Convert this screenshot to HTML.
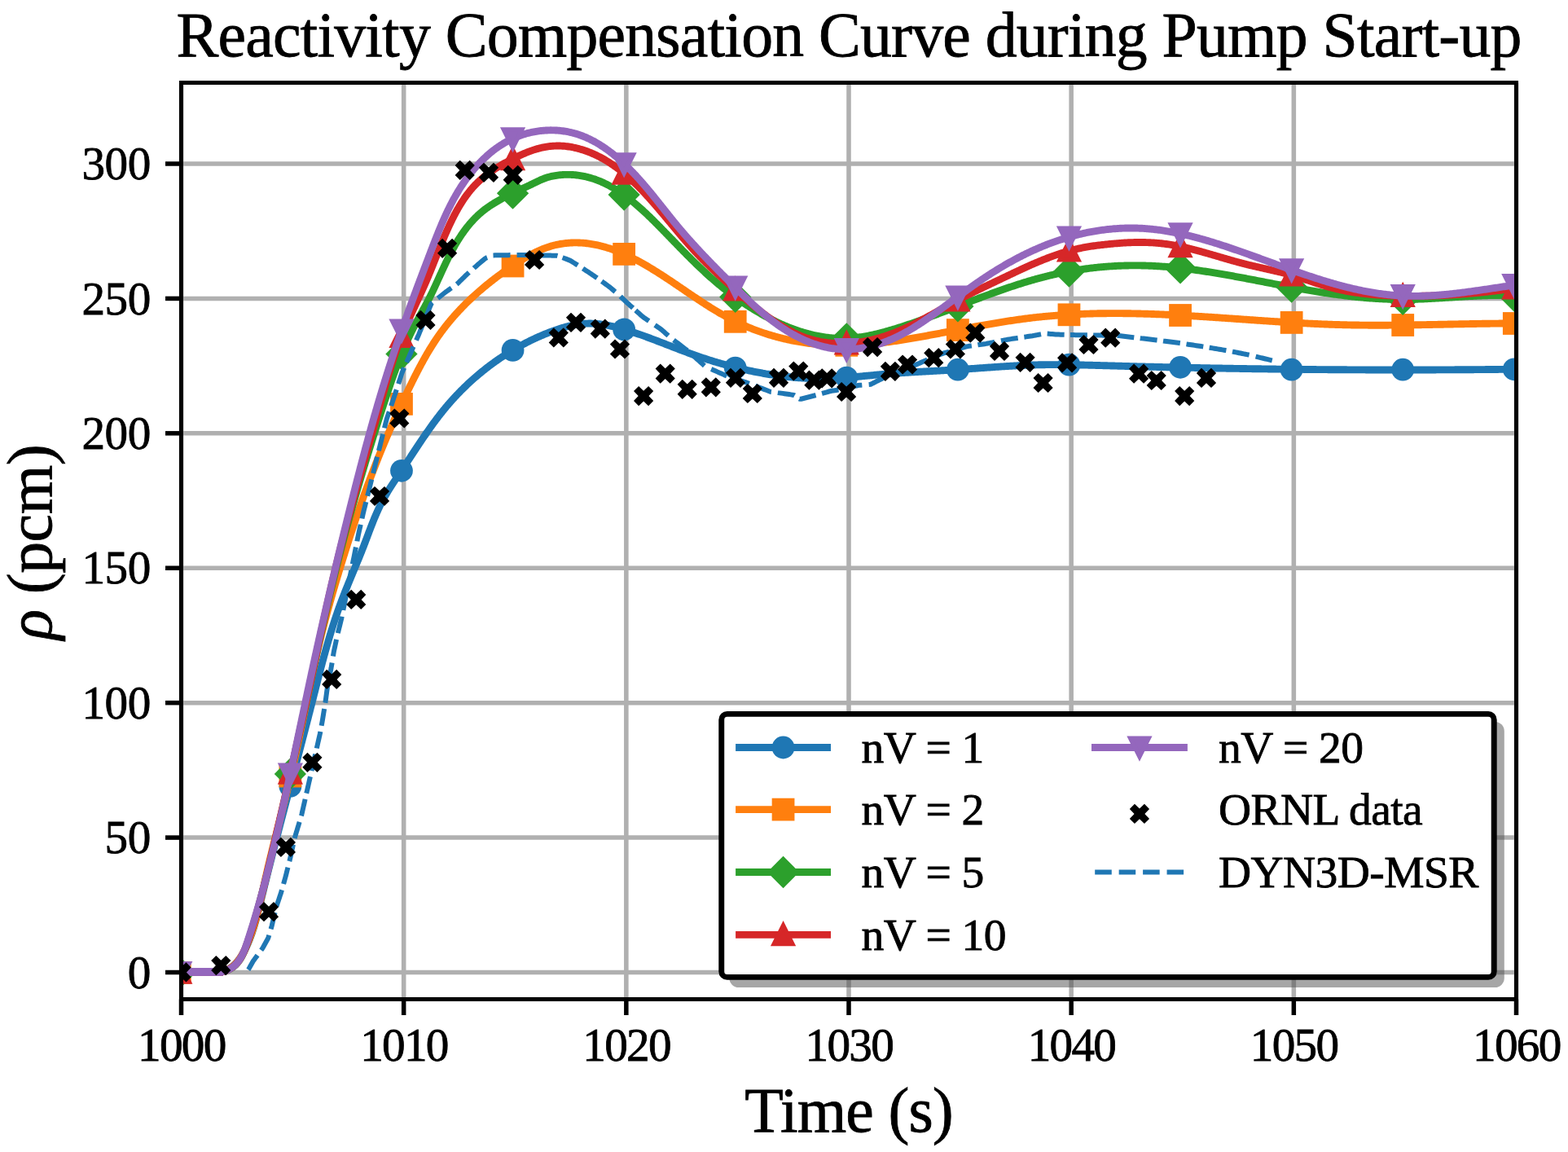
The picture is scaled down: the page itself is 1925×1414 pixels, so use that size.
<!DOCTYPE html>
<html lang="en"><head><meta charset="utf-8"><title>Reactivity Compensation Curve during Pump Start-up</title>
<style>html,body{margin:0;padding:0;background:#fff;}body{width:1925px;height:1414px;overflow:hidden;}svg{display:block;}text{font-family:"Liberation Serif","DejaVu Serif",serif;fill:#000;stroke:#000;stroke-width:0.8px;}</style></head><body>
<svg width="1925" height="1414" viewBox="0 0 1925 1414">
<rect width="1925" height="1414" fill="#fff"/>
<defs><clipPath id="ax"><rect x="222.5" y="101.5" width="1639" height="1125"/></clipPath></defs>
<g stroke="#b0b0b0" stroke-width="5.56" fill="none">
<line x1="222.5" y1="101.5" x2="222.5" y2="1226.5"/>
<line x1="495.67" y1="101.5" x2="495.67" y2="1226.5"/>
<line x1="768.83" y1="101.5" x2="768.83" y2="1226.5"/>
<line x1="1042" y1="101.5" x2="1042" y2="1226.5"/>
<line x1="1315.17" y1="101.5" x2="1315.17" y2="1226.5"/>
<line x1="1588.33" y1="101.5" x2="1588.33" y2="1226.5"/>
<line x1="1861.5" y1="101.5" x2="1861.5" y2="1226.5"/>
<line x1="222.5" y1="1193.5" x2="1861.5" y2="1193.5"/>
<line x1="222.5" y1="1028.08" x2="1861.5" y2="1028.08"/>
<line x1="222.5" y1="862.67" x2="1861.5" y2="862.67"/>
<line x1="222.5" y1="697.25" x2="1861.5" y2="697.25"/>
<line x1="222.5" y1="531.83" x2="1861.5" y2="531.83"/>
<line x1="222.5" y1="366.42" x2="1861.5" y2="366.42"/>
<line x1="222.5" y1="201" x2="1861.5" y2="201"/>
</g>
<g clip-path="url(#ax)">
<path d="M219.8 1193.4 L268.06 1193.4 L268.07 1193.4 L269.72 1193.15 L271.31 1192.83 L272.86 1192.44 L274.36 1192 L275.81 1191.5 L277.22 1190.95 L278.58 1190.35 L279.9 1189.7 L281.17 1189 L282.41 1188.25 L283.6 1187.46 L284.76 1186.63 L285.88 1185.75 L286.96 1184.84 L288.01 1183.89 L289.03 1182.9 L290.01 1181.88 L290.96 1180.82 L291.88 1179.74 L292.78 1178.62 L293.64 1177.48 L294.48 1176.32 L295.3 1175.13 L296.09 1173.92 L296.86 1172.69 L297.61 1171.44 L298.34 1170.18 L299.05 1168.9 L299.74 1167.61 L300.42 1166.3 L301.08 1164.99 L301.73 1163.67 L302.36 1162.35 L302.98 1161.01 L303.59 1159.67 L304.19 1158.32 L304.77 1156.96 L305.34 1155.6 L305.9 1154.23 L306.45 1152.86 L306.99 1151.48 L307.52 1150.09 L308.03 1148.7 L308.54 1147.3 L309.04 1145.89 L309.52 1144.48 L310 1143.07 L310.47 1141.65 L310.93 1140.23 L311.39 1138.8 L311.83 1137.37 L312.27 1135.93 L312.7 1134.49 L313.13 1133.05 L313.54 1131.6 L313.96 1130.15 L314.36 1128.69 L314.76 1127.24 L315.16 1125.78 L315.55 1124.32 L315.94 1122.85 L316.32 1121.39 L316.7 1119.92 L317.07 1118.45 L317.44 1116.98 L317.81 1115.51 L318.18 1114.03 L318.54 1112.56 L318.91 1111.08 L319.27 1109.61 L319.63 1108.13 L319.99 1106.65 L320.34 1105.18 L320.7 1103.7 L321.06 1102.23 L321.42 1100.75 L321.78 1099.28 L322.14 1097.8 L322.5 1096.33 L322.86 1094.86 L323.22 1093.39 L323.58 1091.91 L323.95 1090.44 L324.31 1088.97 L324.67 1087.5 L325.03 1086.03 L325.4 1084.56 L325.76 1083.1 L326.13 1081.63 L326.49 1080.16 L326.86 1078.7 L327.22 1077.23 L327.59 1075.76 L327.95 1074.3 L328.32 1072.83 L328.69 1071.37 L329.05 1069.91 L329.42 1068.44 L329.79 1066.98 L330.16 1065.52 L330.53 1064.06 L330.9 1062.6 L331.27 1061.13 L331.64 1059.67 L332.01 1058.21 L332.38 1056.75 L332.75 1055.3 L333.12 1053.84 L333.49 1052.38 L333.86 1050.92 L334.23 1049.46 L334.61 1048.01 L334.98 1046.55 L335.35 1045.09 L335.72 1043.64 L336.1 1042.18 L336.47 1040.73 L336.84 1039.27 L337.22 1037.82 L337.59 1036.36 L337.97 1034.91 L338.34 1033.46 L338.72 1032 L339.09 1030.55 L339.47 1029.1 L339.84 1027.65 L340.22 1026.19 L340.6 1024.74 L340.97 1023.29 L341.35 1021.84 L341.73 1020.39 L342.1 1018.94 L342.48 1017.49 L342.86 1016.04 L343.24 1014.59 L343.61 1013.14 L343.99 1011.69 L344.37 1010.24 L344.75 1008.79 L345.13 1007.35 L345.51 1005.9 L345.88 1004.45 L346.26 1003 L346.64 1001.56 L347.02 1000.11 L347.4 998.66 L347.78 997.21 L348.16 995.77 L348.54 994.32 L348.92 992.87 L349.3 991.43 L349.68 989.98 L350.06 988.54 L350.44 987.09 L350.82 985.65 L351.2 984.2 L351.58 982.76 L351.96 981.31 L352.34 979.86 L352.72 978.42 L353.1 976.98 L353.48 975.53 L353.86 974.09 L354.24 972.64 L354.62 971.2 L355.01 969.75 L355.39 968.31 L355.77 966.86 L356.15 965.42 L356.53 963.98 L356.91 962.53 L357.29 961.09 L357.67 959.64 L358.05 958.2 L358.43 956.76 L358.82 955.31 L359.2 953.87 L359.58 952.42 L359.96 950.98 L360.34 949.54 L360.72 948.09 L361.1 946.65 L361.48 945.2 L361.86 943.76 L362.24 942.32 L362.62 940.87 L363 939.43 L363.38 937.98 L363.76 936.54 L364.14 935.1 L364.53 933.65 L364.91 932.21 L365.29 930.76 L365.67 929.32 L366.05 927.87 L366.42 926.43 L366.8 924.98 L367.18 923.54 L367.56 922.09 L367.94 920.65 L368.32 919.2 L368.7 917.76 L369.08 916.31 L369.46 914.87 L369.84 913.42 L370.22 911.97 L370.59 910.53 L370.97 909.08 L371.35 907.63 L371.73 906.19 L372.11 904.74 L372.48 903.29 L372.86 901.85 L373.24 900.4 L373.61 898.95 L373.99 897.5 L374.37 896.05 L374.74 894.6 L375.12 893.16 L375.5 891.71 L375.87 890.26 L376.25 888.81 L376.62 887.36 L377 885.91 L377.37 884.46 L377.75 883.01 L378.12 881.56 L378.49 880.11 L378.87 878.65 L379.24 877.2 L379.61 875.75 L379.99 874.3 L380.36 872.85 L380.73 871.39 L381.1 869.94 L381.48 868.49 L381.85 867.03 L382.22 865.58 L382.59 864.12 L382.96 862.67 L383.33 861.21 L383.7 859.76 L384.07 858.3 L384.44 856.84 L384.81 855.39 L385.18 853.93 L385.55 852.47 L385.92 851.02 L386.29 849.56 L386.66 848.1 L387.03 846.64 L387.4 845.18 L387.77 843.73 L388.14 842.27 L388.51 840.81 L388.88 839.35 L389.25 837.89 L389.62 836.44 L390 834.98 L390.37 833.52 L390.74 832.06 L391.12 830.6 L391.5 829.15 L391.87 827.69 L392.25 826.23 L392.63 824.77 L393.01 823.32 L393.39 821.86 L393.77 820.41 L394.15 818.95 L394.54 817.49 L394.92 816.04 L395.31 814.58 L395.7 813.13 L396.09 811.67 L396.48 810.22 L396.87 808.77 L397.26 807.31 L397.66 805.86 L398.05 804.41 L398.45 802.96 L398.85 801.51 L399.25 800.06 L399.66 798.61 L400.06 797.16 L400.47 795.71 L400.88 794.26 L401.29 792.82 L401.7 791.37 L402.12 789.93 L402.54 788.48 L402.96 787.04 L403.38 785.59 L403.81 784.15 L404.23 782.71 L404.66 781.27 L405.09 779.83 L405.53 778.39 L405.96 776.96 L406.4 775.52 L406.85 774.08 L407.29 772.65 L407.74 771.22 L408.19 769.78 L408.64 768.35 L409.1 766.92 L409.56 765.49 L410.02 764.07 L410.49 762.64 L410.95 761.21 L411.43 759.79 L411.9 758.37 L412.38 756.95 L412.86 755.53 L413.34 754.11 L413.83 752.69 L414.32 751.27 L414.82 749.86 L415.32 748.44 L415.82 747.03 L416.33 745.62 L416.84 744.21 L417.35 742.81 L417.87 741.4 L418.39 739.99 L418.91 738.59 L419.44 737.19 L419.97 735.79 L420.51 734.39 L421.04 732.99 L421.59 731.6 L422.13 730.2 L422.68 728.81 L423.22 727.41 L423.78 726.02 L424.33 724.63 L424.89 723.24 L425.44 721.85 L426.01 720.46 L426.57 719.07 L427.13 717.69 L427.7 716.3 L428.26 714.91 L428.83 713.53 L429.4 712.14 L429.97 710.76 L430.54 709.37 L431.11 707.99 L431.69 706.6 L432.26 705.22 L432.83 703.84 L433.41 702.45 L433.98 701.07 L434.56 699.69 L435.13 698.3 L435.7 696.92 L436.28 695.53 L436.85 694.15 L437.42 692.76 L437.99 691.38 L438.57 689.99 L439.14 688.61 L439.7 687.22 L440.27 685.83 L440.84 684.44 L441.4 683.05 L441.96 681.66 L442.52 680.27 L443.08 678.88 L443.64 677.49 L444.19 676.1 L444.75 674.7 L445.29 673.31 L445.84 671.91 L446.39 670.51 L446.93 669.11 L447.47 667.71 L448 666.31 L448.54 664.91 L449.07 663.51 L449.6 662.11 L450.13 660.7 L450.66 659.3 L451.19 657.89 L451.72 656.49 L452.25 655.09 L452.78 653.68 L453.31 652.28 L453.85 650.88 L454.38 649.48 L454.92 648.08 L455.46 646.68 L456 645.29 L456.55 643.89 L457.1 642.5 L457.65 641.11 L458.2 639.72 L458.77 638.33 L459.33 636.94 L459.9 635.56 L460.48 634.18 L461.06 632.81 L461.65 631.43 L462.25 630.06 L462.85 628.7 L463.46 627.33 L464.07 625.97 L464.7 624.62 L465.33 623.27 L465.97 621.92 L466.62 620.58 L467.28 619.24 L467.95 617.9 L468.63 616.58 L469.32 615.25 L470.02 613.93 L470.73 612.62 L471.45 611.31 L472.18 610.01 L472.92 608.71 L473.67 607.41 L474.43 606.12 L475.2 604.84 L475.97 603.56 L476.75 602.28 L477.54 601 L478.34 599.73 L479.14 598.46 L479.95 597.19 L480.76 595.93 L481.57 594.67 L482.39 593.41 L483.22 592.15 L484.05 590.89 L484.88 589.64 L485.71 588.39 L486.55 587.13 L487.38 585.88 L488.22 584.63 L489.06 583.38 L489.9 582.13 L490.74 580.88 L491.58 579.63 L492.42 578.38 L493.25 577.13 L494.09 575.87 L494.92 574.62 L495.75 573.36 L496.58 572.11 L497.41 570.85 L498.24 569.6 L499.07 568.34 L499.89 567.09 L500.72 565.83 L501.55 564.57 L502.37 563.32 L503.19 562.06 L504.02 560.81 L504.84 559.55 L505.67 558.29 L506.49 557.04 L507.32 555.78 L508.14 554.53 L508.96 553.28 L509.79 552.02 L510.62 550.77 L511.44 549.52 L512.27 548.27 L513.1 547.02 L513.93 545.77 L514.76 544.52 L515.59 543.28 L516.43 542.03 L517.26 540.79 L518.1 539.55 L518.94 538.31 L519.78 537.07 L520.62 535.83 L521.47 534.6 L522.31 533.37 L523.16 532.13 L524.01 530.91 L524.87 529.68 L525.73 528.45 L526.59 527.23 L527.45 526.01 L528.31 524.79 L529.18 523.58 L530.06 522.37 L530.93 521.16 L531.81 519.95 L532.69 518.74 L533.58 517.54 L534.47 516.34 L535.36 515.15 L536.26 513.96 L537.16 512.77 L538.07 511.58 L538.98 510.4 L539.89 509.22 L540.81 508.04 L541.74 506.87 L542.67 505.7 L543.6 504.54 L544.54 503.38 L545.49 502.22 L546.44 501.07 L547.39 499.92 L548.35 498.77 L549.32 497.63 L550.29 496.5 L551.27 495.37 L552.25 494.24 L553.24 493.11 L554.23 492 L555.23 490.88 L556.24 489.77 L557.25 488.66 L558.26 487.56 L559.28 486.47 L560.31 485.37 L561.34 484.29 L562.37 483.2 L563.41 482.12 L564.46 481.05 L565.51 479.98 L566.57 478.92 L567.63 477.86 L568.7 476.8 L569.77 475.75 L570.85 474.71 L571.93 473.67 L573.01 472.63 L574.11 471.6 L575.2 470.57 L576.3 469.55 L577.41 468.54 L578.52 467.53 L579.64 466.52 L580.76 465.52 L581.88 464.53 L583.01 463.53 L584.15 462.55 L585.29 461.57 L586.43 460.6 L587.58 459.63 L588.73 458.66 L589.89 457.7 L591.05 456.75 L592.22 455.8 L593.39 454.86 L594.57 453.92 L595.75 452.99 L596.93 452.06 L598.12 451.14 L599.32 450.23 L600.51 449.32 L601.72 448.41 L602.92 447.52 L604.13 446.62 L605.35 445.74 L606.57 444.86 L607.79 443.98 L609.02 443.11 L610.25 442.25 L611.48 441.39 L612.72 440.54 L613.97 439.69 L615.21 438.85 L616.46 438.02 L617.72 437.19 L618.98 436.37 L620.24 435.55 L621.51 434.74 L622.78 433.94 L624.06 433.14 L625.33 432.35 L626.62 431.56 L627.9 430.79 L629.19 430.01 L630.49 429.25 L631.78 428.49 L633.08 427.73 L634.39 426.99 L635.7 426.25 L637.01 425.51 L638.32 424.78 L639.64 424.06 L640.96 423.35 L642.29 422.64 L643.62 421.94 L644.95 421.24 L646.29 420.55 L647.62 419.87 L648.97 419.2 L650.31 418.53 L651.66 417.87 L653.01 417.21 L654.37 416.57 L655.73 415.93 L657.09 415.29 L658.45 414.66 L659.82 414.04 L661.19 413.43 L662.57 412.83 L663.94 412.23 L665.32 411.64 L666.71 411.05 L668.09 410.47 L669.48 409.9 L670.87 409.34 L672.27 408.78 L673.67 408.23 L675.07 407.69 L676.47 407.16 L677.88 406.63 L679.29 406.12 L680.7 405.61 L682.11 405.11 L683.53 404.62 L684.95 404.15 L686.37 403.68 L687.79 403.22 L689.22 402.78 L690.65 402.35 L692.08 401.93 L693.51 401.53 L694.95 401.14 L696.39 400.77 L697.83 400.41 L699.27 400.06 L700.72 399.73 L702.17 399.42 L703.61 399.13 L705.07 398.85 L706.52 398.59 L707.98 398.35 L709.43 398.12 L710.89 397.92 L712.36 397.74 L713.82 397.57 L715.28 397.43 L716.75 397.31 L718.22 397.21 L719.69 397.14 L721.16 397.08 L722.64 397.05 L724.11 397.04 L725.59 397.06 L727.07 397.1 L728.55 397.16 L730.03 397.25 L731.51 397.35 L733 397.48 L734.48 397.62 L735.96 397.79 L737.45 397.97 L738.93 398.17 L740.41 398.39 L741.9 398.62 L743.38 398.87 L744.87 399.14 L746.35 399.42 L747.83 399.72 L749.31 400.03 L750.79 400.35 L752.27 400.69 L753.75 401.04 L755.22 401.4 L756.69 401.77 L758.17 402.15 L759.64 402.54 L761.1 402.94 L762.57 403.34 L764.03 403.76 L765.49 404.18 L766.95 404.61 L768.4 405.04 L769.86 405.48 L771.3 405.93 L772.75 406.38 L774.19 406.84 L775.64 407.3 L777.08 407.76 L778.51 408.24 L779.95 408.71 L781.38 409.2 L782.81 409.68 L784.24 410.17 L785.66 410.67 L787.09 411.16 L788.51 411.67 L789.93 412.17 L791.35 412.68 L792.76 413.19 L794.18 413.71 L795.59 414.23 L797.01 414.75 L798.42 415.27 L799.83 415.8 L801.24 416.33 L802.64 416.86 L804.05 417.39 L805.45 417.93 L806.86 418.46 L808.26 419 L809.66 419.54 L811.07 420.08 L812.47 420.62 L813.87 421.16 L815.27 421.71 L816.67 422.25 L818.06 422.79 L819.46 423.34 L820.86 423.88 L822.26 424.42 L823.66 424.97 L825.06 425.51 L826.45 426.05 L827.85 426.59 L829.25 427.13 L830.65 427.67 L832.05 428.21 L833.44 428.74 L834.84 429.28 L836.24 429.81 L837.64 430.34 L839.04 430.87 L840.45 431.39 L841.85 431.91 L843.25 432.43 L844.66 432.95 L846.06 433.47 L847.47 433.98 L848.87 434.49 L850.28 434.99 L851.69 435.49 L853.1 435.99 L854.51 436.48 L855.93 436.97 L857.34 437.46 L858.75 437.94 L860.17 438.42 L861.59 438.9 L863.01 439.37 L864.42 439.84 L865.85 440.31 L867.27 440.77 L868.69 441.23 L870.11 441.68 L871.54 442.13 L872.97 442.58 L874.39 443.02 L875.82 443.46 L877.25 443.9 L878.68 444.33 L880.11 444.76 L881.55 445.18 L882.98 445.6 L884.42 446.02 L885.86 446.43 L887.29 446.84 L888.73 447.25 L890.17 447.65 L891.61 448.04 L893.06 448.44 L894.5 448.83 L895.95 449.21 L897.39 449.59 L898.84 449.97 L900.29 450.34 L901.74 450.71 L903.19 451.07 L904.64 451.43 L906.1 451.79 L907.55 452.14 L909.01 452.49 L910.47 452.83 L911.93 453.17 L913.39 453.5 L914.85 453.83 L916.31 454.16 L917.77 454.48 L919.24 454.8 L920.7 455.11 L922.17 455.42 L923.64 455.72 L925.11 456.02 L926.58 456.32 L928.06 456.61 L929.53 456.89 L931 457.18 L932.48 457.45 L933.96 457.72 L935.44 457.99 L936.92 458.26 L938.4 458.51 L939.88 458.77 L941.37 459.02 L942.85 459.26 L944.34 459.5 L945.82 459.73 L947.31 459.96 L948.8 460.19 L950.29 460.41 L951.78 460.62 L953.27 460.83 L954.76 461.03 L956.25 461.23 L957.75 461.43 L959.24 461.62 L960.74 461.8 L962.23 461.98 L963.73 462.15 L965.22 462.32 L966.72 462.48 L968.22 462.64 L969.72 462.79 L971.22 462.94 L972.71 463.08 L974.21 463.21 L975.71 463.34 L977.21 463.47 L978.71 463.58 L980.21 463.7 L981.71 463.8 L983.22 463.91 L984.72 464 L986.22 464.09 L987.72 464.18 L989.22 464.25 L990.72 464.33 L992.22 464.39 L993.72 464.45 L995.23 464.51 L996.73 464.55 L998.23 464.6 L999.73 464.63 L1001.23 464.66 L1002.73 464.69 L1004.23 464.7 L1005.73 464.71 L1007.23 464.72 L1008.73 464.72 L1010.23 464.71 L1011.72 464.7 L1013.22 464.67 L1014.72 464.65 L1016.22 464.61 L1017.71 464.57 L1019.21 464.53 L1020.7 464.48 L1022.2 464.42 L1023.69 464.36 L1025.19 464.29 L1026.68 464.22 L1028.17 464.14 L1029.67 464.05 L1031.16 463.97 L1032.65 463.87 L1034.14 463.78 L1035.64 463.68 L1037.13 463.57 L1038.62 463.47 L1040.11 463.36 L1041.6 463.24 L1043.09 463.12 L1044.58 463 L1046.07 462.88 L1047.56 462.76 L1049.05 462.63 L1050.54 462.5 L1052.03 462.37 L1053.52 462.23 L1055.01 462.1 L1056.5 461.96 L1057.99 461.82 L1059.48 461.69 L1060.97 461.55 L1062.46 461.41 L1063.95 461.27 L1065.44 461.13 L1066.93 460.98 L1068.42 460.84 L1069.91 460.7 L1071.4 460.56 L1072.89 460.42 L1074.38 460.28 L1075.87 460.15 L1077.36 460.01 L1078.85 459.88 L1080.34 459.74 L1081.83 459.61 L1083.33 459.48 L1084.82 459.35 L1086.31 459.23 L1087.8 459.11 L1089.3 458.99 L1090.79 458.87 L1092.29 458.75 L1093.78 458.64 L1095.27 458.52 L1096.77 458.41 L1098.26 458.3 L1099.76 458.19 L1101.25 458.09 L1102.75 457.98 L1104.25 457.88 L1105.74 457.78 L1107.24 457.68 L1108.73 457.58 L1110.23 457.48 L1111.73 457.39 L1113.23 457.29 L1114.72 457.2 L1116.22 457.11 L1117.72 457.01 L1119.22 456.92 L1120.71 456.83 L1122.21 456.74 L1123.71 456.66 L1125.21 456.57 L1126.71 456.48 L1128.21 456.4 L1129.71 456.31 L1131.2 456.23 L1132.7 456.14 L1134.2 456.06 L1135.7 455.97 L1137.2 455.89 L1138.7 455.81 L1140.2 455.72 L1141.7 455.64 L1143.2 455.56 L1144.7 455.48 L1146.2 455.39 L1147.7 455.31 L1149.2 455.23 L1150.7 455.14 L1152.2 455.06 L1153.7 454.98 L1155.2 454.89 L1156.7 454.81 L1158.2 454.72 L1159.7 454.64 L1161.2 454.55 L1162.7 454.46 L1164.2 454.38 L1165.7 454.29 L1167.2 454.2 L1168.7 454.11 L1170.2 454.02 L1171.7 453.93 L1173.2 453.83 L1174.69 453.74 L1176.19 453.64 L1177.69 453.55 L1179.19 453.45 L1180.69 453.35 L1182.19 453.25 L1183.69 453.15 L1185.19 453.05 L1186.69 452.95 L1188.19 452.84 L1189.68 452.74 L1191.18 452.64 L1192.68 452.53 L1194.18 452.43 L1195.68 452.32 L1197.18 452.21 L1198.68 452.11 L1200.17 452 L1201.67 451.89 L1203.17 451.79 L1204.67 451.68 L1206.17 451.57 L1207.66 451.47 L1209.16 451.36 L1210.66 451.25 L1212.16 451.15 L1213.66 451.04 L1215.15 450.94 L1216.65 450.83 L1218.15 450.73 L1219.65 450.63 L1221.14 450.52 L1222.64 450.42 L1224.14 450.32 L1225.64 450.22 L1227.14 450.12 L1228.63 450.02 L1230.13 449.92 L1231.63 449.83 L1233.13 449.73 L1234.62 449.64 L1236.12 449.55 L1237.62 449.46 L1239.12 449.37 L1240.61 449.28 L1242.11 449.19 L1243.61 449.11 L1245.11 449.02 L1246.6 448.94 L1248.1 448.86 L1249.6 448.79 L1251.1 448.71 L1252.59 448.64 L1254.09 448.56 L1255.59 448.5 L1257.09 448.43 L1258.59 448.36 L1260.08 448.3 L1261.58 448.24 L1263.08 448.18 L1264.58 448.13 L1266.08 448.08 L1267.57 448.03 L1269.07 447.98 L1270.57 447.94 L1272.07 447.9 L1273.57 447.86 L1275.06 447.82 L1276.56 447.79 L1278.06 447.76 L1279.56 447.73 L1281.06 447.71 L1282.56 447.69 L1284.05 447.67 L1285.55 447.65 L1287.05 447.64 L1288.55 447.63 L1290.05 447.62 L1291.55 447.61 L1293.05 447.6 L1294.55 447.6 L1296.04 447.6 L1297.54 447.6 L1299.04 447.6 L1300.54 447.61 L1302.04 447.62 L1303.54 447.62 L1305.04 447.64 L1306.54 447.65 L1308.04 447.66 L1309.54 447.68 L1311.04 447.7 L1312.53 447.71 L1314.03 447.74 L1315.53 447.76 L1317.03 447.78 L1318.53 447.81 L1320.03 447.83 L1321.53 447.86 L1323.03 447.89 L1324.53 447.92 L1326.03 447.95 L1327.53 447.98 L1329.03 448.01 L1330.53 448.05 L1332.03 448.08 L1333.53 448.12 L1335.03 448.16 L1336.53 448.19 L1338.02 448.23 L1339.52 448.27 L1341.02 448.31 L1342.52 448.35 L1344.02 448.39 L1345.52 448.43 L1347.02 448.47 L1348.52 448.51 L1350.02 448.56 L1351.52 448.6 L1353.02 448.64 L1354.52 448.68 L1356.02 448.73 L1357.52 448.77 L1359.02 448.81 L1360.52 448.85 L1362.02 448.9 L1363.52 448.94 L1365.02 448.98 L1366.52 449.03 L1368.02 449.07 L1369.52 449.11 L1371.02 449.15 L1372.52 449.19 L1374.02 449.23 L1375.52 449.27 L1377.02 449.32 L1378.52 449.36 L1380.02 449.4 L1381.52 449.44 L1383.01 449.48 L1384.51 449.52 L1386.01 449.56 L1387.51 449.6 L1389.01 449.64 L1390.51 449.68 L1392.01 449.72 L1393.51 449.76 L1395.01 449.79 L1396.51 449.83 L1398.01 449.87 L1399.51 449.91 L1401.01 449.95 L1402.51 449.99 L1404.01 450.02 L1405.51 450.06 L1407.01 450.1 L1408.51 450.14 L1410.01 450.17 L1411.51 450.21 L1413.01 450.25 L1414.51 450.28 L1416.01 450.32 L1417.51 450.36 L1419.01 450.39 L1420.51 450.43 L1422.01 450.46 L1423.51 450.5 L1425.01 450.53 L1426.51 450.57 L1428.01 450.6 L1429.51 450.64 L1431 450.67 L1432.5 450.71 L1434 450.74 L1435.5 450.78 L1437 450.81 L1438.5 450.84 L1440 450.88 L1441.5 450.91 L1443 450.94 L1444.5 450.98 L1446 451.01 L1447.5 451.04 L1449 451.08 L1450.5 451.11 L1452 451.14 L1453.5 451.17 L1455 451.2 L1456.5 451.24 L1458 451.27 L1459.5 451.3 L1461 451.33 L1462.5 451.36 L1464 451.39 L1465.5 451.42 L1467 451.45 L1468.5 451.48 L1470 451.51 L1471.5 451.54 L1473 451.57 L1474.5 451.6 L1476 451.63 L1477.5 451.66 L1479 451.69 L1480.5 451.72 L1481.99 451.74 L1483.49 451.77 L1484.99 451.8 L1486.49 451.83 L1487.99 451.86 L1489.49 451.88 L1490.99 451.91 L1492.49 451.94 L1493.99 451.97 L1495.49 451.99 L1496.99 452.02 L1498.49 452.05 L1499.99 452.07 L1501.49 452.1 L1502.99 452.13 L1504.49 452.15 L1505.99 452.18 L1507.49 452.2 L1508.99 452.23 L1510.49 452.25 L1511.99 452.28 L1513.49 452.3 L1514.99 452.33 L1516.49 452.35 L1517.99 452.38 L1519.49 452.4 L1520.99 452.42 L1522.49 452.45 L1523.99 452.47 L1525.49 452.49 L1526.99 452.52 L1528.49 452.54 L1529.99 452.56 L1531.49 452.59 L1532.99 452.61 L1534.49 452.63 L1535.98 452.65 L1537.48 452.68 L1538.98 452.7 L1540.48 452.72 L1541.98 452.74 L1543.48 452.76 L1544.98 452.78 L1546.48 452.8 L1547.98 452.82 L1549.48 452.84 L1550.98 452.86 L1552.48 452.88 L1553.98 452.9 L1555.48 452.92 L1556.98 452.94 L1558.48 452.96 L1559.98 452.98 L1561.48 453 L1562.98 453.02 L1564.48 453.04 L1565.98 453.06 L1567.48 453.08 L1568.98 453.09 L1570.48 453.11 L1571.98 453.13 L1573.48 453.15 L1574.98 453.16 L1576.48 453.18 L1577.98 453.2 L1579.48 453.22 L1580.98 453.23 L1582.48 453.25 L1583.98 453.27 L1585.48 453.28 L1586.98 453.3 L1588.48 453.31 L1589.98 453.33 L1591.48 453.34 L1592.98 453.36 L1594.48 453.38 L1595.98 453.39 L1597.48 453.4 L1598.98 453.42 L1600.47 453.43 L1601.97 453.45 L1603.47 453.46 L1604.97 453.48 L1606.47 453.49 L1607.97 453.5 L1609.47 453.52 L1610.97 453.53 L1612.47 453.54 L1613.97 453.56 L1615.47 453.57 L1616.97 453.58 L1618.47 453.59 L1619.97 453.6 L1621.47 453.62 L1622.97 453.63 L1624.47 453.64 L1625.97 453.65 L1627.47 453.66 L1628.97 453.67 L1630.47 453.68 L1631.97 453.69 L1633.47 453.71 L1634.97 453.72 L1636.47 453.73 L1637.97 453.74 L1639.47 453.75 L1640.97 453.75 L1642.47 453.76 L1643.97 453.77 L1645.47 453.78 L1646.97 453.79 L1648.47 453.8 L1649.97 453.81 L1651.47 453.82 L1652.97 453.82 L1654.47 453.83 L1655.97 453.84 L1657.47 453.85 L1658.97 453.86 L1660.47 453.86 L1661.97 453.87 L1663.47 453.88 L1664.97 453.88 L1666.47 453.89 L1667.97 453.9 L1669.47 453.9 L1670.97 453.91 L1672.47 453.91 L1673.97 453.92 L1675.47 453.92 L1676.97 453.93 L1678.47 453.93 L1679.97 453.94 L1681.47 453.94 L1682.97 453.95 L1684.47 453.95 L1685.97 453.96 L1687.47 453.96 L1688.97 453.96 L1690.47 453.97 L1691.97 453.97 L1693.47 453.98 L1694.97 453.98 L1696.47 453.98 L1697.97 453.98 L1699.47 453.99 L1700.97 453.99 L1702.46 453.99 L1703.96 453.99 L1705.46 453.99 L1706.96 454 L1708.46 454 L1709.96 454 L1711.46 454 L1712.96 454 L1714.46 454 L1715.96 454 L1717.46 454 L1718.96 454 L1720.46 454 L1721.96 454 L1723.46 454 L1724.96 454 L1726.46 454 L1727.96 454 L1729.46 454 L1730.96 454 L1732.46 454 L1733.96 453.99 L1735.46 453.99 L1736.96 453.99 L1738.46 453.99 L1739.96 453.99 L1741.46 453.98 L1742.96 453.98 L1744.46 453.98 L1745.96 453.98 L1747.46 453.97 L1748.96 453.97 L1750.46 453.96 L1751.96 453.96 L1753.46 453.96 L1754.96 453.95 L1756.46 453.95 L1757.96 453.94 L1759.46 453.94 L1760.96 453.93 L1762.46 453.93 L1763.96 453.92 L1765.46 453.92 L1766.96 453.91 L1768.46 453.91 L1769.96 453.9 L1771.46 453.9 L1772.96 453.89 L1774.46 453.88 L1775.96 453.88 L1777.46 453.87 L1778.96 453.86 L1780.46 453.85 L1781.96 453.85 L1783.46 453.84 L1784.96 453.83 L1786.46 453.82 L1787.96 453.82 L1789.46 453.81 L1790.96 453.8 L1792.46 453.79 L1793.96 453.78 L1795.46 453.77 L1796.96 453.76 L1798.46 453.75 L1799.96 453.74 L1801.46 453.73 L1802.96 453.72 L1804.46 453.71 L1805.96 453.7 L1807.46 453.69 L1808.96 453.68 L1810.47 453.67 L1811.97 453.66 L1813.47 453.65 L1814.97 453.64 L1816.47 453.63 L1817.97 453.62 L1819.47 453.6 L1820.97 453.59 L1822.47 453.58 L1823.97 453.57 L1825.47 453.55 L1826.97 453.54 L1828.47 453.53 L1829.97 453.51 L1831.47 453.5 L1832.97 453.49 L1834.47 453.47 L1835.97 453.46 L1837.47 453.45 L1838.97 453.43 L1840.47 453.42 L1841.97 453.4 L1843.47 453.39 L1844.97 453.37 L1846.47 453.36 L1847.97 453.34 L1849.47 453.33 L1850.97 453.31 L1852.47 453.3 L1853.97 453.28 L1855.47 453.26 L1856.97 453.25 L1858.47 453.23 L1859.97 453.21 L1861.47 453.2 L1862.97 453.18 L1864.47 453.16 L1865.97 453.14 L1867.47 453.13 L1868.97 453.11" fill="none" stroke="#1f77b4" stroke-width="8.9" stroke-linejoin="round" stroke-linecap="butt"/>
<line x1="219" y1="1192.9" x2="274" y2="1192.9" stroke="#1f77b4" stroke-width="9.9"/>
<g><circle cx="220.8" cy="1193.8" r="13.89" fill="#1f77b4"/><circle cx="356.38" cy="964.9" r="13.89" fill="#1f77b4"/><circle cx="492.97" cy="577.8" r="13.89" fill="#1f77b4"/><circle cx="629.55" cy="429.9" r="13.89" fill="#1f77b4"/><circle cx="766.13" cy="404.4" r="13.89" fill="#1f77b4"/><circle cx="902.71" cy="451.6" r="13.89" fill="#1f77b4"/><circle cx="1039.3" cy="463.6" r="13.89" fill="#1f77b4"/><circle cx="1175.88" cy="453.7" r="13.89" fill="#1f77b4"/><circle cx="1312.46" cy="447.7" r="13.89" fill="#1f77b4"/><circle cx="1449.05" cy="450.8" r="13.89" fill="#1f77b4"/><circle cx="1585.63" cy="453.7" r="13.89" fill="#1f77b4"/><circle cx="1722.21" cy="453.7" r="13.89" fill="#1f77b4"/><circle cx="1858.8" cy="453.3" r="13.89" fill="#1f77b4"/></g>
<path d="M219.8 1193.4 L268.02 1193.4 L268.03 1193.4 L269.72 1193.2 L271.34 1192.92 L272.92 1192.58 L274.43 1192.17 L275.9 1191.7 L277.32 1191.17 L278.69 1190.59 L280.01 1189.95 L281.29 1189.26 L282.53 1188.51 L283.72 1187.72 L284.87 1186.88 L285.98 1186 L287.05 1185.07 L288.09 1184.11 L289.09 1183.1 L290.06 1182.06 L290.99 1180.99 L291.9 1179.88 L292.77 1178.74 L293.62 1177.58 L294.44 1176.39 L295.24 1175.17 L296.01 1173.93 L296.76 1172.68 L297.49 1171.4 L298.2 1170.11 L298.89 1168.81 L299.57 1167.5 L300.23 1166.17 L300.88 1164.84 L301.52 1163.5 L302.15 1162.16 L302.76 1160.81 L303.36 1159.46 L303.95 1158.1 L304.53 1156.73 L305.1 1155.36 L305.66 1153.98 L306.21 1152.6 L306.74 1151.22 L307.27 1149.83 L307.79 1148.43 L308.3 1147.03 L308.8 1145.63 L309.29 1144.22 L309.77 1142.81 L310.24 1141.39 L310.71 1139.97 L311.16 1138.54 L311.61 1137.12 L312.06 1135.68 L312.49 1134.25 L312.92 1132.81 L313.34 1131.37 L313.75 1129.92 L314.16 1128.47 L314.56 1127.02 L314.96 1125.57 L315.35 1124.11 L315.73 1122.65 L316.11 1121.19 L316.48 1119.73 L316.85 1118.26 L317.22 1116.8 L317.58 1115.33 L317.94 1113.86 L318.29 1112.38 L318.64 1110.91 L318.98 1109.43 L319.33 1107.95 L319.67 1106.48 L320 1105 L320.34 1103.51 L320.67 1102.03 L321 1100.55 L321.33 1099.07 L321.66 1097.59 L321.99 1096.1 L322.31 1094.62 L322.64 1093.13 L322.96 1091.65 L323.29 1090.17 L323.61 1088.68 L323.94 1087.2 L324.26 1085.72 L324.59 1084.24 L324.92 1082.75 L325.24 1081.27 L325.57 1079.79 L325.9 1078.32 L326.24 1076.84 L326.57 1075.36 L326.91 1073.89 L327.24 1072.41 L327.58 1070.94 L327.92 1069.47 L328.26 1068 L328.61 1066.53 L328.95 1065.06 L329.3 1063.59 L329.65 1062.13 L330 1060.66 L330.35 1059.19 L330.7 1057.73 L331.05 1056.27 L331.4 1054.8 L331.76 1053.34 L332.11 1051.88 L332.47 1050.42 L332.83 1048.96 L333.19 1047.5 L333.55 1046.04 L333.91 1044.59 L334.27 1043.13 L334.63 1041.67 L335 1040.22 L335.36 1038.76 L335.72 1037.31 L336.09 1035.86 L336.45 1034.4 L336.82 1032.95 L337.19 1031.5 L337.56 1030.05 L337.92 1028.6 L338.29 1027.14 L338.66 1025.69 L339.03 1024.24 L339.4 1022.8 L339.77 1021.35 L340.14 1019.9 L340.51 1018.45 L340.88 1017 L341.25 1015.55 L341.62 1014.11 L341.99 1012.66 L342.36 1011.21 L342.73 1009.76 L343.1 1008.32 L343.48 1006.87 L343.85 1005.42 L344.22 1003.98 L344.59 1002.53 L344.96 1001.08 L345.33 999.64 L345.7 998.19 L346.06 996.75 L346.43 995.3 L346.8 993.85 L347.17 992.41 L347.54 990.96 L347.9 989.52 L348.27 988.07 L348.64 986.62 L349 985.18 L349.37 983.73 L349.73 982.28 L350.09 980.83 L350.45 979.39 L350.82 977.94 L351.18 976.49 L351.53 975.04 L351.89 973.59 L352.25 972.15 L352.61 970.7 L352.96 969.25 L353.32 967.8 L353.67 966.35 L354.02 964.89 L354.37 963.44 L354.72 961.99 L355.07 960.54 L355.42 959.09 L355.77 957.63 L356.11 956.18 L356.45 954.72 L356.79 953.27 L357.13 951.81 L357.47 950.36 L357.81 948.9 L358.15 947.44 L358.48 945.98 L358.81 944.53 L359.14 943.07 L359.47 941.61 L359.8 940.15 L360.13 938.69 L360.46 937.22 L360.78 935.76 L361.11 934.3 L361.43 932.84 L361.75 931.37 L362.07 929.91 L362.39 928.45 L362.71 926.98 L363.03 925.52 L363.34 924.05 L363.66 922.58 L363.98 921.12 L364.29 919.65 L364.6 918.18 L364.91 916.72 L365.23 915.25 L365.54 913.78 L365.85 912.31 L366.16 910.84 L366.46 909.37 L366.77 907.91 L367.08 906.44 L367.39 904.97 L367.69 903.5 L368 902.03 L368.3 900.55 L368.61 899.08 L368.91 897.61 L369.21 896.14 L369.52 894.67 L369.82 893.2 L370.12 891.73 L370.42 890.25 L370.73 888.78 L371.03 887.31 L371.33 885.84 L371.63 884.37 L371.93 882.89 L372.23 881.42 L372.53 879.95 L372.83 878.47 L373.13 877 L373.43 875.53 L373.73 874.06 L374.03 872.58 L374.34 871.11 L374.64 869.64 L374.94 868.16 L375.24 866.69 L375.54 865.22 L375.84 863.75 L376.14 862.27 L376.44 860.8 L376.74 859.33 L377.05 857.86 L377.35 856.38 L377.65 854.91 L377.96 853.44 L378.26 851.97 L378.56 850.5 L378.87 849.02 L379.17 847.55 L379.48 846.08 L379.79 844.61 L380.09 843.14 L380.4 841.67 L380.71 840.2 L381.02 838.73 L381.33 837.26 L381.64 835.79 L381.95 834.32 L382.26 832.85 L382.57 831.38 L382.89 829.91 L383.2 828.44 L383.52 826.97 L383.83 825.51 L384.15 824.04 L384.47 822.57 L384.79 821.11 L385.11 819.64 L385.43 818.17 L385.75 816.71 L386.08 815.24 L386.4 813.78 L386.73 812.32 L387.05 810.85 L387.38 809.39 L387.71 807.93 L388.04 806.46 L388.38 805 L388.71 803.54 L389.04 802.08 L389.38 800.62 L389.72 799.16 L390.06 797.7 L390.4 796.24 L390.74 794.79 L391.09 793.33 L391.43 791.87 L391.78 790.42 L392.13 788.96 L392.48 787.51 L392.83 786.05 L393.18 784.6 L393.54 783.15 L393.9 781.69 L394.26 780.24 L394.62 778.79 L394.98 777.34 L395.35 775.89 L395.71 774.44 L396.08 772.99 L396.45 771.55 L396.82 770.1 L397.19 768.65 L397.57 767.21 L397.94 765.76 L398.32 764.32 L398.7 762.87 L399.08 761.43 L399.46 759.98 L399.84 758.54 L400.23 757.1 L400.62 755.65 L401 754.21 L401.39 752.77 L401.79 751.33 L402.18 749.89 L402.57 748.45 L402.97 747.01 L403.36 745.57 L403.76 744.13 L404.16 742.69 L404.56 741.25 L404.96 739.82 L405.37 738.38 L405.77 736.94 L406.18 735.51 L406.59 734.07 L406.99 732.63 L407.4 731.2 L407.82 729.76 L408.23 728.33 L408.64 726.89 L409.06 725.45 L409.47 724.02 L409.89 722.59 L410.31 721.15 L410.73 719.72 L411.15 718.28 L411.57 716.85 L411.99 715.42 L412.42 713.98 L412.84 712.55 L413.27 711.12 L413.7 709.68 L414.13 708.25 L414.56 706.82 L414.99 705.38 L415.42 703.95 L415.85 702.52 L416.28 701.09 L416.72 699.65 L417.15 698.22 L417.59 696.79 L418.03 695.36 L418.47 693.92 L418.91 692.49 L419.35 691.06 L419.79 689.63 L420.23 688.19 L420.67 686.76 L421.12 685.33 L421.56 683.9 L422.01 682.47 L422.46 681.04 L422.9 679.6 L423.35 678.17 L423.8 676.74 L424.26 675.31 L424.71 673.88 L425.16 672.45 L425.62 671.02 L426.07 669.59 L426.53 668.16 L426.99 666.73 L427.45 665.3 L427.91 663.87 L428.37 662.44 L428.83 661.01 L429.29 659.58 L429.76 658.15 L430.22 656.73 L430.69 655.3 L431.16 653.87 L431.62 652.44 L432.09 651.02 L432.57 649.59 L433.04 648.16 L433.51 646.74 L433.99 645.31 L434.46 643.89 L434.94 642.46 L435.42 641.04 L435.9 639.61 L436.38 638.19 L436.86 636.77 L437.34 635.34 L437.83 633.92 L438.31 632.5 L438.8 631.08 L439.29 629.65 L439.77 628.23 L440.26 626.81 L440.76 625.39 L441.25 623.97 L441.74 622.56 L442.24 621.14 L442.73 619.72 L443.23 618.3 L443.73 616.88 L444.23 615.47 L444.73 614.05 L445.24 612.64 L445.74 611.22 L446.25 609.81 L446.75 608.39 L447.26 606.98 L447.77 605.57 L448.28 604.16 L448.79 602.75 L449.31 601.34 L449.82 599.93 L450.34 598.52 L450.86 597.11 L451.38 595.7 L451.9 594.29 L452.42 592.88 L452.94 591.48 L453.47 590.07 L453.99 588.67 L454.52 587.26 L455.05 585.86 L455.58 584.46 L456.11 583.06 L456.64 581.66 L457.18 580.26 L457.71 578.86 L458.25 577.46 L458.79 576.06 L459.33 574.66 L459.87 573.27 L460.41 571.87 L460.96 570.47 L461.5 569.08 L462.05 567.69 L462.6 566.3 L463.15 564.9 L463.7 563.51 L464.26 562.12 L464.81 560.73 L465.37 559.35 L465.93 557.96 L466.49 556.57 L467.05 555.19 L467.61 553.8 L468.18 552.42 L468.74 551.04 L469.31 549.65 L469.88 548.27 L470.45 546.89 L471.02 545.51 L471.59 544.14 L472.17 542.76 L472.75 541.38 L473.32 540 L473.9 538.63 L474.49 537.25 L475.07 535.88 L475.65 534.51 L476.24 533.14 L476.83 531.76 L477.42 530.39 L478.01 529.02 L478.6 527.65 L479.2 526.28 L479.8 524.92 L480.39 523.55 L480.99 522.18 L481.59 520.81 L482.2 519.45 L482.8 518.08 L483.41 516.72 L484.02 515.35 L484.63 513.99 L485.24 512.63 L485.85 511.27 L486.47 509.9 L487.08 508.54 L487.7 507.18 L488.32 505.82 L488.94 504.46 L489.57 503.1 L490.19 501.74 L490.82 500.38 L491.45 499.03 L492.08 497.67 L492.71 496.31 L493.34 494.95 L493.98 493.6 L494.62 492.24 L495.26 490.89 L495.9 489.53 L496.54 488.18 L497.18 486.82 L497.83 485.47 L498.48 484.11 L499.13 482.76 L499.78 481.41 L500.43 480.05 L501.09 478.7 L501.75 477.35 L502.41 476 L503.07 474.64 L503.73 473.29 L504.4 471.94 L505.06 470.59 L505.73 469.24 L506.4 467.89 L507.07 466.54 L507.75 465.19 L508.42 463.84 L509.1 462.49 L509.79 461.14 L510.47 459.8 L511.16 458.45 L511.85 457.11 L512.54 455.77 L513.24 454.42 L513.94 453.09 L514.64 451.75 L515.35 450.41 L516.06 449.08 L516.77 447.75 L517.49 446.42 L518.21 445.09 L518.93 443.77 L519.66 442.45 L520.39 441.13 L521.13 439.81 L521.87 438.5 L522.62 437.19 L523.37 435.88 L524.12 434.58 L524.88 433.28 L525.65 431.98 L526.42 430.69 L527.19 429.4 L527.98 428.12 L528.76 426.83 L529.55 425.56 L530.35 424.29 L531.15 423.02 L531.96 421.75 L532.77 420.49 L533.59 419.24 L534.42 417.99 L535.25 416.75 L536.09 415.51 L536.93 414.27 L537.79 413.04 L538.64 411.82 L539.51 410.6 L540.38 409.39 L541.26 408.18 L542.14 406.98 L543.03 405.78 L543.92 404.59 L544.83 403.4 L545.73 402.22 L546.65 401.04 L547.57 399.87 L548.49 398.71 L549.42 397.55 L550.36 396.39 L551.31 395.24 L552.26 394.09 L553.21 392.95 L554.17 391.81 L555.14 390.68 L556.11 389.56 L557.09 388.43 L558.07 387.32 L559.06 386.21 L560.06 385.1 L561.06 384 L562.06 382.9 L563.07 381.81 L564.09 380.72 L565.11 379.64 L566.14 378.56 L567.17 377.49 L568.21 376.42 L569.25 375.35 L570.3 374.3 L571.35 373.24 L572.41 372.19 L573.47 371.15 L574.54 370.11 L575.61 369.07 L576.69 368.04 L577.77 367.01 L578.86 365.99 L579.95 364.97 L581.04 363.96 L582.15 362.95 L583.25 361.95 L584.36 360.95 L585.48 359.95 L586.6 358.96 L587.72 357.98 L588.85 357 L589.98 356.02 L591.12 355.05 L592.26 354.08 L593.4 353.11 L594.55 352.15 L595.71 351.2 L596.87 350.25 L598.03 349.3 L599.19 348.36 L600.36 347.42 L601.54 346.48 L602.72 345.55 L603.9 344.63 L605.08 343.7 L606.27 342.79 L607.47 341.87 L608.66 340.96 L609.86 340.06 L611.07 339.16 L612.28 338.26 L613.49 337.37 L614.7 336.48 L615.92 335.59 L617.14 334.71 L618.37 333.83 L619.6 332.96 L620.83 332.09 L622.07 331.22 L623.31 330.36 L624.55 329.5 L625.79 328.65 L627.04 327.8 L628.29 326.95 L629.55 326.11 L630.8 325.27 L632.06 324.44 L633.33 323.61 L634.6 322.78 L635.87 321.97 L637.14 321.15 L638.42 320.35 L639.7 319.55 L640.98 318.76 L642.27 317.97 L643.57 317.2 L644.86 316.43 L646.17 315.67 L647.47 314.93 L648.78 314.19 L650.1 313.46 L651.42 312.75 L652.74 312.04 L654.07 311.35 L655.4 310.67 L656.74 310 L658.09 309.35 L659.44 308.71 L660.79 308.08 L662.15 307.47 L663.52 306.88 L664.89 306.3 L666.27 305.73 L667.65 305.19 L669.04 304.66 L670.43 304.14 L671.83 303.65 L673.24 303.17 L674.65 302.71 L676.07 302.27 L677.5 301.85 L678.93 301.45 L680.37 301.07 L681.82 300.72 L683.28 300.38 L684.74 300.07 L686.2 299.77 L687.68 299.5 L689.16 299.26 L690.64 299.03 L692.13 298.82 L693.62 298.64 L695.12 298.47 L696.62 298.33 L698.12 298.21 L699.62 298.11 L701.12 298.02 L702.62 297.96 L704.13 297.92 L705.63 297.9 L707.13 297.9 L708.63 297.91 L710.12 297.95 L711.61 298 L713.1 298.08 L714.59 298.17 L716.07 298.28 L717.55 298.4 L719.02 298.55 L720.5 298.71 L721.97 298.89 L723.44 299.09 L724.9 299.3 L726.36 299.53 L727.82 299.78 L729.28 300.04 L730.73 300.32 L732.18 300.62 L733.63 300.93 L735.07 301.25 L736.51 301.59 L737.95 301.95 L739.38 302.32 L740.82 302.7 L742.24 303.1 L743.67 303.51 L745.09 303.94 L746.51 304.38 L747.93 304.83 L749.34 305.3 L750.75 305.77 L752.16 306.26 L753.57 306.77 L754.97 307.28 L756.37 307.81 L757.76 308.35 L759.16 308.9 L760.55 309.46 L761.93 310.03 L763.32 310.61 L764.7 311.2 L766.07 311.81 L767.45 312.42 L768.82 313.04 L770.19 313.68 L771.56 314.32 L772.92 314.97 L774.28 315.63 L775.64 316.3 L776.99 316.97 L778.34 317.66 L779.69 318.35 L781.03 319.05 L782.37 319.76 L783.71 320.48 L785.05 321.2 L786.38 321.93 L787.71 322.67 L789.04 323.41 L790.36 324.16 L791.68 324.91 L793 325.67 L794.31 326.44 L795.62 327.21 L796.93 327.99 L798.24 328.77 L799.54 329.55 L800.84 330.34 L802.14 331.14 L803.43 331.93 L804.72 332.74 L806.01 333.54 L807.29 334.35 L808.57 335.16 L809.85 335.97 L811.13 336.79 L812.4 337.61 L813.67 338.43 L814.94 339.26 L816.2 340.08 L817.47 340.91 L818.73 341.74 L819.99 342.58 L821.24 343.41 L822.5 344.25 L823.75 345.08 L825 345.92 L826.25 346.76 L827.5 347.6 L828.75 348.44 L829.99 349.28 L831.24 350.13 L832.48 350.97 L833.72 351.81 L834.96 352.66 L836.2 353.5 L837.44 354.34 L838.68 355.19 L839.92 356.03 L841.16 356.87 L842.39 357.72 L843.63 358.56 L844.87 359.4 L846.11 360.24 L847.34 361.08 L848.58 361.91 L849.82 362.75 L851.06 363.58 L852.29 364.41 L853.53 365.25 L854.77 366.07 L856.01 366.9 L857.25 367.72 L858.5 368.55 L859.74 369.37 L860.98 370.18 L862.23 371 L863.47 371.81 L864.72 372.62 L865.97 373.42 L867.22 374.22 L868.48 375.02 L869.73 375.82 L870.99 376.61 L872.25 377.4 L873.51 378.18 L874.77 378.96 L876.04 379.73 L877.3 380.5 L878.57 381.27 L879.85 382.03 L881.12 382.79 L882.4 383.54 L883.68 384.29 L884.97 385.03 L886.25 385.77 L887.54 386.5 L888.84 387.22 L890.13 387.94 L891.44 388.66 L892.74 389.36 L894.05 390.07 L895.36 390.76 L896.67 391.45 L897.99 392.13 L899.32 392.81 L900.64 393.48 L901.98 394.14 L903.31 394.8 L904.65 395.44 L906 396.09 L907.35 396.72 L908.7 397.35 L910.06 397.97 L911.42 398.58 L912.79 399.18 L914.16 399.78 L915.53 400.37 L916.91 400.96 L918.29 401.53 L919.67 402.1 L921.06 402.66 L922.46 403.22 L923.85 403.77 L925.25 404.31 L926.65 404.84 L928.06 405.37 L929.47 405.89 L930.88 406.4 L932.3 406.9 L933.72 407.4 L935.14 407.89 L936.56 408.37 L937.99 408.85 L939.42 409.32 L940.86 409.78 L942.29 410.23 L943.73 410.68 L945.17 411.12 L946.62 411.55 L948.06 411.97 L949.51 412.39 L950.96 412.8 L952.42 413.2 L953.87 413.6 L955.33 413.98 L956.79 414.37 L958.26 414.74 L959.72 415.1 L961.19 415.46 L962.65 415.81 L964.12 416.16 L965.6 416.49 L967.07 416.82 L968.55 417.14 L970.02 417.46 L971.5 417.77 L972.98 418.06 L974.46 418.36 L975.94 418.64 L977.43 418.92 L978.91 419.19 L980.4 419.45 L981.89 419.71 L983.38 419.95 L984.87 420.19 L986.36 420.42 L987.85 420.65 L989.34 420.87 L990.83 421.08 L992.32 421.28 L993.82 421.48 L995.31 421.66 L996.81 421.84 L998.3 422.02 L999.8 422.18 L1001.29 422.34 L1002.79 422.49 L1004.29 422.63 L1005.78 422.77 L1007.28 422.89 L1008.78 423.01 L1010.27 423.13 L1011.77 423.23 L1013.27 423.33 L1014.76 423.42 L1016.26 423.5 L1017.75 423.58 L1019.25 423.64 L1020.74 423.7 L1022.24 423.76 L1023.73 423.8 L1025.23 423.84 L1026.72 423.87 L1028.21 423.9 L1029.71 423.91 L1031.2 423.93 L1032.69 423.93 L1034.19 423.93 L1035.68 423.92 L1037.17 423.9 L1038.66 423.88 L1040.15 423.85 L1041.64 423.82 L1043.13 423.78 L1044.62 423.73 L1046.11 423.68 L1047.6 423.62 L1049.09 423.56 L1050.58 423.49 L1052.07 423.41 L1053.56 423.33 L1055.05 423.25 L1056.54 423.15 L1058.03 423.06 L1059.52 422.95 L1061 422.85 L1062.49 422.73 L1063.98 422.62 L1065.47 422.49 L1066.95 422.37 L1068.44 422.23 L1069.93 422.1 L1071.41 421.95 L1072.9 421.81 L1074.39 421.66 L1075.87 421.5 L1077.36 421.34 L1078.84 421.18 L1080.33 421.01 L1081.81 420.84 L1083.3 420.66 L1084.78 420.48 L1086.27 420.3 L1087.75 420.11 L1089.23 419.92 L1090.72 419.72 L1092.2 419.52 L1093.68 419.32 L1095.17 419.11 L1096.65 418.9 L1098.13 418.69 L1099.62 418.48 L1101.1 418.26 L1102.58 418.04 L1104.06 417.81 L1105.55 417.59 L1107.03 417.36 L1108.51 417.12 L1109.99 416.89 L1111.47 416.65 L1112.95 416.41 L1114.43 416.17 L1115.91 415.92 L1117.4 415.67 L1118.88 415.43 L1120.36 415.17 L1121.84 414.92 L1123.32 414.67 L1124.8 414.41 L1126.28 414.15 L1127.76 413.89 L1129.24 413.63 L1130.72 413.36 L1132.2 413.1 L1133.67 412.83 L1135.15 412.56 L1136.63 412.29 L1138.11 412.02 L1139.59 411.75 L1141.07 411.48 L1142.55 411.21 L1144.03 410.93 L1145.5 410.66 L1146.98 410.39 L1148.46 410.11 L1149.94 409.83 L1151.42 409.56 L1152.89 409.28 L1154.37 409 L1155.85 408.72 L1157.33 408.44 L1158.8 408.17 L1160.28 407.89 L1161.76 407.61 L1163.24 407.33 L1164.71 407.05 L1166.19 406.77 L1167.67 406.49 L1169.15 406.21 L1170.62 405.93 L1172.1 405.65 L1173.58 405.37 L1175.05 405.1 L1176.53 404.82 L1178.01 404.54 L1179.49 404.26 L1180.96 403.98 L1182.44 403.71 L1183.92 403.43 L1185.39 403.16 L1186.87 402.88 L1188.35 402.61 L1189.83 402.33 L1191.3 402.06 L1192.78 401.79 L1194.26 401.51 L1195.74 401.24 L1197.21 400.97 L1198.69 400.7 L1200.17 400.44 L1201.65 400.17 L1203.12 399.9 L1204.6 399.64 L1206.08 399.37 L1207.56 399.11 L1209.04 398.85 L1210.52 398.59 L1211.99 398.33 L1213.47 398.07 L1214.95 397.82 L1216.43 397.56 L1217.91 397.31 L1219.39 397.06 L1220.87 396.81 L1222.35 396.56 L1223.83 396.32 L1225.31 396.07 L1226.79 395.83 L1228.27 395.59 L1229.75 395.35 L1231.23 395.11 L1232.71 394.88 L1234.19 394.64 L1235.67 394.41 L1237.15 394.18 L1238.64 393.96 L1240.12 393.73 L1241.6 393.51 L1243.08 393.29 L1244.56 393.07 L1246.05 392.86 L1247.53 392.64 L1249.01 392.43 L1250.5 392.22 L1251.98 392.02 L1253.47 391.82 L1254.95 391.62 L1256.44 391.42 L1257.92 391.22 L1259.41 391.03 L1260.89 390.84 L1262.38 390.66 L1263.86 390.47 L1265.35 390.29 L1266.84 390.11 L1268.32 389.94 L1269.81 389.77 L1271.3 389.6 L1272.79 389.44 L1274.28 389.27 L1275.77 389.11 L1277.25 388.96 L1278.74 388.81 L1280.23 388.66 L1281.72 388.51 L1283.21 388.37 L1284.71 388.23 L1286.2 388.09 L1287.69 387.96 L1289.18 387.82 L1290.67 387.7 L1292.16 387.57 L1293.66 387.45 L1295.15 387.33 L1296.64 387.21 L1298.14 387.1 L1299.63 386.99 L1301.12 386.88 L1302.62 386.77 L1304.11 386.67 L1305.61 386.57 L1307.1 386.47 L1308.59 386.38 L1310.09 386.29 L1311.59 386.2 L1313.08 386.11 L1314.58 386.03 L1316.07 385.95 L1317.57 385.87 L1319.07 385.79 L1320.56 385.72 L1322.06 385.65 L1323.56 385.58 L1325.05 385.52 L1326.55 385.45 L1328.05 385.39 L1329.55 385.33 L1331.04 385.28 L1332.54 385.23 L1334.04 385.17 L1335.54 385.13 L1337.04 385.08 L1338.53 385.04 L1340.03 385 L1341.53 384.96 L1343.03 384.92 L1344.53 384.89 L1346.03 384.85 L1347.53 384.82 L1349.03 384.8 L1350.53 384.77 L1352.03 384.75 L1353.53 384.73 L1355.03 384.71 L1356.53 384.69 L1358.03 384.68 L1359.52 384.66 L1361.02 384.65 L1362.52 384.64 L1364.02 384.64 L1365.53 384.63 L1367.03 384.63 L1368.53 384.63 L1370.03 384.63 L1371.53 384.64 L1373.03 384.64 L1374.53 384.65 L1376.03 384.66 L1377.53 384.67 L1379.03 384.68 L1380.53 384.7 L1382.03 384.72 L1383.53 384.73 L1385.03 384.76 L1386.53 384.78 L1388.03 384.8 L1389.53 384.83 L1391.03 384.85 L1392.53 384.88 L1394.03 384.91 L1395.53 384.95 L1397.03 384.98 L1398.53 385.02 L1400.03 385.05 L1401.53 385.09 L1403.03 385.13 L1404.53 385.18 L1406.03 385.22 L1407.53 385.26 L1409.03 385.31 L1410.53 385.36 L1412.03 385.41 L1413.53 385.46 L1415.02 385.51 L1416.52 385.57 L1418.02 385.62 L1419.52 385.68 L1421.02 385.73 L1422.52 385.79 L1424.02 385.85 L1425.52 385.92 L1427.02 385.98 L1428.51 386.04 L1430.01 386.11 L1431.51 386.18 L1433.01 386.24 L1434.51 386.31 L1436.01 386.38 L1437.5 386.45 L1439 386.53 L1440.5 386.6 L1442 386.67 L1443.5 386.75 L1444.99 386.83 L1446.49 386.9 L1447.99 386.98 L1449.49 387.06 L1450.99 387.14 L1452.48 387.22 L1453.98 387.31 L1455.48 387.39 L1456.98 387.47 L1458.47 387.56 L1459.97 387.65 L1461.47 387.73 L1462.97 387.82 L1464.46 387.91 L1465.96 388 L1467.46 388.09 L1468.95 388.18 L1470.45 388.27 L1471.95 388.36 L1473.45 388.45 L1474.94 388.55 L1476.44 388.64 L1477.94 388.74 L1479.43 388.83 L1480.93 388.93 L1482.43 389.02 L1483.92 389.12 L1485.42 389.22 L1486.92 389.31 L1488.41 389.41 L1489.91 389.51 L1491.41 389.61 L1492.9 389.71 L1494.4 389.81 L1495.9 389.91 L1497.39 390.01 L1498.89 390.11 L1500.39 390.21 L1501.88 390.32 L1503.38 390.42 L1504.88 390.52 L1506.37 390.62 L1507.87 390.73 L1509.37 390.83 L1510.86 390.93 L1512.36 391.04 L1513.85 391.14 L1515.35 391.24 L1516.85 391.35 L1518.34 391.45 L1519.84 391.55 L1521.34 391.66 L1522.83 391.76 L1524.33 391.87 L1525.83 391.97 L1527.32 392.07 L1528.82 392.18 L1530.31 392.28 L1531.81 392.39 L1533.31 392.49 L1534.8 392.59 L1536.3 392.7 L1537.8 392.8 L1539.29 392.9 L1540.79 393.01 L1542.29 393.11 L1543.78 393.21 L1545.28 393.32 L1546.77 393.42 L1548.27 393.52 L1549.77 393.62 L1551.26 393.72 L1552.76 393.82 L1554.26 393.92 L1555.75 394.02 L1557.25 394.12 L1558.75 394.22 L1560.24 394.32 L1561.74 394.42 L1563.24 394.52 L1564.73 394.62 L1566.23 394.71 L1567.73 394.81 L1569.22 394.91 L1570.72 395 L1572.22 395.1 L1573.71 395.19 L1575.21 395.28 L1576.71 395.38 L1578.2 395.47 L1579.7 395.56 L1581.2 395.65 L1582.69 395.74 L1584.19 395.83 L1585.69 395.92 L1587.18 396.01 L1588.68 396.09 L1590.18 396.18 L1591.67 396.26 L1593.17 396.35 L1594.67 396.43 L1596.17 396.51 L1597.66 396.6 L1599.16 396.68 L1600.66 396.76 L1602.16 396.84 L1603.65 396.91 L1605.15 396.99 L1606.65 397.07 L1608.15 397.14 L1609.64 397.22 L1611.14 397.29 L1612.64 397.36 L1614.14 397.43 L1615.63 397.5 L1617.13 397.57 L1618.63 397.63 L1620.13 397.7 L1621.63 397.76 L1623.12 397.83 L1624.62 397.89 L1626.12 397.95 L1627.62 398.01 L1629.12 398.07 L1630.62 398.12 L1632.11 398.18 L1633.61 398.23 L1635.11 398.29 L1636.61 398.34 L1638.11 398.39 L1639.61 398.44 L1641.11 398.48 L1642.61 398.53 L1644.1 398.57 L1645.6 398.61 L1647.1 398.66 L1648.6 398.69 L1650.1 398.73 L1651.6 398.77 L1653.1 398.8 L1654.6 398.84 L1656.1 398.87 L1657.6 398.9 L1659.1 398.93 L1660.6 398.95 L1662.1 398.98 L1663.6 399 L1665.1 399.03 L1666.6 399.05 L1668.1 399.07 L1669.6 399.08 L1671.1 399.1 L1672.6 399.12 L1674.1 399.13 L1675.6 399.15 L1677.1 399.16 L1678.6 399.17 L1680.1 399.18 L1681.6 399.19 L1683.1 399.19 L1684.6 399.2 L1686.1 399.2 L1687.61 399.21 L1689.11 399.21 L1690.61 399.21 L1692.11 399.21 L1693.61 399.21 L1695.11 399.21 L1696.61 399.21 L1698.11 399.2 L1699.61 399.2 L1701.11 399.19 L1702.61 399.18 L1704.12 399.18 L1705.62 399.17 L1707.12 399.16 L1708.62 399.15 L1710.12 399.14 L1711.62 399.13 L1713.12 399.11 L1714.62 399.1 L1716.13 399.09 L1717.63 399.07 L1719.13 399.05 L1720.63 399.04 L1722.13 399.02 L1723.63 399 L1725.13 398.98 L1726.64 398.96 L1728.14 398.94 L1729.64 398.92 L1731.14 398.9 L1732.64 398.88 L1734.14 398.86 L1735.64 398.84 L1737.15 398.81 L1738.65 398.79 L1740.15 398.77 L1741.65 398.74 L1743.15 398.72 L1744.65 398.69 L1746.15 398.66 L1747.65 398.64 L1749.16 398.61 L1750.66 398.59 L1752.16 398.56 L1753.66 398.53 L1755.16 398.5 L1756.66 398.47 L1758.16 398.45 L1759.66 398.42 L1761.17 398.39 L1762.67 398.36 L1764.17 398.33 L1765.67 398.3 L1767.17 398.27 L1768.67 398.24 L1770.17 398.21 L1771.67 398.18 L1773.17 398.15 L1774.68 398.12 L1776.18 398.09 L1777.68 398.06 L1779.18 398.03 L1780.68 398.01 L1782.18 397.98 L1783.68 397.95 L1785.18 397.92 L1786.68 397.89 L1788.18 397.86 L1789.68 397.83 L1791.18 397.8 L1792.68 397.77 L1794.18 397.74 L1795.68 397.72 L1797.18 397.69 L1798.68 397.66 L1800.18 397.63 L1801.68 397.61 L1803.18 397.58 L1804.68 397.55 L1806.18 397.53 L1807.68 397.5 L1809.18 397.48 L1810.68 397.45 L1812.18 397.43 L1813.68 397.4 L1815.18 397.38 L1816.68 397.36 L1818.18 397.33 L1819.68 397.31 L1821.18 397.29 L1822.68 397.27 L1824.17 397.25 L1825.67 397.23 L1827.17 397.21 L1828.67 397.19 L1830.17 397.17 L1831.67 397.16 L1833.17 397.14 L1834.66 397.13 L1836.16 397.11 L1837.66 397.1 L1839.16 397.08 L1840.66 397.07 L1842.15 397.06 L1843.65 397.05 L1845.15 397.04 L1846.65 397.03 L1848.15 397.02 L1849.64 397.02 L1851.14 397.01 L1852.64 397 L1854.13 397 L1855.63 397 L1857.13 396.99 L1858.62 396.99 L1860.12 396.99 L1861.62 396.99 L1863.11 397 L1864.61 397 L1866.11 397 L1867.6 397.01 L1869.1 397.02" fill="none" stroke="#ff7f0e" stroke-width="8.9" stroke-linejoin="round" stroke-linecap="butt"/>
<line x1="219" y1="1192.9" x2="274" y2="1192.9" stroke="#ff7f0e" stroke-width="9.9"/>
<g><rect x="206.91" y="1179.91" width="27.78" height="27.78" fill="#ff7f0e"/><rect x="342.49" y="938.71" width="27.78" height="27.78" fill="#ff7f0e"/><rect x="479.08" y="482.01" width="27.78" height="27.78" fill="#ff7f0e"/><rect x="615.66" y="312.61" width="27.78" height="27.78" fill="#ff7f0e"/><rect x="752.24" y="298.01" width="27.78" height="27.78" fill="#ff7f0e"/><rect x="888.82" y="380.91" width="27.78" height="27.78" fill="#ff7f0e"/><rect x="1025.41" y="409.91" width="27.78" height="27.78" fill="#ff7f0e"/><rect x="1161.99" y="391.21" width="27.78" height="27.78" fill="#ff7f0e"/><rect x="1298.57" y="372.41" width="27.78" height="27.78" fill="#ff7f0e"/><rect x="1435.16" y="373.11" width="27.78" height="27.78" fill="#ff7f0e"/><rect x="1571.74" y="382.01" width="27.78" height="27.78" fill="#ff7f0e"/><rect x="1708.32" y="385.11" width="27.78" height="27.78" fill="#ff7f0e"/><rect x="1844.91" y="383.11" width="27.78" height="27.78" fill="#ff7f0e"/></g>
<path d="M219.8 1193.4 L268.01 1193.4 L268.01 1193.4 L269.8 1193.24 L271.52 1193 L273.18 1192.7 L274.78 1192.34 L276.33 1191.92 L277.81 1191.44 L279.24 1190.9 L280.61 1190.3 L281.93 1189.65 L283.2 1188.95 L284.42 1188.2 L285.59 1187.39 L286.71 1186.54 L287.79 1185.65 L288.83 1184.71 L289.83 1183.73 L290.78 1182.71 L291.7 1181.65 L292.58 1180.56 L293.42 1179.43 L294.24 1178.26 L295.02 1177.07 L295.76 1175.84 L296.49 1174.59 L297.18 1173.32 L297.85 1172.02 L298.49 1170.69 L299.11 1169.35 L299.72 1167.99 L300.3 1166.61 L300.86 1165.21 L301.41 1163.8 L301.95 1162.39 L302.47 1160.96 L302.98 1159.52 L303.48 1158.08 L303.98 1156.63 L304.47 1155.18 L304.95 1153.72 L305.43 1152.27 L305.91 1150.82 L306.38 1149.37 L306.85 1147.92 L307.32 1146.47 L307.78 1145.02 L308.24 1143.57 L308.7 1142.12 L309.16 1140.67 L309.61 1139.22 L310.06 1137.77 L310.5 1136.32 L310.94 1134.87 L311.38 1133.42 L311.82 1131.97 L312.25 1130.52 L312.69 1129.07 L313.11 1127.62 L313.54 1126.17 L313.96 1124.72 L314.38 1123.28 L314.8 1121.83 L315.22 1120.38 L315.63 1118.93 L316.04 1117.48 L316.45 1116.03 L316.86 1114.58 L317.26 1113.13 L317.66 1111.69 L318.06 1110.24 L318.46 1108.79 L318.86 1107.34 L319.25 1105.89 L319.64 1104.44 L320.03 1102.99 L320.42 1101.55 L320.81 1100.1 L321.19 1098.65 L321.57 1097.2 L321.95 1095.75 L322.33 1094.3 L322.71 1092.85 L323.09 1091.4 L323.46 1089.96 L323.83 1088.51 L324.21 1087.06 L324.58 1085.61 L324.94 1084.16 L325.31 1082.71 L325.68 1081.26 L326.04 1079.81 L326.41 1078.36 L326.77 1076.91 L327.13 1075.46 L327.49 1074.01 L327.85 1072.56 L328.21 1071.11 L328.57 1069.66 L328.93 1068.21 L329.28 1066.75 L329.64 1065.3 L329.99 1063.85 L330.35 1062.4 L330.7 1060.95 L331.05 1059.5 L331.41 1058.04 L331.76 1056.59 L332.11 1055.14 L332.46 1053.69 L332.81 1052.23 L333.16 1050.78 L333.51 1049.32 L333.86 1047.87 L334.21 1046.42 L334.56 1044.96 L334.91 1043.51 L335.26 1042.05 L335.61 1040.6 L335.95 1039.14 L336.3 1037.69 L336.65 1036.23 L336.99 1034.78 L337.34 1033.32 L337.68 1031.86 L338.03 1030.41 L338.37 1028.95 L338.72 1027.49 L339.06 1026.04 L339.4 1024.58 L339.75 1023.12 L340.09 1021.66 L340.43 1020.21 L340.77 1018.75 L341.11 1017.29 L341.46 1015.83 L341.8 1014.37 L342.14 1012.91 L342.48 1011.46 L342.82 1010 L343.16 1008.54 L343.49 1007.08 L343.83 1005.62 L344.17 1004.16 L344.51 1002.7 L344.85 1001.24 L345.18 999.78 L345.52 998.32 L345.86 996.86 L346.19 995.4 L346.53 993.94 L346.87 992.48 L347.2 991.02 L347.54 989.55 L347.87 988.09 L348.2 986.63 L348.54 985.17 L348.87 983.71 L349.21 982.25 L349.54 980.78 L349.87 979.32 L350.2 977.86 L350.54 976.4 L350.87 974.94 L351.2 973.47 L351.53 972.01 L351.86 970.55 L352.19 969.08 L352.52 967.62 L352.86 966.16 L353.19 964.7 L353.51 963.23 L353.84 961.77 L354.17 960.3 L354.5 958.84 L354.83 957.38 L355.16 955.91 L355.49 954.45 L355.82 952.99 L356.14 951.52 L356.47 950.06 L356.8 948.59 L357.12 947.13 L357.45 945.66 L357.78 944.2 L358.1 942.74 L358.43 941.27 L358.76 939.81 L359.08 938.34 L359.41 936.88 L359.73 935.41 L360.06 933.95 L360.38 932.48 L360.71 931.02 L361.03 929.55 L361.35 928.09 L361.68 926.62 L362 925.15 L362.32 923.69 L362.65 922.22 L362.97 920.76 L363.29 919.29 L363.62 917.83 L363.94 916.36 L364.26 914.9 L364.58 913.43 L364.9 911.96 L365.23 910.5 L365.55 909.03 L365.87 907.57 L366.19 906.1 L366.51 904.63 L366.83 903.17 L367.15 901.7 L367.47 900.24 L367.79 898.77 L368.11 897.3 L368.43 895.84 L368.75 894.37 L369.07 892.91 L369.39 891.44 L369.71 889.97 L370.03 888.51 L370.35 887.04 L370.67 885.58 L370.99 884.11 L371.31 882.64 L371.62 881.18 L371.94 879.71 L372.26 878.25 L372.58 876.78 L372.9 875.31 L373.21 873.85 L373.53 872.38 L373.85 870.92 L374.17 869.45 L374.48 867.98 L374.8 866.52 L375.12 865.05 L375.44 863.59 L375.75 862.12 L376.07 860.65 L376.39 859.19 L376.7 857.72 L377.02 856.26 L377.34 854.79 L377.65 853.33 L377.97 851.86 L378.29 850.4 L378.6 848.93 L378.92 847.46 L379.24 846 L379.55 844.53 L379.87 843.07 L380.18 841.6 L380.5 840.14 L380.82 838.67 L381.13 837.21 L381.45 835.74 L381.77 834.28 L382.08 832.81 L382.4 831.35 L382.72 829.88 L383.03 828.42 L383.35 826.95 L383.67 825.49 L383.98 824.02 L384.3 822.56 L384.62 821.1 L384.94 819.63 L385.25 818.17 L385.57 816.7 L385.89 815.24 L386.21 813.77 L386.53 812.31 L386.85 810.85 L387.16 809.38 L387.48 807.92 L387.8 806.46 L388.12 804.99 L388.44 803.53 L388.76 802.06 L389.08 800.6 L389.4 799.14 L389.72 797.67 L390.04 796.21 L390.36 794.75 L390.68 793.29 L391.01 791.82 L391.33 790.36 L391.65 788.9 L391.97 787.43 L392.29 785.97 L392.62 784.51 L392.94 783.05 L393.26 781.58 L393.59 780.12 L393.91 778.66 L394.24 777.2 L394.56 775.74 L394.89 774.28 L395.22 772.81 L395.54 771.35 L395.87 769.89 L396.2 768.43 L396.52 766.97 L396.85 765.51 L397.18 764.05 L397.51 762.58 L397.84 761.12 L398.17 759.66 L398.5 758.2 L398.83 756.74 L399.16 755.28 L399.49 753.82 L399.83 752.36 L400.16 750.9 L400.49 749.44 L400.83 747.98 L401.16 746.52 L401.5 745.06 L401.83 743.6 L402.17 742.14 L402.5 740.69 L402.84 739.23 L403.18 737.77 L403.52 736.31 L403.86 734.85 L404.2 733.39 L404.54 731.93 L404.88 730.48 L405.22 729.02 L405.56 727.56 L405.91 726.1 L406.25 724.64 L406.59 723.19 L406.94 721.73 L407.28 720.27 L407.63 718.81 L407.98 717.36 L408.33 715.9 L408.67 714.44 L409.02 712.99 L409.37 711.53 L409.72 710.08 L410.08 708.62 L410.43 707.16 L410.78 705.71 L411.13 704.25 L411.49 702.8 L411.84 701.34 L412.2 699.89 L412.56 698.43 L412.92 696.98 L413.27 695.52 L413.63 694.07 L413.99 692.61 L414.36 691.16 L414.72 689.71 L415.08 688.25 L415.44 686.8 L415.81 685.35 L416.17 683.89 L416.54 682.44 L416.91 680.99 L417.28 679.53 L417.65 678.08 L418.02 676.63 L418.39 675.18 L418.76 673.72 L419.13 672.27 L419.51 670.82 L419.88 669.37 L420.26 667.92 L420.63 666.47 L421.01 665.02 L421.39 663.57 L421.77 662.12 L422.15 660.67 L422.53 659.22 L422.92 657.77 L423.3 656.32 L423.68 654.87 L424.07 653.42 L424.46 651.97 L424.84 650.52 L425.23 649.07 L425.62 647.62 L426.01 646.17 L426.4 644.72 L426.79 643.28 L427.19 641.83 L427.58 640.38 L427.98 638.93 L428.37 637.49 L428.77 636.04 L429.16 634.59 L429.56 633.15 L429.96 631.7 L430.36 630.25 L430.76 628.81 L431.16 627.36 L431.57 625.92 L431.97 624.47 L432.37 623.03 L432.78 621.58 L433.19 620.14 L433.59 618.69 L434 617.25 L434.41 615.8 L434.82 614.36 L435.23 612.91 L435.64 611.47 L436.05 610.03 L436.46 608.58 L436.88 607.14 L437.29 605.7 L437.71 604.26 L438.12 602.81 L438.54 601.37 L438.96 599.93 L439.37 598.49 L439.79 597.05 L440.21 595.61 L440.63 594.16 L441.05 592.72 L441.48 591.28 L441.9 589.84 L442.32 588.4 L442.75 586.96 L443.17 585.52 L443.6 584.08 L444.02 582.64 L444.45 581.2 L444.88 579.77 L445.31 578.33 L445.74 576.89 L446.17 575.45 L446.6 574.01 L447.03 572.57 L447.46 571.14 L447.89 569.7 L448.33 568.26 L448.76 566.83 L449.2 565.39 L449.63 563.95 L450.07 562.52 L450.51 561.08 L450.94 559.64 L451.38 558.21 L451.82 556.77 L452.26 555.34 L452.7 553.9 L453.14 552.47 L453.58 551.03 L454.03 549.6 L454.47 548.17 L454.91 546.73 L455.36 545.3 L455.8 543.87 L456.25 542.43 L456.69 541 L457.14 539.57 L457.59 538.14 L458.03 536.7 L458.48 535.27 L458.93 533.84 L459.38 532.41 L459.83 530.98 L460.28 529.55 L460.73 528.12 L461.19 526.69 L461.64 525.26 L462.09 523.83 L462.55 522.4 L463 520.97 L463.45 519.54 L463.91 518.11 L464.37 516.68 L464.82 515.25 L465.28 513.82 L465.74 512.39 L466.19 510.97 L466.65 509.54 L467.11 508.11 L467.57 506.69 L468.03 505.26 L468.49 503.83 L468.95 502.41 L469.41 500.98 L469.88 499.55 L470.34 498.13 L470.8 496.7 L471.27 495.28 L471.73 493.85 L472.2 492.43 L472.66 491.01 L473.13 489.58 L473.6 488.16 L474.07 486.74 L474.54 485.31 L475.01 483.89 L475.48 482.47 L475.96 481.05 L476.43 479.63 L476.91 478.21 L477.39 476.8 L477.87 475.38 L478.35 473.96 L478.84 472.54 L479.32 471.13 L479.81 469.71 L480.3 468.3 L480.79 466.89 L481.29 465.48 L481.79 464.06 L482.29 462.65 L482.79 461.25 L483.29 459.84 L483.8 458.43 L484.31 457.02 L484.82 455.62 L485.34 454.22 L485.86 452.81 L486.38 451.41 L486.9 450.01 L487.43 448.61 L487.96 447.21 L488.5 445.82 L489.03 444.42 L489.57 443.03 L490.12 441.64 L490.67 440.25 L491.22 438.86 L491.77 437.47 L492.33 436.08 L492.9 434.7 L493.46 433.31 L494.03 431.93 L494.61 430.55 L495.19 429.17 L495.77 427.79 L496.36 426.42 L496.95 425.04 L497.55 423.67 L498.15 422.3 L498.76 420.93 L499.37 419.57 L499.99 418.2 L500.61 416.84 L501.23 415.48 L501.86 414.12 L502.5 412.76 L503.14 411.41 L503.79 410.05 L504.44 408.7 L505.1 407.35 L505.76 406.01 L506.43 404.66 L507.1 403.32 L507.78 401.98 L508.47 400.64 L509.16 399.3 L509.86 397.97 L510.56 396.64 L511.26 395.31 L511.97 393.98 L512.69 392.65 L513.41 391.33 L514.13 390 L514.85 388.68 L515.57 387.35 L516.3 386.03 L517.02 384.71 L517.75 383.39 L518.47 382.06 L519.2 380.74 L519.92 379.42 L520.64 378.09 L521.36 376.77 L522.08 375.44 L522.79 374.12 L523.5 372.79 L524.21 371.46 L524.91 370.13 L525.6 368.8 L526.29 367.46 L526.98 366.13 L527.65 364.79 L528.32 363.45 L528.99 362.1 L529.65 360.76 L530.31 359.41 L530.95 358.06 L531.6 356.71 L532.24 355.36 L532.88 354.01 L533.51 352.65 L534.14 351.3 L534.77 349.94 L535.4 348.58 L536.02 347.22 L536.64 345.86 L537.26 344.51 L537.88 343.15 L538.5 341.78 L539.12 340.42 L539.74 339.06 L540.36 337.7 L540.98 336.34 L541.6 334.98 L542.22 333.62 L542.84 332.26 L543.46 330.9 L544.09 329.55 L544.72 328.19 L545.35 326.83 L545.99 325.48 L546.63 324.12 L547.27 322.77 L547.92 321.42 L548.57 320.07 L549.23 318.72 L549.89 317.37 L550.56 316.03 L551.23 314.69 L551.91 313.34 L552.6 312.01 L553.3 310.67 L554 309.34 L554.71 308.01 L555.42 306.68 L556.15 305.35 L556.88 304.03 L557.62 302.71 L558.37 301.4 L559.13 300.09 L559.89 298.79 L560.67 297.49 L561.45 296.2 L562.25 294.91 L563.05 293.63 L563.86 292.35 L564.68 291.09 L565.51 289.83 L566.35 288.57 L567.2 287.33 L568.06 286.09 L568.93 284.86 L569.81 283.64 L570.7 282.43 L571.6 281.23 L572.51 280.04 L573.44 278.85 L574.37 277.68 L575.31 276.52 L576.27 275.37 L577.24 274.23 L578.22 273.11 L579.21 271.99 L580.21 270.89 L581.22 269.8 L582.25 268.72 L583.29 267.65 L584.34 266.6 L585.4 265.57 L586.48 264.54 L587.57 263.53 L588.67 262.54 L589.78 261.56 L590.91 260.6 L592.05 259.65 L593.21 258.72 L594.37 257.8 L595.55 256.9 L596.74 256.01 L597.94 255.13 L599.15 254.27 L600.38 253.42 L601.61 252.59 L602.85 251.76 L604.1 250.95 L605.37 250.15 L606.63 249.36 L607.91 248.58 L609.2 247.81 L610.49 247.05 L611.79 246.3 L613.1 245.56 L614.41 244.82 L615.73 244.1 L617.06 243.38 L618.39 242.68 L619.72 241.97 L621.06 241.28 L622.41 240.59 L623.75 239.91 L625.1 239.24 L626.46 238.57 L627.81 237.9 L629.17 237.24 L630.53 236.59 L631.9 235.93 L633.26 235.29 L634.62 234.64 L635.99 234 L637.35 233.36 L638.72 232.72 L640.08 232.09 L641.44 231.45 L642.8 230.82 L644.16 230.18 L645.52 229.55 L646.87 228.92 L648.22 228.29 L649.57 227.65 L650.91 227.02 L652.25 226.38 L653.59 225.74 L654.92 225.1 L656.24 224.45 L657.56 223.81 L658.88 223.16 L660.2 222.53 L661.53 221.9 L662.86 221.28 L664.2 220.68 L665.56 220.1 L666.93 219.54 L668.31 219 L669.72 218.5 L671.15 218.02 L672.6 217.58 L674.06 217.17 L675.55 216.78 L677.05 216.43 L678.56 216.1 L680.09 215.81 L681.63 215.54 L683.17 215.3 L684.73 215.09 L686.29 214.9 L687.85 214.74 L689.42 214.61 L690.99 214.51 L692.56 214.43 L694.12 214.37 L695.69 214.34 L697.24 214.34 L698.8 214.36 L700.34 214.4 L701.88 214.47 L703.4 214.56 L704.92 214.67 L706.43 214.8 L707.93 214.96 L709.43 215.14 L710.92 215.34 L712.39 215.56 L713.87 215.81 L715.33 216.08 L716.78 216.36 L718.23 216.67 L719.67 217 L721.11 217.34 L722.53 217.71 L723.95 218.1 L725.36 218.5 L726.77 218.93 L728.16 219.37 L729.55 219.83 L730.93 220.31 L732.31 220.81 L733.68 221.33 L735.04 221.86 L736.4 222.41 L737.75 222.97 L739.09 223.56 L740.42 224.16 L741.75 224.77 L743.08 225.4 L744.39 226.05 L745.7 226.71 L747.01 227.39 L748.31 228.08 L749.6 228.79 L750.88 229.51 L752.16 230.24 L753.44 230.99 L754.71 231.75 L755.97 232.52 L757.23 233.31 L758.48 234.11 L759.73 234.92 L760.97 235.74 L762.2 236.58 L763.43 237.43 L764.66 238.28 L765.88 239.15 L767.09 240.03 L768.3 240.92 L769.5 241.82 L770.7 242.73 L771.9 243.65 L773.09 244.58 L774.28 245.52 L775.46 246.46 L776.63 247.42 L777.8 248.38 L778.97 249.35 L780.13 250.33 L781.29 251.32 L782.45 252.31 L783.6 253.32 L784.74 254.32 L785.89 255.34 L787.03 256.36 L788.16 257.38 L789.29 258.41 L790.42 259.45 L791.54 260.49 L792.66 261.54 L793.78 262.59 L794.89 263.65 L796 264.7 L797.1 265.77 L798.21 266.83 L799.31 267.9 L800.4 268.98 L801.5 270.05 L802.59 271.13 L803.67 272.21 L804.76 273.29 L805.84 274.37 L806.92 275.46 L808 276.54 L809.07 277.63 L810.14 278.72 L811.21 279.81 L812.28 280.89 L813.34 281.98 L814.4 283.07 L815.46 284.15 L816.52 285.24 L817.58 286.32 L818.63 287.4 L819.68 288.49 L820.73 289.57 L821.78 290.65 L822.83 291.73 L823.88 292.81 L824.92 293.89 L825.96 294.96 L827.01 296.04 L828.05 297.12 L829.09 298.19 L830.13 299.26 L831.17 300.33 L832.21 301.4 L833.25 302.47 L834.29 303.54 L835.33 304.6 L836.37 305.66 L837.41 306.73 L838.45 307.79 L839.49 308.85 L840.53 309.9 L841.57 310.96 L842.61 312.01 L843.66 313.06 L844.7 314.11 L845.75 315.16 L846.79 316.2 L847.84 317.25 L848.89 318.29 L849.94 319.32 L850.99 320.36 L852.04 321.4 L853.09 322.43 L854.15 323.46 L855.21 324.48 L856.27 325.51 L857.33 326.53 L858.4 327.55 L859.46 328.57 L860.53 329.58 L861.61 330.59 L862.68 331.6 L863.76 332.6 L864.84 333.61 L865.92 334.61 L867.01 335.6 L868.1 336.6 L869.19 337.59 L870.29 338.58 L871.39 339.56 L872.5 340.54 L873.6 341.52 L874.72 342.49 L875.83 343.47 L876.95 344.43 L878.08 345.4 L879.2 346.36 L880.34 347.32 L881.48 348.27 L882.62 349.22 L883.76 350.17 L884.92 351.11 L886.07 352.05 L887.23 352.98 L888.4 353.91 L889.57 354.84 L890.74 355.76 L891.92 356.68 L893.1 357.6 L894.29 358.51 L895.48 359.42 L896.67 360.32 L897.88 361.22 L899.08 362.12 L900.29 363.01 L901.5 363.89 L902.72 364.77 L903.94 365.65 L905.17 366.52 L906.4 367.39 L907.63 368.26 L908.87 369.12 L910.11 369.97 L911.36 370.82 L912.61 371.67 L913.86 372.51 L915.12 373.35 L916.39 374.18 L917.65 375 L918.93 375.83 L920.2 376.64 L921.48 377.46 L922.76 378.26 L924.05 379.07 L925.34 379.86 L926.64 380.65 L927.94 381.44 L929.24 382.22 L930.55 382.99 L931.86 383.76 L933.17 384.52 L934.49 385.28 L935.81 386.03 L937.14 386.77 L938.46 387.51 L939.8 388.24 L941.13 388.97 L942.47 389.68 L943.81 390.39 L945.16 391.09 L946.51 391.79 L947.86 392.48 L949.22 393.16 L950.58 393.83 L951.94 394.49 L953.3 395.15 L954.67 395.8 L956.04 396.44 L957.42 397.07 L958.8 397.7 L960.18 398.31 L961.56 398.92 L962.94 399.51 L964.33 400.1 L965.73 400.68 L967.12 401.25 L968.52 401.82 L969.92 402.37 L971.32 402.91 L972.73 403.44 L974.13 403.96 L975.54 404.48 L976.96 404.98 L978.37 405.47 L979.79 405.95 L981.21 406.43 L982.63 406.89 L984.06 407.34 L985.48 407.78 L986.91 408.2 L988.35 408.62 L989.78 409.03 L991.22 409.42 L992.65 409.81 L994.09 410.18 L995.54 410.54 L996.98 410.89 L998.43 411.22 L999.87 411.55 L1001.32 411.86 L1002.77 412.16 L1004.23 412.45 L1005.68 412.72 L1007.14 412.98 L1008.6 413.23 L1010.06 413.47 L1011.52 413.69 L1012.98 413.9 L1014.45 414.1 L1015.91 414.28 L1017.38 414.45 L1018.85 414.61 L1020.32 414.75 L1021.79 414.87 L1023.27 414.99 L1024.74 415.09 L1026.22 415.17 L1027.69 415.24 L1029.17 415.3 L1030.65 415.34 L1032.13 415.37 L1033.61 415.38 L1035.09 415.37 L1036.58 415.36 L1038.06 415.32 L1039.55 415.27 L1041.03 415.21 L1042.52 415.12 L1044.01 415.03 L1045.49 414.92 L1046.98 414.79 L1048.47 414.66 L1049.96 414.5 L1051.45 414.34 L1052.94 414.16 L1054.43 413.97 L1055.92 413.76 L1057.41 413.54 L1058.9 413.32 L1060.38 413.07 L1061.87 412.82 L1063.36 412.56 L1064.85 412.29 L1066.34 412 L1067.82 411.71 L1069.31 411.4 L1070.79 411.09 L1072.28 410.76 L1073.76 410.43 L1075.24 410.09 L1076.72 409.74 L1078.2 409.38 L1079.68 409.01 L1081.15 408.64 L1082.63 408.25 L1084.1 407.86 L1085.57 407.47 L1087.04 407.07 L1088.51 406.66 L1089.97 406.24 L1091.44 405.82 L1092.9 405.4 L1094.36 404.97 L1095.81 404.53 L1097.27 404.09 L1098.72 403.65 L1100.17 403.2 L1101.62 402.75 L1103.06 402.29 L1104.5 401.84 L1105.94 401.38 L1107.38 400.91 L1108.81 400.45 L1110.24 399.98 L1111.66 399.51 L1113.09 399.04 L1114.51 398.56 L1115.93 398.08 L1117.35 397.6 L1118.76 397.12 L1120.18 396.64 L1121.59 396.15 L1123 395.66 L1124.41 395.17 L1125.82 394.67 L1127.22 394.18 L1128.62 393.68 L1130.03 393.18 L1131.43 392.68 L1132.83 392.18 L1134.23 391.67 L1135.63 391.17 L1137.02 390.66 L1138.42 390.15 L1139.82 389.64 L1141.21 389.12 L1142.61 388.61 L1144 388.09 L1145.4 387.57 L1146.79 387.05 L1148.19 386.53 L1149.58 386.01 L1150.98 385.49 L1152.37 384.96 L1153.76 384.43 L1155.16 383.91 L1156.55 383.38 L1157.95 382.85 L1159.34 382.32 L1160.74 381.79 L1162.13 381.26 L1163.53 380.72 L1164.92 380.19 L1166.32 379.66 L1167.71 379.12 L1169.11 378.59 L1170.5 378.05 L1171.9 377.51 L1173.3 376.98 L1174.69 376.44 L1176.09 375.9 L1177.49 375.37 L1178.88 374.83 L1180.28 374.29 L1181.68 373.76 L1183.08 373.22 L1184.47 372.68 L1185.87 372.15 L1187.27 371.61 L1188.67 371.08 L1190.07 370.54 L1191.47 370.01 L1192.87 369.47 L1194.27 368.94 L1195.67 368.41 L1197.07 367.88 L1198.47 367.35 L1199.88 366.81 L1201.28 366.29 L1202.68 365.76 L1204.09 365.23 L1205.49 364.7 L1206.9 364.18 L1208.3 363.66 L1209.71 363.13 L1211.12 362.61 L1212.52 362.09 L1213.93 361.58 L1215.34 361.06 L1216.75 360.54 L1218.16 360.03 L1219.57 359.52 L1220.98 359.01 L1222.39 358.5 L1223.8 358 L1225.22 357.49 L1226.63 356.99 L1228.04 356.49 L1229.46 356 L1230.88 355.5 L1232.29 355.01 L1233.71 354.52 L1235.13 354.03 L1236.55 353.54 L1237.97 353.06 L1239.39 352.58 L1240.81 352.1 L1242.23 351.63 L1243.66 351.16 L1245.08 350.69 L1246.51 350.22 L1247.93 349.76 L1249.36 349.3 L1250.79 348.84 L1252.22 348.39 L1253.65 347.94 L1255.08 347.49 L1256.51 347.05 L1257.95 346.61 L1259.38 346.17 L1260.82 345.74 L1262.25 345.31 L1263.69 344.88 L1265.13 344.46 L1266.57 344.04 L1268.01 343.63 L1269.45 343.22 L1270.9 342.81 L1272.34 342.41 L1273.79 342.01 L1275.23 341.62 L1276.68 341.23 L1278.13 340.84 L1279.58 340.46 L1281.03 340.08 L1282.48 339.71 L1283.94 339.34 L1285.39 338.98 L1286.85 338.62 L1288.31 338.27 L1289.77 337.92 L1291.23 337.58 L1292.69 337.24 L1294.16 336.9 L1295.62 336.57 L1297.09 336.25 L1298.55 335.93 L1300.02 335.62 L1301.49 335.31 L1302.97 335 L1304.44 334.7 L1305.91 334.41 L1307.39 334.12 L1308.86 333.84 L1310.34 333.56 L1311.82 333.28 L1313.3 333.01 L1314.78 332.75 L1316.26 332.49 L1317.74 332.24 L1319.22 331.99 L1320.71 331.74 L1322.19 331.5 L1323.68 331.27 L1325.16 331.04 L1326.65 330.81 L1328.14 330.59 L1329.63 330.38 L1331.12 330.17 L1332.61 329.97 L1334.1 329.77 L1335.59 329.57 L1337.08 329.38 L1338.58 329.2 L1340.07 329.02 L1341.57 328.84 L1343.06 328.67 L1344.56 328.51 L1346.05 328.35 L1347.55 328.19 L1349.05 328.04 L1350.54 327.9 L1352.04 327.76 L1353.54 327.62 L1355.04 327.49 L1356.54 327.37 L1358.04 327.25 L1359.54 327.13 L1361.04 327.02 L1362.54 326.92 L1364.04 326.82 L1365.54 326.72 L1367.04 326.63 L1368.54 326.55 L1370.04 326.47 L1371.54 326.39 L1373.04 326.32 L1374.54 326.26 L1376.05 326.2 L1377.55 326.14 L1379.05 326.09 L1380.55 326.04 L1382.05 326 L1383.55 325.97 L1385.05 325.94 L1386.56 325.91 L1388.06 325.89 L1389.56 325.88 L1391.06 325.87 L1392.56 325.86 L1394.06 325.86 L1395.56 325.86 L1397.06 325.87 L1398.56 325.89 L1400.05 325.91 L1401.55 325.93 L1403.05 325.96 L1404.55 325.99 L1406.05 326.03 L1407.54 326.08 L1409.04 326.13 L1410.53 326.18 L1412.03 326.24 L1413.52 326.3 L1415.02 326.37 L1416.51 326.44 L1418.01 326.52 L1419.5 326.6 L1420.99 326.69 L1422.49 326.78 L1423.98 326.87 L1425.47 326.97 L1426.96 327.08 L1428.45 327.19 L1429.94 327.3 L1431.43 327.41 L1432.92 327.54 L1434.41 327.66 L1435.9 327.79 L1437.39 327.92 L1438.88 328.06 L1440.37 328.2 L1441.85 328.34 L1443.34 328.49 L1444.83 328.64 L1446.32 328.8 L1447.8 328.95 L1449.29 329.12 L1450.77 329.28 L1452.26 329.45 L1453.75 329.62 L1455.23 329.8 L1456.72 329.98 L1458.2 330.16 L1459.68 330.35 L1461.17 330.53 L1462.65 330.73 L1464.13 330.92 L1465.62 331.12 L1467.1 331.32 L1468.58 331.52 L1470.07 331.73 L1471.55 331.94 L1473.03 332.15 L1474.51 332.36 L1475.99 332.58 L1477.47 332.8 L1478.95 333.02 L1480.43 333.25 L1481.92 333.48 L1483.4 333.71 L1484.88 333.94 L1486.36 334.17 L1487.84 334.41 L1489.31 334.65 L1490.79 334.89 L1492.27 335.13 L1493.75 335.38 L1495.23 335.62 L1496.71 335.87 L1498.19 336.12 L1499.67 336.37 L1501.14 336.63 L1502.62 336.88 L1504.1 337.14 L1505.58 337.4 L1507.06 337.66 L1508.53 337.93 L1510.01 338.19 L1511.49 338.45 L1512.96 338.72 L1514.44 338.99 L1515.92 339.26 L1517.4 339.53 L1518.87 339.8 L1520.35 340.07 L1521.83 340.35 L1523.3 340.62 L1524.78 340.9 L1526.25 341.18 L1527.73 341.45 L1529.21 341.73 L1530.68 342.01 L1532.16 342.29 L1533.63 342.57 L1535.11 342.85 L1536.59 343.14 L1538.06 343.42 L1539.54 343.7 L1541.01 343.99 L1542.49 344.27 L1543.97 344.55 L1545.44 344.84 L1546.92 345.12 L1548.39 345.41 L1549.87 345.69 L1551.34 345.98 L1552.82 346.26 L1554.3 346.55 L1555.77 346.83 L1557.25 347.12 L1558.72 347.4 L1560.2 347.69 L1561.67 347.97 L1563.15 348.26 L1564.63 348.54 L1566.1 348.82 L1567.58 349.11 L1569.05 349.39 L1570.53 349.67 L1572.01 349.95 L1573.48 350.23 L1574.96 350.51 L1576.44 350.79 L1577.91 351.07 L1579.39 351.35 L1580.87 351.62 L1582.34 351.9 L1583.82 352.17 L1585.3 352.44 L1586.77 352.72 L1588.25 352.99 L1589.73 353.26 L1591.21 353.52 L1592.68 353.79 L1594.16 354.06 L1595.64 354.32 L1597.12 354.59 L1598.6 354.85 L1600.08 355.11 L1601.55 355.37 L1603.03 355.62 L1604.51 355.88 L1605.99 356.13 L1607.47 356.38 L1608.95 356.63 L1610.43 356.88 L1611.91 357.13 L1613.39 357.37 L1614.87 357.62 L1616.35 357.86 L1617.83 358.1 L1619.31 358.33 L1620.79 358.57 L1622.27 358.8 L1623.75 359.03 L1625.23 359.26 L1626.71 359.49 L1628.2 359.71 L1629.68 359.93 L1631.16 360.15 L1632.64 360.37 L1634.12 360.59 L1635.61 360.8 L1637.09 361.01 L1638.57 361.22 L1640.06 361.42 L1641.54 361.62 L1643.02 361.82 L1644.51 362.02 L1645.99 362.21 L1647.48 362.4 L1648.96 362.59 L1650.45 362.78 L1651.93 362.96 L1653.42 363.14 L1654.9 363.32 L1656.39 363.49 L1657.88 363.66 L1659.36 363.83 L1660.85 363.99 L1662.34 364.16 L1663.82 364.31 L1665.31 364.47 L1666.8 364.62 L1668.29 364.77 L1669.78 364.91 L1671.27 365.06 L1672.76 365.19 L1674.24 365.33 L1675.73 365.46 L1677.22 365.59 L1678.71 365.71 L1680.21 365.83 L1681.7 365.95 L1683.19 366.06 L1684.68 366.17 L1686.17 366.27 L1687.66 366.37 L1689.16 366.47 L1690.65 366.57 L1692.14 366.65 L1693.64 366.74 L1695.13 366.82 L1696.62 366.9 L1698.12 366.97 L1699.61 367.04 L1701.11 367.11 L1702.6 367.17 L1704.1 367.22 L1705.6 367.27 L1707.09 367.32 L1708.59 367.36 L1710.09 367.4 L1711.59 367.44 L1713.08 367.47 L1714.58 367.49 L1716.08 367.51 L1717.58 367.53 L1719.08 367.54 L1720.58 367.54 L1722.08 367.55 L1723.58 367.54 L1725.08 367.53 L1726.59 367.52 L1728.09 367.5 L1729.59 367.48 L1731.09 367.46 L1732.6 367.43 L1734.1 367.39 L1735.6 367.36 L1737.11 367.31 L1738.61 367.27 L1740.11 367.22 L1741.62 367.17 L1743.12 367.11 L1744.63 367.06 L1746.13 366.99 L1747.64 366.93 L1749.15 366.86 L1750.65 366.79 L1752.16 366.72 L1753.66 366.65 L1755.17 366.57 L1756.68 366.49 L1758.18 366.41 L1759.69 366.33 L1761.19 366.25 L1762.7 366.16 L1764.21 366.07 L1765.71 365.98 L1767.22 365.89 L1768.73 365.8 L1770.23 365.71 L1771.74 365.62 L1773.25 365.52 L1774.75 365.43 L1776.26 365.33 L1777.76 365.24 L1779.27 365.14 L1780.78 365.04 L1782.28 364.95 L1783.79 364.85 L1785.29 364.76 L1786.8 364.66 L1788.3 364.57 L1789.81 364.47 L1791.31 364.38 L1792.82 364.28 L1794.32 364.19 L1795.82 364.1 L1797.33 364.01 L1798.83 363.92 L1800.33 363.84 L1801.84 363.75 L1803.34 363.67 L1804.84 363.58 L1806.34 363.5 L1807.84 363.43 L1809.34 363.35 L1810.84 363.28 L1812.34 363.21 L1813.84 363.14 L1815.34 363.07 L1816.84 363.01 L1818.34 362.95 L1819.84 362.89 L1821.34 362.84 L1822.83 362.79 L1824.33 362.74 L1825.82 362.69 L1827.32 362.65 L1828.81 362.62 L1830.31 362.58 L1831.8 362.56 L1833.29 362.53 L1834.79 362.51 L1836.28 362.5 L1837.77 362.48 L1839.26 362.48 L1840.75 362.48 L1842.24 362.48 L1843.72 362.49 L1845.21 362.5 L1846.7 362.52 L1848.18 362.54 L1849.67 362.57 L1851.15 362.61 L1852.64 362.65 L1854.12 362.69 L1855.6 362.74 L1857.08 362.8 L1858.56 362.87 L1860.04 362.94 L1861.52 363.02 L1863 363.1 L1864.48 363.19 L1865.95 363.29 L1867.43 363.39 L1868.9 363.5" fill="none" stroke="#2ca02c" stroke-width="8.9" stroke-linejoin="round" stroke-linecap="butt"/>
<line x1="219" y1="1192.9" x2="274" y2="1192.9" stroke="#2ca02c" stroke-width="9.9"/>
<g><polygon points="220.8,1174.16 240.44,1193.8 220.8,1213.44 201.16,1193.8" fill="#2ca02c"/><polygon points="356.38,930.26 376.03,949.9 356.38,969.54 336.74,949.9" fill="#2ca02c"/><polygon points="492.97,414.86 512.61,434.5 492.97,454.14 473.32,434.5" fill="#2ca02c"/><polygon points="629.55,217.56 649.19,237.2 629.55,256.84 609.91,237.2" fill="#2ca02c"/><polygon points="766.13,219.46 785.78,239.1 766.13,258.74 746.49,239.1" fill="#2ca02c"/><polygon points="902.71,344.76 922.36,364.4 902.71,384.04 883.07,364.4" fill="#2ca02c"/><polygon points="1039.3,396.16 1058.94,415.8 1039.3,435.44 1019.65,415.8" fill="#2ca02c"/><polygon points="1175.88,356.26 1195.52,375.9 1175.88,395.54 1156.24,375.9" fill="#2ca02c"/><polygon points="1312.46,313.56 1332.11,333.2 1312.46,352.84 1292.82,333.2" fill="#2ca02c"/><polygon points="1449.05,309.26 1468.69,328.9 1449.05,348.54 1429.4,328.9" fill="#2ca02c"/><polygon points="1585.63,332.56 1605.27,352.2 1585.63,371.84 1565.99,352.2" fill="#2ca02c"/><polygon points="1722.21,347.76 1741.86,367.4 1722.21,387.04 1702.57,367.4" fill="#2ca02c"/><polygon points="1858.8,343.36 1878.44,363 1858.8,382.64 1839.15,363" fill="#2ca02c"/></g>
<path d="M219.8 1193.4 L268 1193.4 L268.01 1193.4 L269.77 1193.21 L271.46 1192.95 L273.1 1192.63 L274.68 1192.25 L276.2 1191.81 L277.67 1191.31 L279.08 1190.75 L280.45 1190.14 L281.76 1189.48 L283.02 1188.77 L284.23 1188.01 L285.4 1187.2 L286.52 1186.35 L287.6 1185.45 L288.63 1184.51 L289.63 1183.53 L290.59 1182.51 L291.51 1181.46 L292.39 1180.37 L293.24 1179.24 L294.06 1178.08 L294.85 1176.9 L295.61 1175.68 L296.34 1174.44 L297.04 1173.17 L297.72 1171.88 L298.38 1170.57 L299.01 1169.24 L299.62 1167.89 L300.22 1166.52 L300.79 1165.13 L301.35 1163.74 L301.9 1162.33 L302.44 1160.91 L302.96 1159.49 L303.47 1158.06 L303.98 1156.62 L304.48 1155.18 L304.97 1153.74 L305.46 1152.3 L305.95 1150.85 L306.43 1149.41 L306.91 1147.97 L307.38 1146.52 L307.85 1145.08 L308.31 1143.64 L308.78 1142.19 L309.24 1140.75 L309.69 1139.3 L310.14 1137.86 L310.59 1136.41 L311.04 1134.97 L311.48 1133.52 L311.92 1132.07 L312.35 1130.63 L312.78 1129.18 L313.21 1127.73 L313.64 1126.29 L314.06 1124.84 L314.48 1123.39 L314.89 1121.94 L315.31 1120.49 L315.72 1119.04 L316.13 1117.59 L316.53 1116.14 L316.94 1114.69 L317.34 1113.24 L317.73 1111.79 L318.13 1110.34 L318.52 1108.89 L318.91 1107.44 L319.3 1105.99 L319.69 1104.54 L320.07 1103.09 L320.46 1101.64 L320.84 1100.18 L321.21 1098.73 L321.59 1097.28 L321.97 1095.83 L322.34 1094.37 L322.71 1092.92 L323.08 1091.47 L323.45 1090.01 L323.81 1088.56 L324.18 1087.11 L324.54 1085.65 L324.9 1084.2 L325.26 1082.74 L325.62 1081.29 L325.98 1079.84 L326.34 1078.38 L326.69 1076.93 L327.05 1075.47 L327.4 1074.02 L327.76 1072.56 L328.11 1071.1 L328.46 1069.65 L328.81 1068.19 L329.16 1066.74 L329.51 1065.28 L329.86 1063.83 L330.21 1062.37 L330.55 1060.91 L330.9 1059.46 L331.25 1058 L331.6 1056.54 L331.94 1055.09 L332.29 1053.63 L332.63 1052.17 L332.98 1050.72 L333.33 1049.26 L333.67 1047.8 L334.02 1046.35 L334.36 1044.89 L334.71 1043.43 L335.05 1041.97 L335.4 1040.52 L335.74 1039.06 L336.08 1037.6 L336.43 1036.14 L336.77 1034.69 L337.11 1033.23 L337.46 1031.77 L337.8 1030.31 L338.14 1028.85 L338.49 1027.39 L338.83 1025.94 L339.17 1024.48 L339.51 1023.02 L339.85 1021.56 L340.19 1020.1 L340.54 1018.64 L340.88 1017.18 L341.22 1015.73 L341.56 1014.27 L341.9 1012.81 L342.24 1011.35 L342.58 1009.89 L342.92 1008.43 L343.26 1006.97 L343.6 1005.51 L343.93 1004.05 L344.27 1002.59 L344.61 1001.13 L344.95 999.67 L345.29 998.21 L345.63 996.75 L345.96 995.29 L346.3 993.83 L346.64 992.37 L346.97 990.91 L347.31 989.45 L347.65 987.99 L347.98 986.53 L348.32 985.07 L348.65 983.61 L348.99 982.15 L349.32 980.69 L349.66 979.23 L349.99 977.77 L350.33 976.31 L350.66 974.84 L351 973.38 L351.33 971.92 L351.66 970.46 L352 969 L352.33 967.54 L352.66 966.08 L353 964.61 L353.33 963.15 L353.66 961.69 L353.99 960.23 L354.32 958.77 L354.66 957.31 L354.99 955.84 L355.32 954.38 L355.65 952.92 L355.98 951.46 L356.31 950 L356.64 948.53 L356.97 947.07 L357.3 945.61 L357.63 944.15 L357.96 942.68 L358.29 941.22 L358.62 939.76 L358.94 938.3 L359.27 936.83 L359.6 935.37 L359.93 933.91 L360.25 932.44 L360.58 930.98 L360.91 929.52 L361.24 928.05 L361.56 926.59 L361.89 925.13 L362.21 923.66 L362.54 922.2 L362.86 920.74 L363.19 919.27 L363.52 917.81 L363.84 916.35 L364.16 914.88 L364.49 913.42 L364.81 911.95 L365.14 910.49 L365.46 909.03 L365.78 907.56 L366.11 906.1 L366.43 904.63 L366.75 903.17 L367.07 901.71 L367.4 900.24 L367.72 898.78 L368.04 897.31 L368.36 895.85 L368.68 894.38 L369 892.92 L369.32 891.45 L369.64 889.99 L369.96 888.53 L370.28 887.06 L370.6 885.6 L370.92 884.13 L371.24 882.67 L371.56 881.2 L371.88 879.74 L372.2 878.27 L372.52 876.8 L372.83 875.34 L373.15 873.87 L373.47 872.41 L373.78 870.94 L374.1 869.48 L374.42 868.01 L374.73 866.55 L375.05 865.08 L375.37 863.62 L375.68 862.15 L376 860.68 L376.31 859.22 L376.63 857.75 L376.94 856.29 L377.26 854.82 L377.57 853.35 L377.88 851.89 L378.2 850.42 L378.51 848.96 L378.83 847.49 L379.14 846.02 L379.45 844.56 L379.76 843.09 L380.08 841.63 L380.39 840.16 L380.7 838.69 L381.02 837.23 L381.33 835.76 L381.64 834.29 L381.95 832.83 L382.27 831.36 L382.58 829.9 L382.89 828.43 L383.2 826.96 L383.51 825.5 L383.83 824.03 L384.14 822.56 L384.45 821.1 L384.76 819.63 L385.08 818.17 L385.39 816.7 L385.7 815.23 L386.01 813.77 L386.33 812.3 L386.64 810.84 L386.95 809.37 L387.26 807.9 L387.58 806.44 L387.89 804.97 L388.2 803.51 L388.52 802.04 L388.83 800.57 L389.14 799.11 L389.46 797.64 L389.77 796.18 L390.09 794.71 L390.4 793.25 L390.72 791.78 L391.03 790.31 L391.35 788.85 L391.66 787.38 L391.98 785.92 L392.29 784.45 L392.61 782.99 L392.93 781.52 L393.24 780.06 L393.56 778.59 L393.88 777.13 L394.19 775.66 L394.51 774.2 L394.83 772.73 L395.15 771.27 L395.47 769.81 L395.79 768.34 L396.11 766.88 L396.43 765.41 L396.75 763.95 L397.07 762.49 L397.39 761.02 L397.71 759.56 L398.04 758.09 L398.36 756.63 L398.68 755.17 L399.01 753.7 L399.33 752.24 L399.66 750.78 L399.98 749.31 L400.31 747.85 L400.63 746.39 L400.96 744.93 L401.29 743.46 L401.62 742 L401.94 740.54 L402.27 739.08 L402.6 737.62 L402.93 736.15 L403.26 734.69 L403.6 733.23 L403.93 731.77 L404.26 730.31 L404.6 728.85 L404.93 727.39 L405.26 725.93 L405.6 724.47 L405.94 723.01 L406.27 721.55 L406.61 720.09 L406.95 718.63 L407.29 717.17 L407.63 715.71 L407.97 714.25 L408.31 712.79 L408.65 711.33 L408.99 709.87 L409.34 708.41 L409.68 706.95 L410.03 705.5 L410.37 704.04 L410.72 702.58 L411.07 701.12 L411.42 699.67 L411.77 698.21 L412.12 696.75 L412.47 695.29 L412.82 693.84 L413.17 692.38 L413.53 690.93 L413.88 689.47 L414.24 688.01 L414.59 686.56 L414.95 685.1 L415.31 683.65 L415.67 682.19 L416.03 680.74 L416.39 679.28 L416.75 677.83 L417.12 676.38 L417.48 674.92 L417.85 673.47 L418.21 672.02 L418.58 670.56 L418.95 669.11 L419.32 667.66 L419.69 666.21 L420.06 664.75 L420.43 663.3 L420.81 661.85 L421.18 660.4 L421.56 658.95 L421.93 657.5 L422.31 656.05 L422.69 654.6 L423.07 653.15 L423.45 651.7 L423.83 650.25 L424.21 648.8 L424.6 647.35 L424.98 645.9 L425.36 644.45 L425.75 643 L426.14 641.55 L426.52 640.1 L426.91 638.66 L427.3 637.21 L427.69 635.76 L428.08 634.31 L428.47 632.86 L428.86 631.42 L429.26 629.97 L429.65 628.52 L430.04 627.08 L430.44 625.63 L430.83 624.18 L431.23 622.74 L431.62 621.29 L432.02 619.84 L432.42 618.4 L432.82 616.95 L433.22 615.51 L433.61 614.06 L434.01 612.61 L434.41 611.17 L434.82 609.72 L435.22 608.28 L435.62 606.83 L436.02 605.39 L436.42 603.94 L436.83 602.5 L437.23 601.05 L437.64 599.61 L438.04 598.17 L438.44 596.72 L438.85 595.28 L439.26 593.83 L439.66 592.39 L440.07 590.94 L440.47 589.5 L440.88 588.06 L441.29 586.61 L441.7 585.17 L442.1 583.72 L442.51 582.28 L442.92 580.84 L443.33 579.39 L443.74 577.95 L444.15 576.51 L444.56 575.06 L444.97 573.62 L445.38 572.18 L445.79 570.73 L446.2 569.29 L446.61 567.84 L447.02 566.4 L447.43 564.96 L447.84 563.51 L448.25 562.07 L448.66 560.63 L449.07 559.18 L449.48 557.74 L449.89 556.3 L450.3 554.85 L450.71 553.41 L451.12 551.97 L451.53 550.52 L451.94 549.08 L452.35 547.64 L452.76 546.19 L453.17 544.75 L453.58 543.31 L453.99 541.86 L454.4 540.42 L454.81 538.98 L455.22 537.53 L455.63 536.09 L456.04 534.64 L456.45 533.2 L456.86 531.76 L457.27 530.31 L457.68 528.87 L458.08 527.42 L458.49 525.98 L458.9 524.53 L459.31 523.09 L459.71 521.65 L460.12 520.2 L460.53 518.76 L460.93 517.31 L461.34 515.87 L461.74 514.42 L462.15 512.98 L462.55 511.53 L462.96 510.09 L463.36 508.64 L463.77 507.2 L464.17 505.75 L464.57 504.3 L464.97 502.86 L465.37 501.41 L465.77 499.97 L466.18 498.52 L466.57 497.07 L466.97 495.63 L467.37 494.18 L467.77 492.73 L468.17 491.29 L468.57 489.84 L468.97 488.39 L469.37 486.95 L469.77 485.5 L470.17 484.05 L470.57 482.61 L470.97 481.16 L471.38 479.72 L471.78 478.27 L472.19 476.83 L472.59 475.39 L473 473.94 L473.41 472.5 L473.82 471.06 L474.23 469.61 L474.64 468.17 L475.05 466.73 L475.47 465.29 L475.89 463.85 L476.31 462.41 L476.73 460.97 L477.15 459.54 L477.58 458.1 L478.01 456.66 L478.44 455.23 L478.87 453.8 L479.31 452.36 L479.75 450.93 L480.19 449.5 L480.63 448.07 L481.08 446.64 L481.53 445.21 L481.99 443.79 L482.44 442.36 L482.91 440.94 L483.37 439.51 L483.84 438.09 L484.31 436.67 L484.79 435.25 L485.27 433.83 L485.75 432.42 L486.24 431 L486.73 429.59 L487.23 428.18 L487.73 426.77 L488.24 425.36 L488.75 423.95 L489.26 422.55 L489.78 421.14 L490.31 419.74 L490.84 418.34 L491.37 416.94 L491.91 415.54 L492.46 414.15 L493.01 412.76 L493.57 411.36 L494.13 409.98 L494.7 408.59 L495.27 407.2 L495.85 405.82 L496.43 404.43 L497.02 403.05 L497.61 401.67 L498.2 400.3 L498.8 398.92 L499.4 397.54 L500 396.17 L500.61 394.8 L501.22 393.42 L501.84 392.05 L502.45 390.68 L503.07 389.32 L503.7 387.95 L504.32 386.58 L504.94 385.21 L505.57 383.85 L506.2 382.48 L506.83 381.12 L507.46 379.75 L508.09 378.39 L508.72 377.03 L509.36 375.67 L509.99 374.3 L510.62 372.94 L511.25 371.58 L511.89 370.22 L512.52 368.86 L513.15 367.49 L513.78 366.13 L514.41 364.77 L515.04 363.41 L515.67 362.04 L516.29 360.68 L516.92 359.32 L517.54 357.95 L518.16 356.59 L518.78 355.23 L519.39 353.86 L520 352.5 L520.61 351.13 L521.22 349.76 L521.82 348.39 L522.42 347.02 L523.01 345.65 L523.6 344.28 L524.19 342.91 L524.77 341.54 L525.35 340.16 L525.93 338.79 L526.5 337.41 L527.07 336.03 L527.64 334.66 L528.2 333.28 L528.76 331.9 L529.32 330.52 L529.88 329.14 L530.44 327.75 L530.99 326.37 L531.54 324.99 L532.1 323.61 L532.65 322.22 L533.2 320.84 L533.75 319.45 L534.3 318.07 L534.85 316.68 L535.4 315.29 L535.95 313.91 L536.5 312.52 L537.05 311.13 L537.6 309.75 L538.15 308.36 L538.71 306.97 L539.26 305.58 L539.82 304.2 L540.38 302.81 L540.94 301.42 L541.51 300.03 L542.08 298.65 L542.65 297.26 L543.22 295.87 L543.8 294.48 L544.38 293.1 L544.96 291.71 L545.55 290.32 L546.15 288.94 L546.74 287.55 L547.34 286.17 L547.95 284.78 L548.56 283.4 L549.18 282.01 L549.8 280.63 L550.43 279.25 L551.06 277.87 L551.7 276.49 L552.35 275.11 L553 273.73 L553.66 272.36 L554.32 270.99 L554.99 269.62 L555.67 268.25 L556.36 266.89 L557.05 265.53 L557.76 264.18 L558.46 262.83 L559.18 261.49 L559.91 260.15 L560.64 258.82 L561.38 257.49 L562.13 256.17 L562.89 254.85 L563.66 253.55 L564.44 252.25 L565.23 250.95 L566.02 249.67 L566.83 248.39 L567.64 247.12 L568.47 245.86 L569.31 244.61 L570.15 243.37 L571.01 242.14 L571.88 240.91 L572.76 239.7 L573.65 238.5 L574.55 237.31 L575.46 236.13 L576.39 234.97 L577.32 233.81 L578.27 232.67 L579.23 231.54 L580.2 230.42 L581.19 229.31 L582.19 228.22 L583.2 227.15 L584.22 226.08 L585.26 225.04 L586.31 224 L587.38 222.98 L588.45 221.98 L589.54 220.99 L590.64 220.01 L591.76 219.05 L592.88 218.1 L594.02 217.16 L595.17 216.24 L596.33 215.32 L597.5 214.42 L598.68 213.54 L599.87 212.66 L601.07 211.8 L602.28 210.94 L603.5 210.1 L604.72 209.27 L605.96 208.45 L607.21 207.63 L608.46 206.83 L609.72 206.04 L610.99 205.26 L612.26 204.48 L613.54 203.72 L614.83 202.96 L616.13 202.21 L617.43 201.47 L618.73 200.73 L620.05 200.01 L621.36 199.29 L622.69 198.57 L624.01 197.87 L625.34 197.17 L626.68 196.47 L628.02 195.78 L629.36 195.1 L630.7 194.42 L632.05 193.75 L633.4 193.09 L634.76 192.43 L636.12 191.78 L637.48 191.13 L638.85 190.5 L640.22 189.88 L641.59 189.27 L642.97 188.67 L644.35 188.08 L645.73 187.5 L647.12 186.94 L648.51 186.39 L649.91 185.86 L651.31 185.34 L652.72 184.84 L654.13 184.36 L655.54 183.89 L656.96 183.45 L658.39 183.02 L659.81 182.61 L661.25 182.22 L662.68 181.85 L664.12 181.5 L665.57 181.18 L667.02 180.87 L668.47 180.59 L669.92 180.33 L671.38 180.09 L672.84 179.87 L674.31 179.68 L675.78 179.51 L677.25 179.36 L678.72 179.24 L680.2 179.15 L681.67 179.08 L683.15 179.03 L684.64 179.01 L686.12 179.02 L687.61 179.05 L689.09 179.11 L690.58 179.19 L692.07 179.3 L693.56 179.43 L695.05 179.59 L696.53 179.77 L698.02 179.97 L699.51 180.2 L700.99 180.44 L702.47 180.71 L703.95 181 L705.43 181.32 L706.9 181.65 L708.37 182 L709.84 182.38 L711.3 182.77 L712.76 183.18 L714.21 183.61 L715.66 184.06 L717.1 184.53 L718.54 185.02 L719.97 185.52 L721.39 186.04 L722.81 186.58 L724.21 187.14 L725.62 187.71 L727.01 188.29 L728.39 188.89 L729.77 189.51 L731.14 190.14 L732.5 190.79 L733.85 191.45 L735.19 192.12 L736.52 192.81 L737.84 193.51 L739.16 194.22 L740.47 194.95 L741.76 195.69 L743.06 196.44 L744.34 197.21 L745.61 197.98 L746.88 198.77 L748.14 199.58 L749.39 200.39 L750.63 201.21 L751.87 202.05 L753.1 202.9 L754.32 203.76 L755.53 204.62 L756.74 205.5 L757.94 206.39 L759.13 207.29 L760.32 208.2 L761.5 209.12 L762.67 210.05 L763.84 210.99 L765 211.93 L766.15 212.89 L767.3 213.85 L768.44 214.82 L769.58 215.8 L770.7 216.79 L771.83 217.79 L772.94 218.79 L774.06 219.8 L775.16 220.82 L776.26 221.84 L777.36 222.87 L778.45 223.91 L779.53 224.96 L780.61 226.01 L781.69 227.06 L782.76 228.12 L783.82 229.19 L784.88 230.26 L785.94 231.34 L786.99 232.42 L788.03 233.51 L789.08 234.6 L790.11 235.69 L791.15 236.79 L792.18 237.9 L793.2 239 L794.23 240.11 L795.24 241.23 L796.26 242.34 L797.27 243.46 L798.28 244.59 L799.28 245.71 L800.28 246.84 L801.28 247.97 L802.27 249.1 L803.27 250.24 L804.26 251.38 L805.24 252.52 L806.23 253.66 L807.21 254.8 L808.19 255.95 L809.17 257.09 L810.15 258.24 L811.12 259.39 L812.09 260.54 L813.06 261.7 L814.03 262.85 L815 264 L815.97 265.16 L816.93 266.31 L817.9 267.47 L818.86 268.63 L819.83 269.78 L820.79 270.94 L821.75 272.1 L822.71 273.25 L823.67 274.41 L824.63 275.57 L825.6 276.72 L826.56 277.88 L827.52 279.03 L828.48 280.18 L829.44 281.34 L830.4 282.49 L831.37 283.64 L832.33 284.79 L833.3 285.93 L834.26 287.08 L835.23 288.22 L836.2 289.37 L837.17 290.51 L838.14 291.65 L839.11 292.78 L840.08 293.92 L841.06 295.05 L842.04 296.18 L843.02 297.3 L844 298.42 L844.99 299.55 L845.97 300.66 L846.96 301.78 L847.96 302.89 L848.95 304 L849.95 305.1 L850.95 306.2 L851.95 307.3 L852.96 308.39 L853.97 309.48 L854.99 310.56 L856.01 311.64 L857.03 312.72 L858.05 313.79 L859.08 314.86 L860.11 315.93 L861.15 316.99 L862.18 318.05 L863.22 319.1 L864.27 320.15 L865.32 321.2 L866.37 322.25 L867.42 323.29 L868.48 324.33 L869.54 325.37 L870.6 326.41 L871.66 327.44 L872.73 328.47 L873.8 329.5 L874.88 330.52 L875.96 331.55 L877.04 332.57 L878.12 333.59 L879.2 334.61 L880.29 335.63 L881.38 336.64 L882.47 337.66 L883.57 338.67 L884.67 339.68 L885.77 340.69 L886.87 341.7 L887.98 342.71 L889.09 343.72 L890.2 344.73 L891.31 345.73 L892.43 346.74 L893.54 347.74 L894.66 348.75 L895.78 349.76 L896.91 350.76 L898.04 351.77 L899.16 352.77 L900.29 353.78 L901.43 354.79 L902.56 355.79 L903.7 356.8 L904.84 357.81 L905.98 358.82 L907.12 359.83 L908.26 360.83 L909.41 361.84 L910.56 362.85 L911.71 363.85 L912.87 364.86 L914.02 365.86 L915.18 366.86 L916.34 367.86 L917.51 368.86 L918.67 369.85 L919.84 370.84 L921.01 371.83 L922.19 372.82 L923.36 373.8 L924.54 374.78 L925.73 375.75 L926.91 376.72 L928.1 377.69 L929.29 378.65 L930.49 379.61 L931.68 380.56 L932.88 381.51 L934.09 382.45 L935.3 383.39 L936.51 384.32 L937.72 385.25 L938.94 386.17 L940.16 387.08 L941.38 387.98 L942.61 388.88 L943.84 389.77 L945.07 390.66 L946.31 391.53 L947.55 392.4 L948.8 393.26 L950.04 394.11 L951.3 394.95 L952.55 395.79 L953.81 396.61 L955.08 397.43 L956.35 398.23 L957.62 399.03 L958.89 399.82 L960.17 400.59 L961.46 401.36 L962.75 402.11 L964.04 402.86 L965.34 403.59 L966.64 404.31 L967.94 405.02 L969.25 405.72 L970.57 406.41 L971.89 407.08 L973.21 407.74 L974.54 408.39 L975.87 409.03 L977.21 409.65 L978.55 410.26 L979.9 410.85 L981.25 411.44 L982.61 412 L983.97 412.56 L985.33 413.09 L986.71 413.62 L988.08 414.13 L989.46 414.62 L990.85 415.1 L992.24 415.56 L993.64 416.01 L995.04 416.44 L996.45 416.85 L997.86 417.25 L999.28 417.63 L1000.7 417.99 L1002.13 418.34 L1003.57 418.66 L1005.01 418.97 L1006.45 419.27 L1007.91 419.54 L1009.36 419.8 L1010.82 420.04 L1012.29 420.26 L1013.76 420.47 L1015.23 420.66 L1016.71 420.83 L1018.19 420.99 L1019.68 421.13 L1021.16 421.25 L1022.66 421.35 L1024.15 421.45 L1025.65 421.52 L1027.15 421.58 L1028.65 421.62 L1030.16 421.65 L1031.66 421.66 L1033.17 421.66 L1034.68 421.64 L1036.19 421.6 L1037.7 421.56 L1039.22 421.49 L1040.73 421.41 L1042.25 421.32 L1043.76 421.22 L1045.28 421.09 L1046.79 420.96 L1048.31 420.81 L1049.82 420.65 L1051.33 420.47 L1052.85 420.28 L1054.36 420.07 L1055.87 419.86 L1057.38 419.63 L1058.89 419.38 L1060.39 419.13 L1061.9 418.86 L1063.4 418.57 L1064.9 418.28 L1066.39 417.97 L1067.89 417.65 L1069.38 417.32 L1070.86 416.98 L1072.35 416.62 L1073.83 416.26 L1075.3 415.88 L1076.78 415.49 L1078.24 415.09 L1079.71 414.67 L1081.17 414.25 L1082.62 413.81 L1084.07 413.37 L1085.51 412.91 L1086.95 412.45 L1088.38 411.97 L1089.81 411.48 L1091.23 410.98 L1092.65 410.48 L1094.06 409.96 L1095.47 409.44 L1096.88 408.9 L1098.27 408.36 L1099.67 407.8 L1101.06 407.24 L1102.45 406.68 L1103.83 406.1 L1105.21 405.51 L1106.58 404.92 L1107.95 404.32 L1109.32 403.71 L1110.68 403.1 L1112.04 402.48 L1113.4 401.85 L1114.76 401.22 L1116.11 400.58 L1117.45 399.93 L1118.8 399.28 L1120.14 398.62 L1121.48 397.96 L1122.82 397.29 L1124.15 396.62 L1125.48 395.94 L1126.81 395.26 L1128.14 394.57 L1129.47 393.88 L1130.79 393.19 L1132.11 392.49 L1133.43 391.79 L1134.75 391.08 L1136.07 390.37 L1137.38 389.66 L1138.69 388.95 L1140.01 388.23 L1141.32 387.52 L1142.63 386.8 L1143.94 386.07 L1145.25 385.35 L1146.56 384.62 L1147.86 383.9 L1149.17 383.17 L1150.48 382.44 L1151.78 381.71 L1153.09 380.98 L1154.4 380.25 L1155.7 379.52 L1157.01 378.79 L1158.32 378.07 L1159.62 377.34 L1160.93 376.61 L1162.24 375.88 L1163.55 375.16 L1164.85 374.43 L1166.17 373.71 L1167.48 372.99 L1168.79 372.27 L1170.1 371.56 L1171.42 370.84 L1172.73 370.13 L1174.05 369.43 L1175.37 368.72 L1176.69 368.02 L1178.01 367.32 L1179.34 366.63 L1180.66 365.94 L1181.99 365.25 L1183.32 364.56 L1184.65 363.88 L1185.98 363.2 L1187.32 362.52 L1188.65 361.84 L1189.99 361.17 L1191.32 360.5 L1192.66 359.83 L1194 359.17 L1195.34 358.5 L1196.69 357.84 L1198.03 357.18 L1199.38 356.52 L1200.72 355.86 L1202.07 355.21 L1203.42 354.55 L1204.77 353.9 L1206.12 353.25 L1207.47 352.6 L1208.82 351.95 L1210.17 351.3 L1211.52 350.65 L1212.88 350 L1214.23 349.36 L1215.59 348.71 L1216.94 348.07 L1218.3 347.42 L1219.65 346.77 L1221.01 346.13 L1222.37 345.48 L1223.73 344.84 L1225.09 344.19 L1226.45 343.55 L1227.8 342.9 L1229.16 342.25 L1230.52 341.6 L1231.88 340.96 L1233.24 340.31 L1234.6 339.66 L1235.96 339.01 L1237.33 338.36 L1238.69 337.71 L1240.05 337.06 L1241.41 336.42 L1242.77 335.77 L1244.14 335.12 L1245.5 334.48 L1246.87 333.83 L1248.23 333.19 L1249.6 332.55 L1250.96 331.91 L1252.33 331.28 L1253.7 330.64 L1255.07 330.01 L1256.44 329.38 L1257.81 328.75 L1259.18 328.13 L1260.55 327.5 L1261.93 326.89 L1263.3 326.27 L1264.68 325.66 L1266.05 325.05 L1267.43 324.45 L1268.81 323.85 L1270.19 323.25 L1271.57 322.66 L1272.95 322.07 L1274.34 321.49 L1275.72 320.91 L1277.11 320.34 L1278.5 319.77 L1279.89 319.2 L1281.28 318.65 L1282.67 318.09 L1284.06 317.55 L1285.46 317.01 L1286.86 316.48 L1288.25 315.95 L1289.66 315.43 L1291.06 314.91 L1292.46 314.4 L1293.87 313.9 L1295.27 313.41 L1296.68 312.92 L1298.09 312.44 L1299.51 311.97 L1300.92 311.51 L1302.34 311.05 L1303.76 310.6 L1305.18 310.16 L1306.6 309.73 L1308.03 309.3 L1309.46 308.88 L1310.88 308.48 L1312.32 308.08 L1313.75 307.68 L1315.19 307.3 L1316.63 306.93 L1318.07 306.56 L1319.51 306.2 L1320.96 305.85 L1322.41 305.52 L1323.86 305.19 L1325.31 304.87 L1326.77 304.56 L1328.23 304.26 L1329.69 303.97 L1331.15 303.68 L1332.62 303.41 L1334.09 303.15 L1335.56 302.9 L1337.03 302.66 L1338.51 302.43 L1339.99 302.2 L1341.47 301.98 L1342.96 301.77 L1344.44 301.57 L1345.93 301.37 L1347.42 301.18 L1348.91 301 L1350.41 300.81 L1351.9 300.64 L1353.4 300.47 L1354.9 300.3 L1356.39 300.13 L1357.89 299.97 L1359.4 299.81 L1360.9 299.65 L1362.4 299.5 L1363.9 299.36 L1365.41 299.21 L1366.91 299.08 L1368.42 298.94 L1369.93 298.81 L1371.43 298.69 L1372.94 298.57 L1374.45 298.45 L1375.96 298.35 L1377.47 298.24 L1378.98 298.15 L1380.48 298.05 L1381.99 297.97 L1383.5 297.89 L1385.01 297.82 L1386.52 297.75 L1388.03 297.69 L1389.54 297.64 L1391.05 297.59 L1392.56 297.55 L1394.07 297.52 L1395.58 297.49 L1397.08 297.48 L1398.59 297.47 L1400.1 297.46 L1401.6 297.47 L1403.11 297.48 L1404.61 297.51 L1406.12 297.54 L1407.62 297.58 L1409.12 297.63 L1410.62 297.69 L1412.12 297.75 L1413.62 297.83 L1415.12 297.91 L1416.62 298.01 L1418.11 298.12 L1419.6 298.23 L1421.1 298.36 L1422.59 298.49 L1424.08 298.64 L1425.56 298.79 L1427.05 298.96 L1428.53 299.14 L1430.02 299.32 L1431.5 299.52 L1432.98 299.73 L1434.45 299.95 L1435.93 300.17 L1437.41 300.41 L1438.88 300.66 L1440.35 300.91 L1441.82 301.17 L1443.29 301.44 L1444.76 301.72 L1446.23 302.01 L1447.69 302.3 L1449.16 302.6 L1450.62 302.91 L1452.08 303.23 L1453.54 303.55 L1455 303.88 L1456.46 304.21 L1457.92 304.55 L1459.37 304.9 L1460.83 305.26 L1462.29 305.61 L1463.74 305.98 L1465.19 306.35 L1466.64 306.72 L1468.09 307.1 L1469.55 307.48 L1470.99 307.87 L1472.44 308.26 L1473.89 308.65 L1475.34 309.05 L1476.79 309.45 L1478.23 309.85 L1479.68 310.26 L1481.12 310.67 L1482.57 311.08 L1484.01 311.49 L1485.46 311.91 L1486.9 312.33 L1488.34 312.74 L1489.78 313.16 L1491.23 313.59 L1492.67 314.01 L1494.11 314.43 L1495.55 314.85 L1496.99 315.27 L1498.43 315.7 L1499.87 316.12 L1501.32 316.54 L1502.76 316.96 L1504.2 317.38 L1505.64 317.8 L1507.08 318.22 L1508.53 318.63 L1509.97 319.05 L1511.41 319.46 L1512.86 319.87 L1514.3 320.28 L1515.75 320.68 L1517.19 321.08 L1518.64 321.48 L1520.09 321.88 L1521.54 322.27 L1522.99 322.65 L1524.44 323.04 L1525.89 323.42 L1527.34 323.79 L1528.79 324.16 L1530.25 324.52 L1531.7 324.88 L1533.16 325.24 L1534.62 325.59 L1536.08 325.93 L1537.54 326.28 L1539 326.62 L1540.46 326.95 L1541.92 327.29 L1543.38 327.62 L1544.85 327.95 L1546.31 328.28 L1547.77 328.61 L1549.24 328.93 L1550.7 329.26 L1552.17 329.58 L1553.63 329.91 L1555.1 330.23 L1556.56 330.56 L1558.02 330.89 L1559.49 331.22 L1560.95 331.55 L1562.41 331.88 L1563.87 332.22 L1565.33 332.56 L1566.79 332.9 L1568.25 333.24 L1569.71 333.59 L1571.17 333.94 L1572.63 334.3 L1574.08 334.66 L1575.53 335.03 L1576.99 335.4 L1578.44 335.78 L1579.89 336.16 L1581.34 336.55 L1582.78 336.95 L1584.23 337.36 L1585.67 337.77 L1587.11 338.19 L1588.55 338.62 L1589.99 339.05 L1591.42 339.49 L1592.86 339.94 L1594.29 340.39 L1595.73 340.84 L1597.16 341.3 L1598.59 341.77 L1600.02 342.23 L1601.45 342.7 L1602.87 343.18 L1604.3 343.65 L1605.73 344.12 L1607.16 344.6 L1608.58 345.07 L1610.01 345.55 L1611.44 346.02 L1612.86 346.49 L1614.29 346.96 L1615.72 347.43 L1617.15 347.9 L1618.58 348.36 L1620.01 348.81 L1621.44 349.27 L1622.87 349.71 L1624.31 350.15 L1625.74 350.59 L1627.18 351.02 L1628.62 351.44 L1630.06 351.85 L1631.5 352.26 L1632.94 352.66 L1634.38 353.05 L1635.83 353.42 L1637.28 353.79 L1638.73 354.16 L1640.18 354.51 L1641.64 354.85 L1643.1 355.19 L1644.55 355.51 L1646.01 355.83 L1647.48 356.14 L1648.94 356.44 L1650.4 356.73 L1651.87 357.02 L1653.34 357.3 L1654.81 357.56 L1656.28 357.83 L1657.75 358.08 L1659.23 358.33 L1660.7 358.57 L1662.18 358.8 L1663.66 359.02 L1665.14 359.24 L1666.62 359.45 L1668.1 359.65 L1669.58 359.85 L1671.07 360.04 L1672.55 360.23 L1674.04 360.4 L1675.52 360.57 L1677.01 360.74 L1678.5 360.9 L1679.99 361.05 L1681.48 361.2 L1682.97 361.34 L1684.47 361.47 L1685.96 361.6 L1687.45 361.73 L1688.95 361.85 L1690.44 361.96 L1691.94 362.07 L1693.44 362.17 L1694.93 362.27 L1696.43 362.36 L1697.93 362.45 L1699.43 362.53 L1700.93 362.61 L1702.43 362.69 L1703.93 362.76 L1705.43 362.82 L1706.93 362.89 L1708.43 362.94 L1709.93 363 L1711.43 363.05 L1712.93 363.09 L1714.43 363.14 L1715.93 363.18 L1717.44 363.21 L1718.94 363.24 L1720.44 363.27 L1721.94 363.3 L1723.44 363.32 L1724.94 363.34 L1726.44 363.36 L1727.94 363.37 L1729.44 363.38 L1730.95 363.39 L1732.45 363.4 L1733.95 363.4 L1735.45 363.4 L1736.95 363.39 L1738.45 363.39 L1739.95 363.38 L1741.45 363.37 L1742.94 363.35 L1744.44 363.33 L1745.94 363.31 L1747.44 363.29 L1748.94 363.26 L1750.44 363.23 L1751.94 363.2 L1753.44 363.16 L1754.93 363.12 L1756.43 363.08 L1757.93 363.04 L1759.43 362.99 L1760.93 362.94 L1762.42 362.89 L1763.92 362.84 L1765.42 362.78 L1766.92 362.72 L1768.41 362.65 L1769.91 362.59 L1771.41 362.52 L1772.9 362.45 L1774.4 362.37 L1775.89 362.29 L1777.39 362.21 L1778.89 362.13 L1780.38 362.05 L1781.88 361.96 L1783.37 361.87 L1784.87 361.77 L1786.36 361.68 L1787.86 361.58 L1789.35 361.48 L1790.85 361.37 L1792.34 361.27 L1793.83 361.16 L1795.33 361.04 L1796.82 360.93 L1798.31 360.81 L1799.81 360.69 L1801.3 360.57 L1802.79 360.44 L1804.29 360.32 L1805.78 360.19 L1807.27 360.05 L1808.76 359.92 L1810.25 359.78 L1811.75 359.64 L1813.24 359.5 L1814.73 359.35 L1816.22 359.2 L1817.71 359.05 L1819.2 358.9 L1820.69 358.74 L1822.18 358.58 L1823.67 358.42 L1825.16 358.26 L1826.65 358.09 L1828.14 357.92 L1829.63 357.75 L1831.12 357.58 L1832.61 357.4 L1834.1 357.23 L1835.58 357.05 L1837.07 356.86 L1838.56 356.68 L1840.05 356.49 L1841.54 356.3 L1843.02 356.11 L1844.51 355.91 L1846 355.71 L1847.48 355.51 L1848.97 355.31 L1850.46 355.11 L1851.94 354.9 L1853.43 354.69 L1854.91 354.48 L1856.4 354.27 L1857.88 354.05 L1859.37 353.83 L1860.85 353.61 L1862.34 353.39 L1863.82 353.16 L1865.3 352.93 L1866.79 352.7 L1868.27 352.47 L1869.75 352.24" fill="none" stroke="#d62728" stroke-width="8.9" stroke-linejoin="round" stroke-linecap="butt"/>
<line x1="219" y1="1192.9" x2="274" y2="1192.9" stroke="#d62728" stroke-width="9.9"/>
<g><polygon points="220.8,1182.69 209.69,1204.91 231.91,1204.91" fill="#d62728" stroke="#d62728" stroke-width="5.56" stroke-linejoin="miter"/><polygon points="356.38,937.79 345.27,960.01 367.49,960.01" fill="#d62728" stroke="#d62728" stroke-width="5.56" stroke-linejoin="miter"/><polygon points="492.97,401.89 481.86,424.11 504.08,424.11" fill="#d62728" stroke="#d62728" stroke-width="5.56" stroke-linejoin="miter"/><polygon points="629.55,184.29 618.44,206.51 640.66,206.51" fill="#d62728" stroke="#d62728" stroke-width="5.56" stroke-linejoin="miter"/><polygon points="766.13,201.69 755.02,223.91 777.24,223.91" fill="#d62728" stroke="#d62728" stroke-width="5.56" stroke-linejoin="miter"/><polygon points="902.71,344.59 891.6,366.81 913.82,366.81" fill="#d62728" stroke="#d62728" stroke-width="5.56" stroke-linejoin="miter"/><polygon points="1039.3,410.59 1028.19,432.81 1050.41,432.81" fill="#d62728" stroke="#d62728" stroke-width="5.56" stroke-linejoin="miter"/><polygon points="1175.88,357.39 1164.77,379.61 1186.99,379.61" fill="#d62728" stroke="#d62728" stroke-width="5.56" stroke-linejoin="miter"/><polygon points="1312.46,296.39 1301.35,318.61 1323.57,318.61" fill="#d62728" stroke="#d62728" stroke-width="5.56" stroke-linejoin="miter"/><polygon points="1449.05,291.29 1437.94,313.51 1460.16,313.51" fill="#d62728" stroke="#d62728" stroke-width="5.56" stroke-linejoin="miter"/><polygon points="1585.63,326.59 1574.52,348.81 1596.74,348.81" fill="#d62728" stroke="#d62728" stroke-width="5.56" stroke-linejoin="miter"/><polygon points="1722.21,351.99 1711.1,374.21 1733.32,374.21" fill="#d62728" stroke="#d62728" stroke-width="5.56" stroke-linejoin="miter"/><polygon points="1858.8,342.59 1847.69,364.81 1869.91,364.81" fill="#d62728" stroke="#d62728" stroke-width="5.56" stroke-linejoin="miter"/></g>
<path d="M219.8 1193.4 L267.99 1193.4 L267.99 1193.4 L269.79 1193.2 L271.53 1192.94 L273.2 1192.6 L274.8 1192.21 L276.35 1191.76 L277.83 1191.26 L279.26 1190.69 L280.63 1190.08 L281.95 1189.41 L283.21 1188.69 L284.42 1187.93 L285.58 1187.11 L286.7 1186.26 L287.76 1185.35 L288.79 1184.41 L289.77 1183.43 L290.71 1182.4 L291.61 1181.34 L292.47 1180.25 L293.3 1179.12 L294.09 1177.96 L294.85 1176.78 L295.58 1175.56 L296.28 1174.31 L296.96 1173.05 L297.61 1171.75 L298.23 1170.44 L298.83 1169.11 L299.41 1167.76 L299.98 1166.39 L300.52 1165 L301.06 1163.61 L301.57 1162.2 L302.08 1160.79 L302.57 1159.36 L303.06 1157.93 L303.54 1156.49 L304.02 1155.06 L304.49 1153.62 L304.96 1152.17 L305.43 1150.73 L305.89 1149.29 L306.36 1147.85 L306.82 1146.41 L307.28 1144.97 L307.74 1143.53 L308.19 1142.09 L308.64 1140.64 L309.09 1139.2 L309.54 1137.76 L309.99 1136.32 L310.44 1134.87 L310.88 1133.43 L311.32 1131.99 L311.76 1130.54 L312.19 1129.1 L312.63 1127.65 L313.06 1126.21 L313.49 1124.76 L313.92 1123.32 L314.35 1121.87 L314.78 1120.43 L315.2 1118.98 L315.62 1117.54 L316.04 1116.09 L316.46 1114.64 L316.88 1113.2 L317.29 1111.75 L317.71 1110.3 L318.12 1108.86 L318.53 1107.41 L318.94 1105.96 L319.34 1104.51 L319.75 1103.06 L320.15 1101.61 L320.55 1100.17 L320.95 1098.72 L321.35 1097.27 L321.75 1095.82 L322.14 1094.37 L322.54 1092.92 L322.93 1091.47 L323.32 1090.02 L323.71 1088.57 L324.1 1087.12 L324.48 1085.67 L324.87 1084.22 L325.25 1082.76 L325.64 1081.31 L326.02 1079.86 L326.4 1078.41 L326.77 1076.96 L327.15 1075.5 L327.53 1074.05 L327.9 1072.6 L328.28 1071.15 L328.65 1069.69 L329.02 1068.24 L329.39 1066.78 L329.76 1065.33 L330.12 1063.88 L330.49 1062.42 L330.85 1060.97 L331.22 1059.51 L331.58 1058.06 L331.94 1056.6 L332.3 1055.15 L332.66 1053.69 L333.02 1052.24 L333.38 1050.78 L333.74 1049.33 L334.09 1047.87 L334.45 1046.41 L334.8 1044.96 L335.15 1043.5 L335.5 1042.04 L335.85 1040.59 L336.2 1039.13 L336.55 1037.67 L336.9 1036.21 L337.25 1034.75 L337.6 1033.3 L337.94 1031.84 L338.29 1030.38 L338.63 1028.92 L338.98 1027.46 L339.32 1026 L339.66 1024.54 L340 1023.08 L340.34 1021.63 L340.68 1020.17 L341.02 1018.71 L341.36 1017.25 L341.7 1015.79 L342.04 1014.32 L342.37 1012.86 L342.71 1011.4 L343.04 1009.94 L343.38 1008.48 L343.71 1007.02 L344.05 1005.56 L344.38 1004.1 L344.71 1002.64 L345.04 1001.17 L345.37 999.71 L345.7 998.25 L346.03 996.79 L346.36 995.33 L346.69 993.86 L347.02 992.4 L347.35 990.94 L347.67 989.48 L348 988.01 L348.32 986.55 L348.65 985.09 L348.97 983.62 L349.3 982.16 L349.62 980.7 L349.95 979.23 L350.27 977.77 L350.59 976.31 L350.91 974.84 L351.23 973.38 L351.56 971.91 L351.88 970.45 L352.2 968.98 L352.52 967.52 L352.84 966.06 L353.15 964.59 L353.47 963.13 L353.79 961.66 L354.11 960.2 L354.43 958.73 L354.74 957.27 L355.06 955.8 L355.38 954.34 L355.69 952.87 L356.01 951.4 L356.32 949.94 L356.64 948.47 L356.95 947.01 L357.27 945.54 L357.58 944.08 L357.89 942.61 L358.21 941.14 L358.52 939.68 L358.83 938.21 L359.15 936.75 L359.46 935.28 L359.77 933.81 L360.08 932.35 L360.39 930.88 L360.7 929.41 L361.02 927.95 L361.33 926.48 L361.64 925.01 L361.95 923.55 L362.26 922.08 L362.57 920.61 L362.88 919.15 L363.19 917.68 L363.5 916.21 L363.81 914.75 L364.12 913.28 L364.43 911.81 L364.74 910.35 L365.05 908.88 L365.36 907.41 L365.66 905.95 L365.97 904.48 L366.28 903.01 L366.59 901.54 L366.9 900.08 L367.21 898.61 L367.52 897.14 L367.83 895.68 L368.13 894.21 L368.44 892.74 L368.75 891.27 L369.06 889.81 L369.37 888.34 L369.68 886.87 L369.99 885.41 L370.29 883.94 L370.6 882.47 L370.91 881 L371.22 879.54 L371.53 878.07 L371.84 876.6 L372.15 875.14 L372.46 873.67 L372.77 872.2 L373.07 870.74 L373.38 869.27 L373.69 867.8 L374 866.33 L374.31 864.87 L374.62 863.4 L374.93 861.93 L375.24 860.47 L375.55 859 L375.86 857.53 L376.17 856.07 L376.49 854.6 L376.8 853.14 L377.11 851.67 L377.42 850.2 L377.73 848.74 L378.04 847.27 L378.35 845.8 L378.67 844.34 L378.98 842.87 L379.29 841.41 L379.61 839.94 L379.92 838.47 L380.23 837.01 L380.55 835.54 L380.86 834.08 L381.18 832.61 L381.49 831.14 L381.81 829.68 L382.12 828.21 L382.44 826.75 L382.75 825.28 L383.07 823.82 L383.39 822.35 L383.71 820.89 L384.02 819.42 L384.34 817.96 L384.66 816.49 L384.98 815.03 L385.3 813.56 L385.62 812.1 L385.94 810.64 L386.26 809.17 L386.58 807.71 L386.9 806.24 L387.22 804.78 L387.54 803.32 L387.86 801.85 L388.18 800.39 L388.51 798.92 L388.83 797.46 L389.15 796 L389.48 794.53 L389.8 793.07 L390.12 791.61 L390.45 790.14 L390.77 788.68 L391.1 787.22 L391.43 785.75 L391.75 784.29 L392.08 782.83 L392.4 781.37 L392.73 779.9 L393.06 778.44 L393.39 776.98 L393.71 775.51 L394.04 774.05 L394.37 772.59 L394.7 771.13 L395.03 769.67 L395.36 768.2 L395.69 766.74 L396.02 765.28 L396.35 763.82 L396.68 762.36 L397.01 760.89 L397.34 759.43 L397.68 757.97 L398.01 756.51 L398.34 755.05 L398.68 753.59 L399.01 752.13 L399.34 750.67 L399.68 749.2 L400.01 747.74 L400.35 746.28 L400.68 744.82 L401.02 743.36 L401.35 741.9 L401.69 740.44 L402.03 738.98 L402.36 737.52 L402.7 736.06 L403.04 734.6 L403.38 733.14 L403.71 731.68 L404.05 730.22 L404.39 728.76 L404.73 727.3 L405.07 725.84 L405.41 724.38 L405.75 722.92 L406.09 721.46 L406.43 720 L406.77 718.54 L407.12 717.08 L407.46 715.62 L407.8 714.16 L408.14 712.7 L408.49 711.24 L408.83 709.79 L409.17 708.33 L409.52 706.87 L409.86 705.41 L410.21 703.95 L410.55 702.49 L410.9 701.03 L411.25 699.58 L411.59 698.12 L411.94 696.66 L412.29 695.2 L412.63 693.74 L412.98 692.28 L413.33 690.83 L413.68 689.37 L414.03 687.91 L414.37 686.45 L414.72 684.99 L415.07 683.54 L415.42 682.08 L415.77 680.62 L416.12 679.16 L416.48 677.71 L416.83 676.25 L417.18 674.79 L417.53 673.34 L417.88 671.88 L418.24 670.42 L418.59 668.97 L418.94 667.51 L419.3 666.05 L419.65 664.59 L420.01 663.14 L420.36 661.68 L420.72 660.23 L421.07 658.77 L421.43 657.31 L421.78 655.86 L422.14 654.4 L422.5 652.94 L422.85 651.49 L423.21 650.03 L423.57 648.58 L423.93 647.12 L424.29 645.66 L424.65 644.21 L425.01 642.75 L425.37 641.3 L425.73 639.84 L426.09 638.39 L426.45 636.93 L426.81 635.48 L427.17 634.02 L427.53 632.57 L427.89 631.11 L428.26 629.66 L428.62 628.2 L428.98 626.75 L429.35 625.29 L429.71 623.84 L430.07 622.38 L430.44 620.93 L430.8 619.47 L431.17 618.02 L431.53 616.56 L431.9 615.11 L432.27 613.66 L432.63 612.2 L433 610.75 L433.37 609.29 L433.74 607.84 L434.1 606.39 L434.47 604.93 L434.84 603.48 L435.21 602.03 L435.58 600.57 L435.95 599.12 L436.32 597.67 L436.69 596.21 L437.06 594.76 L437.43 593.31 L437.81 591.85 L438.18 590.4 L438.55 588.95 L438.93 587.5 L439.3 586.04 L439.68 584.59 L440.05 583.14 L440.43 581.69 L440.8 580.24 L441.18 578.78 L441.56 577.33 L441.94 575.88 L442.31 574.43 L442.69 572.98 L443.07 571.53 L443.45 570.08 L443.83 568.63 L444.22 567.18 L444.6 565.73 L444.98 564.27 L445.36 562.82 L445.75 561.38 L446.13 559.93 L446.52 558.48 L446.9 557.03 L447.29 555.58 L447.68 554.13 L448.07 552.68 L448.45 551.23 L448.84 549.78 L449.23 548.34 L449.62 546.89 L450.02 545.44 L450.41 543.99 L450.8 542.55 L451.19 541.1 L451.59 539.65 L451.98 538.21 L452.38 536.76 L452.78 535.31 L453.17 533.87 L453.57 532.42 L453.97 530.98 L454.37 529.53 L454.77 528.09 L455.17 526.64 L455.58 525.2 L455.98 523.75 L456.39 522.31 L456.79 520.87 L457.2 519.42 L457.6 517.98 L458.01 516.54 L458.42 515.09 L458.83 513.65 L459.24 512.21 L459.65 510.77 L460.06 509.33 L460.48 507.89 L460.89 506.45 L461.31 505.01 L461.72 503.57 L462.14 502.13 L462.56 500.69 L462.98 499.25 L463.4 497.81 L463.82 496.37 L464.24 494.93 L464.66 493.49 L465.09 492.06 L465.51 490.62 L465.94 489.18 L466.37 487.75 L466.8 486.31 L467.23 484.87 L467.66 483.44 L468.09 482 L468.52 480.57 L468.96 479.13 L469.39 477.7 L469.83 476.27 L470.26 474.83 L470.7 473.4 L471.14 471.97 L471.58 470.53 L472.03 469.1 L472.47 467.67 L472.91 466.24 L473.36 464.81 L473.81 463.38 L474.25 461.95 L474.7 460.52 L475.15 459.09 L475.61 457.66 L476.06 456.23 L476.51 454.8 L476.97 453.38 L477.42 451.95 L477.88 450.52 L478.34 449.1 L478.8 447.67 L479.26 446.25 L479.73 444.82 L480.19 443.4 L480.66 441.97 L481.13 440.55 L481.59 439.12 L482.06 437.7 L482.53 436.28 L483.01 434.86 L483.48 433.44 L483.96 432.01 L484.43 430.59 L484.91 429.17 L485.39 427.75 L485.87 426.33 L486.35 424.91 L486.83 423.5 L487.31 422.08 L487.8 420.66 L488.28 419.24 L488.77 417.83 L489.26 416.41 L489.74 414.99 L490.23 413.58 L490.73 412.16 L491.22 410.74 L491.71 409.33 L492.2 407.91 L492.7 406.5 L493.19 405.09 L493.69 403.67 L494.19 402.26 L494.69 400.85 L495.19 399.43 L495.69 398.02 L496.19 396.61 L496.69 395.2 L497.2 393.79 L497.7 392.38 L498.21 390.97 L498.71 389.56 L499.22 388.15 L499.73 386.74 L500.24 385.33 L500.74 383.92 L501.25 382.51 L501.77 381.1 L502.28 379.69 L502.79 378.28 L503.3 376.88 L503.82 375.47 L504.33 374.06 L504.85 372.65 L505.36 371.25 L505.88 369.84 L506.4 368.44 L506.91 367.03 L507.43 365.62 L507.95 364.22 L508.47 362.81 L508.99 361.41 L509.51 360 L510.04 358.6 L510.56 357.2 L511.08 355.79 L511.6 354.39 L512.13 352.99 L512.65 351.58 L513.18 350.18 L513.7 348.78 L514.23 347.37 L514.76 345.97 L515.28 344.57 L515.81 343.17 L516.34 341.77 L516.87 340.37 L517.39 338.96 L517.92 337.56 L518.45 336.16 L518.98 334.76 L519.51 333.36 L520.04 331.96 L520.57 330.56 L521.1 329.16 L521.64 327.76 L522.17 326.36 L522.7 324.96 L523.23 323.56 L523.76 322.16 L524.3 320.76 L524.83 319.36 L525.36 317.97 L525.9 316.57 L526.43 315.17 L526.96 313.77 L527.5 312.37 L528.03 310.97 L528.56 309.58 L529.1 308.18 L529.63 306.78 L530.17 305.38 L530.7 303.99 L531.24 302.59 L531.78 301.19 L532.32 299.8 L532.86 298.4 L533.4 297.01 L533.94 295.62 L534.48 294.22 L535.03 292.83 L535.58 291.44 L536.13 290.05 L536.68 288.66 L537.23 287.28 L537.79 285.89 L538.35 284.5 L538.92 283.12 L539.48 281.74 L540.05 280.36 L540.63 278.98 L541.2 277.6 L541.78 276.23 L542.37 274.85 L542.95 273.48 L543.55 272.11 L544.14 270.74 L544.75 269.38 L545.35 268.01 L545.96 266.65 L546.58 265.29 L547.2 263.94 L547.82 262.58 L548.45 261.23 L549.09 259.88 L549.73 258.54 L550.38 257.19 L551.04 255.85 L551.7 254.51 L552.36 253.18 L553.04 251.85 L553.72 250.52 L554.4 249.19 L555.1 247.87 L555.8 246.55 L556.51 245.23 L557.22 243.92 L557.95 242.61 L558.68 241.31 L559.42 240.01 L560.16 238.71 L560.92 237.41 L561.68 236.12 L562.45 234.84 L563.23 233.55 L564.02 232.27 L564.82 231 L565.63 229.73 L566.44 228.46 L567.27 227.2 L568.11 225.95 L568.95 224.69 L569.81 223.44 L570.67 222.2 L571.55 220.96 L572.43 219.73 L573.32 218.5 L574.23 217.28 L575.14 216.07 L576.07 214.86 L577 213.65 L577.94 212.46 L578.89 211.27 L579.86 210.09 L580.83 208.91 L581.81 207.75 L582.8 206.59 L583.8 205.44 L584.81 204.3 L585.83 203.17 L586.86 202.05 L587.89 200.93 L588.94 199.83 L590 198.73 L591.06 197.65 L592.14 196.58 L593.22 195.52 L594.32 194.46 L595.42 193.42 L596.53 192.39 L597.65 191.38 L598.78 190.37 L599.92 189.38 L601.07 188.4 L602.23 187.43 L603.4 186.47 L604.57 185.53 L605.76 184.6 L606.95 183.69 L608.15 182.79 L609.36 181.9 L610.59 181.03 L611.81 180.17 L613.05 179.33 L614.3 178.5 L615.56 177.69 L616.82 176.89 L618.09 176.11 L619.38 175.35 L620.67 174.6 L621.97 173.87 L623.27 173.16 L624.59 172.46 L625.92 171.78 L627.25 171.12 L628.59 170.48 L629.94 169.85 L631.3 169.25 L632.67 168.66 L634.04 168.09 L635.43 167.54 L636.82 167.01 L638.21 166.49 L639.62 166 L641.03 165.52 L642.45 165.06 L643.87 164.63 L645.3 164.21 L646.73 163.81 L648.17 163.42 L649.61 163.06 L651.06 162.72 L652.52 162.39 L653.97 162.09 L655.43 161.8 L656.9 161.53 L658.37 161.29 L659.84 161.06 L661.31 160.85 L662.79 160.66 L664.27 160.49 L665.75 160.34 L667.23 160.2 L668.71 160.09 L670.19 160 L671.68 159.93 L673.17 159.87 L674.65 159.84 L676.14 159.82 L677.62 159.83 L679.11 159.85 L680.59 159.9 L682.08 159.96 L683.56 160.05 L685.04 160.15 L686.52 160.28 L688 160.42 L689.47 160.59 L690.94 160.77 L692.41 160.98 L693.88 161.2 L695.34 161.45 L696.8 161.71 L698.25 162 L699.7 162.3 L701.15 162.63 L702.59 162.98 L704.02 163.34 L705.45 163.73 L706.88 164.14 L708.3 164.57 L709.71 165.02 L711.11 165.49 L712.51 165.98 L713.91 166.49 L715.3 167.02 L716.68 167.56 L718.05 168.13 L719.42 168.71 L720.78 169.32 L722.14 169.94 L723.49 170.57 L724.83 171.23 L726.17 171.9 L727.5 172.59 L728.82 173.29 L730.14 174.01 L731.45 174.75 L732.75 175.5 L734.05 176.26 L735.34 177.04 L736.62 177.83 L737.9 178.64 L739.17 179.46 L740.43 180.29 L741.69 181.14 L742.93 182 L744.18 182.87 L745.41 183.75 L746.64 184.64 L747.86 185.55 L749.08 186.46 L750.29 187.39 L751.49 188.32 L752.68 189.27 L753.87 190.22 L755.05 191.19 L756.22 192.16 L757.39 193.14 L758.55 194.13 L759.7 195.13 L760.85 196.13 L761.98 197.14 L763.11 198.16 L764.24 199.18 L765.35 200.22 L766.46 201.25 L767.56 202.29 L768.66 203.34 L769.74 204.39 L770.82 205.45 L771.9 206.51 L772.97 207.58 L774.03 208.65 L775.08 209.73 L776.13 210.81 L777.17 211.9 L778.21 212.99 L779.24 214.09 L780.27 215.18 L781.29 216.29 L782.3 217.39 L783.31 218.5 L784.32 219.62 L785.32 220.74 L786.31 221.86 L787.31 222.98 L788.29 224.11 L789.28 225.24 L790.26 226.37 L791.23 227.51 L792.2 228.65 L793.17 229.79 L794.14 230.94 L795.1 232.08 L796.06 233.23 L797.01 234.38 L797.97 235.54 L798.92 236.69 L799.87 237.85 L800.81 239.01 L801.75 240.17 L802.7 241.33 L803.64 242.49 L804.57 243.66 L805.51 244.82 L806.45 245.99 L807.38 247.16 L808.31 248.33 L809.24 249.5 L810.17 250.67 L811.1 251.84 L812.03 253.01 L812.96 254.18 L813.89 255.35 L814.82 256.52 L815.75 257.69 L816.68 258.86 L817.61 260.03 L818.54 261.2 L819.47 262.37 L820.4 263.54 L821.34 264.7 L822.27 265.87 L823.2 267.04 L824.14 268.2 L825.08 269.36 L826.02 270.53 L826.96 271.69 L827.9 272.84 L828.85 274 L829.8 275.16 L830.75 276.31 L831.7 277.46 L832.66 278.61 L833.62 279.76 L834.58 280.9 L835.55 282.04 L836.52 283.18 L837.49 284.32 L838.46 285.45 L839.44 286.59 L840.42 287.72 L841.4 288.85 L842.38 289.97 L843.37 291.1 L844.36 292.22 L845.35 293.34 L846.34 294.46 L847.34 295.58 L848.34 296.69 L849.34 297.81 L850.35 298.92 L851.35 300.03 L852.36 301.13 L853.37 302.24 L854.38 303.34 L855.4 304.45 L856.42 305.55 L857.43 306.64 L858.45 307.74 L859.48 308.84 L860.5 309.93 L861.53 311.02 L862.56 312.11 L863.59 313.2 L864.62 314.29 L865.65 315.38 L866.69 316.46 L867.72 317.55 L868.76 318.63 L869.8 319.71 L870.84 320.79 L871.88 321.87 L872.93 322.94 L873.97 324.02 L875.02 325.09 L876.07 326.17 L877.12 327.24 L878.17 328.31 L879.22 329.38 L880.27 330.45 L881.32 331.52 L882.38 332.58 L883.43 333.65 L884.49 334.71 L885.55 335.78 L886.6 336.84 L887.66 337.9 L888.72 338.96 L889.78 340.02 L890.84 341.08 L891.91 342.14 L892.97 343.2 L894.03 344.26 L895.09 345.31 L896.16 346.37 L897.22 347.43 L898.29 348.48 L899.35 349.53 L900.42 350.59 L901.48 351.64 L902.55 352.69 L903.61 353.75 L904.68 354.8 L905.75 355.85 L906.81 356.9 L907.88 357.95 L908.95 358.99 L910.02 360.04 L911.09 361.08 L912.16 362.13 L913.24 363.17 L914.31 364.21 L915.39 365.24 L916.47 366.28 L917.55 367.31 L918.63 368.34 L919.72 369.37 L920.81 370.39 L921.9 371.41 L922.99 372.43 L924.09 373.44 L925.18 374.45 L926.29 375.46 L927.39 376.47 L928.5 377.46 L929.61 378.46 L930.73 379.45 L931.85 380.44 L932.97 381.42 L934.1 382.4 L935.23 383.37 L936.37 384.34 L937.51 385.3 L938.65 386.26 L939.8 387.21 L940.96 388.16 L942.12 389.1 L943.28 390.03 L944.45 390.96 L945.63 391.88 L946.81 392.8 L948 393.71 L949.19 394.61 L950.39 395.5 L951.6 396.39 L952.81 397.27 L954.03 398.15 L955.25 399.02 L956.48 399.88 L957.72 400.73 L958.97 401.57 L960.22 402.41 L961.48 403.23 L962.74 404.05 L964.02 404.86 L965.3 405.67 L966.59 406.46 L967.89 407.24 L969.19 408.02 L970.5 408.78 L971.82 409.54 L973.14 410.28 L974.47 411.01 L975.81 411.74 L977.15 412.45 L978.5 413.15 L979.85 413.83 L981.21 414.51 L982.58 415.17 L983.95 415.83 L985.33 416.47 L986.71 417.09 L988.1 417.7 L989.49 418.3 L990.89 418.89 L992.29 419.46 L993.7 420.02 L995.12 420.56 L996.53 421.09 L997.95 421.6 L999.38 422.1 L1000.81 422.58 L1002.24 423.04 L1003.68 423.49 L1005.12 423.92 L1006.57 424.34 L1008.02 424.74 L1009.47 425.12 L1010.93 425.49 L1012.39 425.83 L1013.85 426.16 L1015.31 426.47 L1016.78 426.77 L1018.25 427.04 L1019.73 427.29 L1021.2 427.53 L1022.68 427.74 L1024.16 427.94 L1025.64 428.11 L1027.13 428.27 L1028.61 428.4 L1030.1 428.52 L1031.59 428.62 L1033.08 428.69 L1034.57 428.75 L1036.07 428.79 L1037.56 428.81 L1039.05 428.81 L1040.54 428.79 L1042.04 428.76 L1043.53 428.7 L1045.02 428.63 L1046.52 428.54 L1048.01 428.43 L1049.5 428.31 L1050.99 428.16 L1052.48 428 L1053.96 427.82 L1055.45 427.63 L1056.93 427.42 L1058.41 427.19 L1059.89 426.95 L1061.37 426.69 L1062.84 426.41 L1064.31 426.12 L1065.78 425.81 L1067.25 425.48 L1068.71 425.14 L1070.17 424.79 L1071.62 424.42 L1073.07 424.04 L1074.52 423.64 L1075.96 423.22 L1077.39 422.79 L1078.83 422.35 L1080.25 421.89 L1081.68 421.42 L1083.09 420.94 L1084.5 420.44 L1085.91 419.93 L1087.31 419.4 L1088.7 418.87 L1090.09 418.31 L1091.48 417.75 L1092.86 417.18 L1094.23 416.59 L1095.6 415.99 L1096.96 415.38 L1098.32 414.76 L1099.68 414.12 L1101.03 413.48 L1102.37 412.83 L1103.71 412.16 L1105.05 411.49 L1106.38 410.8 L1107.71 410.11 L1109.03 409.41 L1110.35 408.69 L1111.66 407.97 L1112.97 407.24 L1114.28 406.5 L1115.58 405.76 L1116.88 405 L1118.18 404.24 L1119.47 403.47 L1120.75 402.69 L1122.04 401.91 L1123.32 401.12 L1124.6 400.32 L1125.87 399.52 L1127.14 398.71 L1128.41 397.9 L1129.67 397.08 L1130.94 396.25 L1132.2 395.42 L1133.45 394.59 L1134.71 393.75 L1135.96 392.9 L1137.21 392.05 L1138.45 391.2 L1139.69 390.35 L1140.94 389.49 L1142.17 388.63 L1143.41 387.76 L1144.65 386.89 L1145.88 386.02 L1147.11 385.15 L1148.34 384.28 L1149.56 383.4 L1150.79 382.53 L1152.01 381.65 L1153.24 380.77 L1154.46 379.88 L1155.68 379 L1156.89 378.12 L1158.11 377.23 L1159.33 376.34 L1160.54 375.46 L1161.76 374.57 L1162.97 373.68 L1164.18 372.79 L1165.39 371.9 L1166.61 371.01 L1167.82 370.12 L1169.03 369.23 L1170.24 368.34 L1171.45 367.45 L1172.66 366.56 L1173.87 365.67 L1175.08 364.78 L1176.29 363.9 L1177.5 363.01 L1178.71 362.12 L1179.92 361.24 L1181.13 360.35 L1182.34 359.47 L1183.55 358.58 L1184.77 357.7 L1185.98 356.82 L1187.2 355.94 L1188.41 355.07 L1189.63 354.19 L1190.85 353.32 L1192.07 352.45 L1193.29 351.58 L1194.51 350.71 L1195.74 349.85 L1196.96 348.99 L1198.19 348.13 L1199.42 347.27 L1200.65 346.42 L1201.88 345.57 L1203.12 344.72 L1204.36 343.87 L1205.6 343.03 L1206.84 342.19 L1208.08 341.36 L1209.33 340.53 L1210.58 339.7 L1211.83 338.87 L1213.09 338.05 L1214.34 337.24 L1215.6 336.42 L1216.86 335.61 L1218.13 334.81 L1219.4 334.01 L1220.66 333.21 L1221.94 332.42 L1223.21 331.63 L1224.49 330.84 L1225.77 330.06 L1227.05 329.28 L1228.33 328.51 L1229.62 327.74 L1230.91 326.98 L1232.2 326.22 L1233.5 325.46 L1234.8 324.71 L1236.1 323.97 L1237.4 323.22 L1238.7 322.49 L1240.01 321.76 L1241.32 321.03 L1242.63 320.3 L1243.95 319.59 L1245.26 318.87 L1246.58 318.16 L1247.91 317.46 L1249.23 316.76 L1250.56 316.07 L1251.89 315.38 L1253.22 314.7 L1254.55 314.02 L1255.89 313.35 L1257.23 312.68 L1258.57 312.02 L1259.92 311.36 L1261.27 310.71 L1262.62 310.06 L1263.97 309.42 L1265.32 308.79 L1266.68 308.16 L1268.04 307.54 L1269.4 306.92 L1270.77 306.31 L1272.13 305.7 L1273.5 305.1 L1274.88 304.5 L1276.25 303.92 L1277.63 303.33 L1279.01 302.76 L1280.39 302.19 L1281.77 301.62 L1283.16 301.06 L1284.55 300.51 L1285.94 299.97 L1287.34 299.43 L1288.73 298.89 L1290.13 298.37 L1291.54 297.85 L1292.94 297.33 L1294.35 296.83 L1295.76 296.32 L1297.17 295.83 L1298.58 295.34 L1300 294.86 L1301.42 294.39 L1302.84 293.92 L1304.26 293.46 L1305.69 293.01 L1307.12 292.56 L1308.55 292.12 L1309.99 291.69 L1311.42 291.27 L1312.86 290.85 L1314.3 290.44 L1315.75 290.03 L1317.19 289.64 L1318.64 289.25 L1320.09 288.87 L1321.55 288.49 L1323 288.13 L1324.46 287.77 L1325.92 287.42 L1327.39 287.07 L1328.85 286.74 L1330.32 286.41 L1331.79 286.09 L1333.27 285.77 L1334.74 285.47 L1336.22 285.17 L1337.7 284.88 L1339.19 284.6 L1340.67 284.33 L1342.16 284.06 L1343.65 283.81 L1345.14 283.56 L1346.63 283.32 L1348.12 283.08 L1349.62 282.86 L1351.11 282.64 L1352.61 282.43 L1354.11 282.23 L1355.61 282.04 L1357.11 281.86 L1358.62 281.68 L1360.12 281.51 L1361.62 281.36 L1363.13 281.21 L1364.63 281.06 L1366.14 280.93 L1367.64 280.8 L1369.15 280.69 L1370.66 280.58 L1372.16 280.48 L1373.67 280.39 L1375.17 280.31 L1376.68 280.23 L1378.19 280.17 L1379.69 280.11 L1381.2 280.06 L1382.7 280.02 L1384.2 279.99 L1385.7 279.97 L1387.21 279.96 L1388.71 279.96 L1390.21 279.96 L1391.7 279.98 L1393.2 280 L1394.7 280.03 L1396.19 280.07 L1397.68 280.12 L1399.17 280.18 L1400.66 280.25 L1402.15 280.32 L1403.64 280.41 L1405.12 280.5 L1406.6 280.6 L1408.09 280.71 L1409.57 280.83 L1411.04 280.96 L1412.52 281.1 L1414 281.24 L1415.47 281.39 L1416.94 281.55 L1418.42 281.72 L1419.89 281.89 L1421.36 282.07 L1422.82 282.26 L1424.29 282.46 L1425.76 282.66 L1427.22 282.87 L1428.68 283.09 L1430.14 283.32 L1431.61 283.55 L1433.06 283.79 L1434.52 284.04 L1435.98 284.29 L1437.44 284.55 L1438.89 284.82 L1440.35 285.09 L1441.8 285.37 L1443.25 285.65 L1444.7 285.94 L1446.15 286.24 L1447.6 286.55 L1449.05 286.85 L1450.49 287.17 L1451.94 287.49 L1453.39 287.82 L1454.83 288.15 L1456.27 288.49 L1457.72 288.83 L1459.16 289.18 L1460.6 289.53 L1462.04 289.89 L1463.48 290.25 L1464.92 290.62 L1466.36 290.99 L1467.8 291.37 L1469.23 291.75 L1470.67 292.14 L1472.1 292.53 L1473.54 292.93 L1474.97 293.33 L1476.41 293.73 L1477.84 294.14 L1479.27 294.55 L1480.71 294.97 L1482.14 295.39 L1483.57 295.81 L1485 296.24 L1486.43 296.67 L1487.86 297.11 L1489.29 297.54 L1490.72 297.99 L1492.15 298.43 L1493.58 298.88 L1495 299.33 L1496.43 299.78 L1497.86 300.24 L1499.29 300.7 L1500.71 301.16 L1502.14 301.63 L1503.57 302.1 L1504.99 302.57 L1506.42 303.04 L1507.84 303.52 L1509.27 303.99 L1510.69 304.47 L1512.12 304.96 L1513.54 305.44 L1514.96 305.93 L1516.39 306.42 L1517.81 306.91 L1519.23 307.4 L1520.66 307.9 L1522.08 308.4 L1523.5 308.89 L1524.93 309.39 L1526.35 309.9 L1527.77 310.4 L1529.19 310.9 L1530.61 311.41 L1532.04 311.92 L1533.46 312.43 L1534.88 312.94 L1536.3 313.45 L1537.72 313.96 L1539.15 314.47 L1540.57 314.99 L1541.99 315.5 L1543.41 316.02 L1544.83 316.53 L1546.25 317.05 L1547.67 317.57 L1549.09 318.08 L1550.52 318.6 L1551.94 319.12 L1553.36 319.64 L1554.78 320.16 L1556.2 320.68 L1557.62 321.2 L1559.04 321.72 L1560.47 322.23 L1561.89 322.75 L1563.31 323.27 L1564.73 323.79 L1566.15 324.31 L1567.58 324.83 L1569 325.34 L1570.42 325.86 L1571.84 326.38 L1573.27 326.89 L1574.69 327.41 L1576.11 327.92 L1577.54 328.43 L1578.96 328.94 L1580.38 329.45 L1581.81 329.96 L1583.23 330.47 L1584.66 330.98 L1586.08 331.48 L1587.51 331.99 L1588.93 332.49 L1590.36 332.99 L1591.78 333.49 L1593.21 333.99 L1594.64 334.49 L1596.06 334.98 L1597.49 335.47 L1598.92 335.96 L1600.34 336.45 L1601.77 336.94 L1603.2 337.42 L1604.63 337.9 L1606.06 338.38 L1607.49 338.86 L1608.92 339.34 L1610.35 339.81 L1611.78 340.28 L1613.21 340.75 L1614.64 341.21 L1616.08 341.67 L1617.51 342.13 L1618.94 342.59 L1620.38 343.04 L1621.81 343.49 L1623.24 343.93 L1624.68 344.38 L1626.12 344.82 L1627.55 345.25 L1628.99 345.69 L1630.43 346.12 L1631.86 346.54 L1633.3 346.97 L1634.74 347.39 L1636.18 347.8 L1637.62 348.21 L1639.06 348.62 L1640.5 349.02 L1641.95 349.42 L1643.39 349.82 L1644.83 350.21 L1646.28 350.59 L1647.72 350.98 L1649.17 351.35 L1650.61 351.73 L1652.06 352.1 L1653.51 352.46 L1654.96 352.82 L1656.4 353.18 L1657.85 353.53 L1659.31 353.87 L1660.76 354.21 L1662.21 354.55 L1663.66 354.88 L1665.11 355.2 L1666.57 355.52 L1668.02 355.84 L1669.48 356.15 L1670.94 356.45 L1672.39 356.75 L1673.85 357.04 L1675.31 357.33 L1676.77 357.61 L1678.23 357.89 L1679.7 358.15 L1681.16 358.42 L1682.62 358.68 L1684.09 358.93 L1685.55 359.17 L1687.02 359.41 L1688.49 359.65 L1689.95 359.87 L1691.42 360.09 L1692.89 360.31 L1694.37 360.51 L1695.84 360.71 L1697.31 360.91 L1698.78 361.1 L1700.26 361.28 L1701.74 361.45 L1703.21 361.62 L1704.69 361.78 L1706.17 361.93 L1707.65 362.07 L1709.13 362.21 L1710.62 362.34 L1712.1 362.46 L1713.58 362.58 L1715.07 362.69 L1716.56 362.79 L1718.05 362.88 L1719.54 362.97 L1721.03 363.04 L1722.52 363.11 L1724.01 363.18 L1725.5 363.23 L1727 363.28 L1728.5 363.31 L1729.99 363.35 L1731.49 363.37 L1732.99 363.39 L1734.49 363.4 L1735.99 363.4 L1737.49 363.39 L1738.99 363.38 L1740.5 363.36 L1742 363.34 L1743.51 363.31 L1745.01 363.27 L1746.52 363.23 L1748.02 363.18 L1749.53 363.12 L1751.04 363.06 L1752.54 362.99 L1754.05 362.92 L1755.56 362.84 L1757.07 362.76 L1758.58 362.67 L1760.09 362.57 L1761.6 362.47 L1763.11 362.37 L1764.62 362.26 L1766.13 362.14 L1767.64 362.02 L1769.15 361.9 L1770.66 361.77 L1772.17 361.63 L1773.68 361.5 L1775.19 361.35 L1776.7 361.21 L1778.21 361.06 L1779.71 360.9 L1781.22 360.75 L1782.73 360.59 L1784.24 360.42 L1785.75 360.25 L1787.26 360.08 L1788.76 359.91 L1790.27 359.73 L1791.77 359.55 L1793.28 359.36 L1794.78 359.18 L1796.29 358.99 L1797.79 358.8 L1799.29 358.6 L1800.8 358.41 L1802.3 358.21 L1803.8 358.01 L1805.3 357.8 L1806.8 357.6 L1808.29 357.39 L1809.79 357.18 L1811.29 356.97 L1812.78 356.76 L1814.27 356.55 L1815.77 356.33 L1817.26 356.12 L1818.75 355.9 L1820.23 355.69 L1821.72 355.47 L1823.21 355.25 L1824.69 355.03 L1826.18 354.81 L1827.66 354.59 L1829.14 354.37 L1830.62 354.15 L1832.09 353.93 L1833.57 353.71 L1835.04 353.49 L1836.52 353.27 L1837.99 353.05 L1839.46 352.83 L1840.92 352.61 L1842.39 352.39 L1843.85 352.17 L1845.31 351.96 L1846.77 351.74 L1848.23 351.53 L1849.69 351.31 L1851.14 351.1 L1852.59 350.89 L1854.04 350.68 L1855.49 350.48 L1856.93 350.27 L1858.37 350.07 L1859.82 349.87 L1861.25 349.67 L1862.69 349.47 L1864.12 349.28 L1865.55 349.08 L1866.98 348.89 L1868.41 348.71" fill="none" stroke="#9467bd" stroke-width="8.9" stroke-linejoin="round" stroke-linecap="butt"/>
<line x1="219" y1="1192.9" x2="274" y2="1192.9" stroke="#9467bd" stroke-width="9.9"/>
<g><polygon points="220.8,1204.91 209.69,1182.69 231.91,1182.69" fill="#9467bd" stroke="#9467bd" stroke-width="5.56" stroke-linejoin="miter"/><polygon points="356.38,961.41 345.27,939.19 367.49,939.19" fill="#9467bd" stroke="#9467bd" stroke-width="5.56" stroke-linejoin="miter"/><polygon points="492.97,416.41 481.86,394.19 504.08,394.19" fill="#9467bd" stroke="#9467bd" stroke-width="5.56" stroke-linejoin="miter"/><polygon points="629.55,181.31 618.44,159.09 640.66,159.09" fill="#9467bd" stroke="#9467bd" stroke-width="5.56" stroke-linejoin="miter"/><polygon points="766.13,212.21 755.02,189.99 777.24,189.99" fill="#9467bd" stroke="#9467bd" stroke-width="5.56" stroke-linejoin="miter"/><polygon points="902.71,363.51 891.6,341.29 913.82,341.29" fill="#9467bd" stroke="#9467bd" stroke-width="5.56" stroke-linejoin="miter"/><polygon points="1039.3,440.11 1028.19,417.89 1050.41,417.89" fill="#9467bd" stroke="#9467bd" stroke-width="5.56" stroke-linejoin="miter"/><polygon points="1175.88,375.41 1164.77,353.19 1186.99,353.19" fill="#9467bd" stroke="#9467bd" stroke-width="5.56" stroke-linejoin="miter"/><polygon points="1312.46,302.41 1301.35,280.19 1323.57,280.19" fill="#9467bd" stroke="#9467bd" stroke-width="5.56" stroke-linejoin="miter"/><polygon points="1449.05,298.21 1437.94,275.99 1460.16,275.99" fill="#9467bd" stroke="#9467bd" stroke-width="5.56" stroke-linejoin="miter"/><polygon points="1585.63,342.31 1574.52,320.09 1596.74,320.09" fill="#9467bd" stroke="#9467bd" stroke-width="5.56" stroke-linejoin="miter"/><polygon points="1722.21,374.11 1711.1,351.89 1733.32,351.89" fill="#9467bd" stroke="#9467bd" stroke-width="5.56" stroke-linejoin="miter"/><polygon points="1858.8,361.01 1847.69,338.79 1869.91,338.79" fill="#9467bd" stroke="#9467bd" stroke-width="5.56" stroke-linejoin="miter"/></g>
<path d="M304.79 1190.19 L304.94 1189.99 L305.98 1188.29 L306.97 1186.55 L307.95 1184.81 L308.94 1183.07 L309.92 1181.33 L310.91 1179.59 L312.09 1177.97 L313.27 1176.35 L314.44 1174.74 L315.62 1173.12 L316.06 1172.52 M320.63 1166.25 L320.78 1166.05 L321.95 1164.44 L322.97 1162.71 L323.94 1160.97 L324.91 1159.22 L325.88 1157.47 L326.85 1155.72 L327.82 1153.97 L328.79 1152.22 L329.57 1150.39 L330.14 1148.48 L330.36 1147.76 M332.57 1140.33 L332.64 1140.09 L333.21 1138.17 L333.73 1136.24 L334.19 1134.3 L334.65 1132.35 L335.11 1130.4 L335.58 1128.46 L336.04 1126.51 L336.5 1124.57 L336.96 1122.62 L337.42 1120.68 L337.6 1119.95 M339.46 1112.43 L339.54 1112.19 L340.17 1110.29 L340.81 1108.4 L341.45 1106.5 L342.08 1104.6 L342.72 1102.71 L343.35 1100.81 L343.99 1098.91 L344.63 1097.02 L345.21 1095.11 L345.75 1093.18 L345.96 1092.46 M348.07 1085 L348.14 1084.76 L348.68 1082.84 L349.22 1080.91 L349.77 1078.99 L350.31 1077.06 L350.82 1075.13 L351.31 1073.19 L351.79 1071.25 L352.28 1069.31 L352.77 1067.37 L353.25 1065.43 L353.44 1064.7 M355.34 1057.11 L355.39 1056.94 L355.87 1055 L356.34 1053.06 L356.77 1051.11 L357.2 1049.15 L357.63 1047.2 L358.06 1045.25 L358.49 1043.29 L358.92 1041.34 L359.36 1039.39 L359.79 1037.44 L359.97 1036.62 M361.65 1028.97 L361.67 1028.89 L362.2 1026.96 L362.78 1025.05 L363.36 1023.14 L363.94 1021.22 L364.52 1019.31 L365.1 1017.39 L365.68 1015.48 L366.26 1013.56 L366.83 1011.65 L367.4 1009.73 L367.66 1008.85 M369.9 1001.35 L369.97 1001.11 L370.49 999.17 L370.93 997.22 L371.37 995.27 L371.82 993.32 L372.26 991.37 L372.7 989.42 L373.14 987.47 L373.59 985.52 L374.03 983.57 L374.47 981.62 L374.64 980.89 M376.26 973.74 L376.3 973.58 L376.74 971.63 L377.18 969.68 L377.63 967.72 L378.07 965.77 L378.51 963.82 L378.95 961.87 L379.4 959.92 L379.84 957.97 L380.28 956.02 L380.73 954.07 L380.91 953.26 M382.53 946.11 L382.55 946.03 L382.99 944.08 L383.44 942.13 L383.88 940.18 L384.32 938.23 L384.77 936.27 L385.21 934.32 L385.65 932.37 L386.09 930.42 L386.54 928.47 L386.98 926.52 L387.18 925.63 M388.81 918.48 L388.86 918.23 L389.3 916.28 L389.75 914.33 L390.19 912.38 L390.63 910.43 L391.07 908.48 L391.52 906.53 L391.96 904.58 L392.4 902.63 L392.85 900.68 L393.23 898.72 L393.36 897.98 M394.67 890.72 L394.69 890.6 L395.05 888.63 L395.4 886.66 L395.76 884.69 L396.09 882.72 L396.42 880.75 L396.74 878.77 L397.06 876.8 L397.38 874.83 L397.71 872.85 L398.03 870.88 L398.17 870.02 M399.36 862.74 L399.4 862.49 L399.66 860.51 L399.93 858.53 L400.19 856.54 L400.45 854.56 L400.72 852.58 L400.98 850.6 L401.24 848.61 L401.51 846.63 L401.77 844.65 L402.03 842.66 L402.13 841.92 M403.69 834.08 L403.74 833.83 L404.13 831.87 L404.53 829.91 L404.93 827.95 L405.33 825.99 L405.72 824.03 L406.12 822.07 L406.52 820.11 L406.84 818.14 L407.17 816.16 L407.49 814.19 L407.61 813.45 M408.92 805.56 L408.96 805.31 L409.28 803.34 L409.61 801.36 L409.94 799.39 L410.34 797.43 L410.77 795.48 L411.19 793.52 L411.61 791.57 L412.04 789.61 L412.46 787.66 L412.89 785.7 L413.05 784.97 M414.8 777.17 L414.86 776.92 L415.34 774.98 L415.82 773.04 L416.3 771.1 L416.78 769.16 L417.27 767.22 L417.75 765.28 L418.23 763.33 L418.71 761.39 L419.19 759.45 L419.59 757.49 L419.74 756.76 M421.31 749 L421.32 748.92 L421.72 746.96 L422.12 745 L422.52 743.04 L422.91 741.08 L423.31 739.12 L423.71 737.16 L424.11 735.2 L424.5 733.24 L424.9 731.28 L425.3 729.32 L425.48 728.42 M427.05 720.66 L427.08 720.49 L427.48 718.53 L427.88 716.57 L428.28 714.61 L428.67 712.65 L429.07 710.69 L429.47 708.73 L429.86 706.77 L430.26 704.81 L430.66 702.85 L431.06 700.89 L431.22 700.08 M432.79 692.32 L432.84 692.07 L433.24 690.11 L433.64 688.15 L434.04 686.19 L434.43 684.23 L434.82 682.27 L435.21 680.31 L435.6 678.35 L435.99 676.38 L436.38 674.42 L436.76 672.46 L436.91 671.72 M438.37 664.37 L438.41 664.12 L438.8 662.16 L439.19 660.2 L439.58 658.24 L439.97 656.27 L440.39 654.32 L440.83 652.37 L441.27 650.42 L441.71 648.47 L442.15 646.52 L442.6 644.57 L442.76 643.83 M444.42 636.52 L444.47 636.27 L444.91 634.32 L445.35 632.37 L445.79 630.42 L446.23 628.47 L446.69 626.53 L447.18 624.59 L447.67 622.65 L448.15 620.71 L448.64 618.77 L449.13 616.83 L449.31 616.1 M451.14 608.82 L451.2 608.58 L451.68 606.64 L452.17 604.7 L452.66 602.76 L453.14 600.82 L453.63 598.88 L454.11 596.94 L454.59 595 L455.07 593.06 L455.55 591.12 L456.03 589.17 L456.21 588.45 M458.05 581 L458.07 580.92 L458.55 578.98 L459.03 577.04 L459.51 575.1 L459.99 573.16 L460.47 571.22 L460.96 569.28 L461.44 567.34 L461.93 565.4 L462.42 563.46 L462.9 561.52 L463.13 560.63 M464.99 553.19 L465.03 553.03 L465.52 551.09 L466.01 549.15 L466.49 547.21 L466.98 545.27 L467.47 543.33 L467.95 541.39 L468.44 539.45 L468.93 537.51 L469.41 535.57 L469.9 533.63 L470.1 532.82 M471.97 525.39 L472.03 525.14 L472.52 523.2 L473 521.26 L473.49 519.32 L473.98 517.38 L474.46 515.44 L475 513.52 L475.63 511.62 L476.27 509.73 L476.91 507.83 L477.55 505.94 L477.79 505.23 M480.16 498.2 L480.18 498.12 L480.82 496.22 L481.46 494.33 L482.1 492.43 L482.74 490.54 L483.38 488.64 L484.01 486.75 L484.64 484.85 L485.26 482.95 L485.88 481.04 L486.5 479.14 L486.78 478.27 M489.08 471.22 L489.13 471.06 L489.75 469.16 L490.36 467.25 L490.98 465.35 L491.6 463.45 L492.22 461.55 L492.84 459.65 L493.46 457.74 L494.22 455.9 L495.02 454.06 L495.82 452.23 L496.15 451.47 M499.13 444.68 L499.23 444.45 L500.03 442.61 L500.84 440.78 L501.64 438.95 L502.44 437.12 L503.24 435.29 L504.05 433.46 L504.85 431.62 L505.66 429.79 L506.46 427.96 L507.27 426.13 L507.57 425.45 M510.99 417.67 L511.09 417.44 L511.9 415.61 L512.7 413.77 L513.51 411.94 L514.3 410.11 L515.05 408.25 L515.8 406.4 L516.56 404.55 L517.31 402.69 L518.06 400.84 L518.81 398.99 L519.09 398.29 M522.29 390.42 L522.38 390.18 L523.14 388.33 L523.89 386.48 L524.64 384.63 L525.39 382.77 L526.14 380.92 L526.9 379.07 L527.65 377.21 L528.4 375.36 L529.15 373.51 L530.23 371.9 L530.82 371.43 M537.47 366.14 L537.67 365.99 L539.23 364.74 L540.79 363.49 L542.36 362.24 L543.92 361 L545.48 359.75 L547.05 358.5 L548.67 357.34 L550.31 356.19 L551.95 355.04 L553.58 353.89 L554.2 353.46 M560.68 348.91 L560.74 348.86 L562.25 347.56 L563.67 346.15 L565.09 344.74 L566.51 343.33 L567.93 341.92 L569.35 340.52 L570.77 339.11 L572.19 337.7 L573.66 336.34 L575.16 335.01 L575.84 334.41 M581.77 329.16 L581.89 329.04 L583.39 327.72 L584.89 326.39 L586.38 325.07 L587.89 323.75 L589.42 322.46 L590.96 321.18 L592.49 319.9 L594.03 318.62 L595.56 317.33 L597.29 316.4 L598.08 316.11 M605.51 313.4 L605.76 313.39 L607.76 313.36 L609.76 313.33 L611.76 313.31 L613.76 313.28 L615.76 313.25 L617.76 313.22 L619.76 313.19 L621.76 313.16 L623.76 313.13 L625.76 313.1 L626.51 313.1 M634.51 313.1 L634.76 313.1 L636.76 313.1 L638.76 313.1 L640.76 313.1 L642.76 313.1 L644.76 313.1 L646.76 313.11 L648.76 313.14 L650.76 313.16 L652.75 313.19 L654.75 313.22 L655.5 313.23 M663.5 313.35 L663.75 313.35 L665.75 313.38 L667.75 313.42 L669.75 313.46 L671.75 313.51 L673.75 313.56 L675.75 313.61 L677.75 313.65 L679.75 313.7 L681.75 313.75 L683.75 313.8 L684.47 313.99 M690.62 316.09 L690.85 316.18 L692.71 316.92 L694.57 317.66 L696.43 318.4 L698.29 319.14 L700.14 319.88 L701.85 320.92 L703.55 321.97 L705.25 323.02 L706.95 324.08 L708.65 325.13 L709.29 325.52 M715.6 329.57 L715.81 329.71 L717.48 330.81 L719.15 331.91 L720.82 333.01 L722.49 334.11 L724.16 335.21 L725.82 336.34 L727.47 337.47 L729.12 338.59 L730.77 339.72 L732.42 340.85 L733.04 341.28 M738.76 345.3 L738.97 345.45 L740.59 346.62 L742.21 347.79 L743.83 348.96 L745.45 350.14 L747.07 351.31 L748.67 352.51 L750.19 353.8 L751.72 355.09 L753.25 356.39 L754.77 357.68 L755.35 358.16 M761.67 363.83 L761.85 364.01 L763.3 365.39 L764.75 366.77 L766.19 368.15 L767.64 369.53 L769.09 370.91 L770.57 372.25 L772.06 373.59 L773.55 374.92 L775.04 376.25 L776.53 377.59 L777.09 378.09 M780.26 380.92 L780.45 381.09 L781.94 382.42 L783.43 383.75 L784.92 385.08 L786.41 386.42 L787.9 387.75 L789.4 389.07 L791.05 390.2 L792.71 391.33 L794.36 392.45 L796.01 393.58 L796.63 394 M804.06 399.08 L804.27 399.22 L805.92 400.35 L807.57 401.48 L809.22 402.6 L810.87 403.73 L812.47 404.93 L813.96 406.26 L815.45 407.6 L816.94 408.93 L818.43 410.26 L819.92 411.6 L820.48 412.1 M827.09 417.44 L827.28 417.59 L828.87 418.81 L830.46 420.03 L832.05 421.24 L833.63 422.46 L835.22 423.68 L836.81 424.89 L838.39 426.11 L839.98 427.33 L841.57 428.55 L843.16 429.76 L843.75 430.22 M849.22 434.97 L849.41 435.13 L850.9 436.47 L852.39 437.8 L853.88 439.13 L855.37 440.47 L856.87 441.8 L858.36 443.13 L859.85 444.47 L861.34 445.8 L862.83 447.13 L864.32 448.47 L864.88 448.97 M873.14 453.02 L873.37 453.12 L875.2 453.93 L877.02 454.75 L878.85 455.56 L880.68 456.38 L882.5 457.19 L884.33 458 L886.16 458.82 L887.99 459.63 L889.81 460.45 L891.64 461.26 L892.32 461.57 M899.91 464.09 L900.15 464.17 L902.05 464.8 L903.95 465.43 L905.84 466.06 L907.74 466.7 L909.64 467.33 L911.54 467.96 L913.44 468.59 L915.33 469.22 L917.23 469.85 L919.13 470.48 L919.83 470.75 M927.29 473.65 L927.52 473.74 L929.38 474.47 L931.25 475.19 L933.11 475.92 L934.97 476.64 L936.84 477.37 L938.7 478.1 L940.56 478.82 L942.43 479.55 L944.29 480.27 L946.17 480.94 L946.91 481.03 M954.85 482.08 L955.09 482.12 L957.08 482.38 L959.06 482.64 L961.04 482.9 L963.02 483.17 L965.01 483.43 L966.98 483.74 L968.96 484.05 L970.93 484.36 L972.91 484.67 L974.89 484.98 L975.52 485.37 M981.43 489.56 L981.64 489.7 L983.47 489.77 L985.41 489.27 L987.34 488.77 L989.28 488.27 L991.21 487.77 L993.15 487.27 L995.09 486.76 L997.02 486.26 L998.96 485.76 L1000.89 485.26 L1001.62 485.07 M1009.08 482.99 L1009.33 482.92 L1011.25 482.38 L1013.18 481.84 L1015.1 481.3 L1017.03 480.76 L1018.95 480.22 L1020.9 479.78 L1022.88 479.49 L1024.86 479.2 L1026.84 478.91 L1028.82 478.62 L1029.56 478.51 M1037.72 476.64 L1037.84 476.61 L1039.79 476.16 L1041.74 475.72 L1043.69 475.27 L1045.64 474.82 L1047.59 474.38 L1049.54 473.93 L1051.49 473.48 L1053.44 473.04 L1055.43 472.86 L1057.42 472.7 L1058.3 472.63 M1066.65 471.98 L1066.89 471.96 L1068.89 471.8 L1070.67 470.9 L1072.46 469.99 L1074.24 469.09 L1076.02 468.18 L1077.8 467.27 L1079.59 466.37 L1081.37 465.46 L1083.15 464.55 L1084.93 463.65 L1085.6 463.31 M1092.65 460.47 L1092.79 460.42 L1094.66 459.7 L1096.52 458.97 L1098.38 458.25 L1100.25 457.53 L1102.11 456.8 L1103.98 456.08 L1105.83 455.33 L1107.68 454.57 L1109.53 453.81 L1111.38 453.05 L1112.17 452.73 M1119.2 449.84 L1119.25 449.82 L1121.09 449.06 L1122.94 448.3 L1124.78 447.5 L1126.61 446.71 L1128.45 445.91 L1130.29 445.12 L1132.12 444.33 L1133.96 443.53 L1135.79 442.74 L1137.63 441.95 L1138.5 441.57 M1145.48 438.56 L1145.66 438.48 L1147.52 437.73 L1149.38 437 L1151.24 436.28 L1153.11 435.55 L1154.97 434.82 L1156.83 434.1 L1158.73 433.47 L1160.65 432.91 L1162.57 432.35 L1164.49 431.79 L1165.26 431.56 M1172.55 429.43 L1172.65 429.4 L1174.57 428.84 L1176.49 428.28 L1178.41 427.72 L1180.33 427.16 L1182.25 426.6 L1184.17 426.04 L1186.09 425.48 L1188.05 425.11 L1190.03 424.83 L1192.01 424.55 L1192.9 424.42 M1200.43 423.36 L1200.67 423.32 L1202.65 423.04 L1204.63 422.76 L1206.61 422.48 L1208.59 422.2 L1210.57 421.89 L1212.53 421.51 L1214.5 421.13 L1216.46 420.76 L1218.43 420.38 L1220.39 420 L1221.13 419.86 M1228.98 418.35 L1229.23 418.3 L1231.19 417.92 L1233.15 417.54 L1235.12 417.17 L1237.08 416.79 L1239.05 416.41 L1241.02 416.12 L1243 415.82 L1244.98 415.53 L1246.96 415.24 L1248.94 414.95 L1249.68 414.84 M1257.35 413.7 L1257.59 413.67 L1259.57 413.37 L1261.55 413.08 L1263.53 412.79 L1265.51 412.5 L1267.49 412.21 L1269.46 411.86 L1271.42 411.48 L1273.38 411.1 L1275.35 410.72 L1277.31 410.34 L1278.05 410.2 M1285.7 409.55 L1285.95 409.57 L1287.94 409.73 L1289.94 409.89 L1291.93 410.06 L1293.92 410.22 L1295.92 410.39 L1297.91 410.52 L1299.91 410.57 L1301.91 410.63 L1303.91 410.68 L1305.91 410.74 L1306.66 410.76 M1313.91 410.96 L1314.16 410.96 L1316.16 411.02 L1318.15 411.07 L1320.15 411.13 L1322.15 411.18 L1324.15 411.24 L1326.15 411.29 L1328.15 411.3 L1330.15 411.3 L1332.15 411.3 L1334.15 411.3 L1334.9 411.3 M1342.15 411.43 L1342.4 411.44 L1344.4 411.48 L1346.4 411.51 L1348.4 411.55 L1350.4 411.59 L1352.4 411.62 L1354.4 411.66 L1356.4 411.7 L1358.4 411.74 L1360.4 411.77 L1362.4 411.81 L1363.15 411.82 M1371.4 411.98 L1371.65 411.98 L1373.64 412.11 L1375.63 412.34 L1377.61 412.57 L1379.6 412.8 L1381.59 413.03 L1383.57 413.27 L1385.56 413.5 L1387.54 413.73 L1389.53 413.96 L1391.52 414.19 L1392.26 414.28 M1399.72 415.12 L1399.96 415.15 L1401.95 415.37 L1403.94 415.6 L1405.93 415.82 L1407.91 416.05 L1409.9 416.28 L1411.89 416.5 L1413.87 416.73 L1415.86 416.95 L1417.85 417.18 L1419.84 417.4 L1420.58 417.49 M1428.02 418.45 L1428.27 418.49 L1430.25 418.74 L1432.23 419 L1434.22 419.26 L1436.2 419.52 L1438.18 419.78 L1440.17 420.04 L1442.15 420.29 L1444.13 420.55 L1446.12 420.81 L1448.1 421.07 L1448.84 421.17 M1456.51 422.32 L1456.75 422.36 L1458.73 422.66 L1460.71 422.96 L1462.69 423.26 L1464.66 423.56 L1466.64 423.86 L1468.62 424.16 L1470.6 424.45 L1472.57 424.75 L1474.55 425.05 L1476.53 425.35 L1477.27 425.47 M1484.67 426.69 L1484.92 426.73 L1486.89 427.06 L1488.86 427.39 L1490.83 427.71 L1492.81 428.04 L1494.78 428.37 L1496.75 428.7 L1498.73 429.03 L1500.7 429.35 L1502.67 429.68 L1504.65 430.01 L1505.39 430.13 M1512.99 431.6 L1513.24 431.65 L1515.2 432.03 L1517.17 432.42 L1519.13 432.8 L1521.09 433.18 L1523.05 433.56 L1525.02 433.95 L1526.98 434.33 L1528.94 434.71 L1530.91 435.09 L1532.87 435.48 L1533.61 435.63 M1541.62 437.58 L1541.86 437.64 L1543.81 438.11 L1545.75 438.59 L1547.69 439.06 L1549.64 439.53 L1551.58 440.01 L1553.52 440.48 L1555.46 440.96 L1557.41 441.43 L1559.35 441.9 L1561.29 442.38 L1561.78 442.5" fill="none" stroke="#1f77b4" stroke-width="6" stroke-linejoin="round"/>
<g fill="#000"><polygon points="216.5,1181.3 222.5,1187 228.5,1181.3 234.6,1187.4 228.9,1193.4 234.6,1199.4 228.5,1205.5 222.5,1199.8 216.5,1205.5 210.4,1199.4 216.1,1193.4 210.4,1187.4"/><polygon points="265.3,1173 271.3,1178.7 277.3,1173 283.4,1179.1 277.7,1185.1 283.4,1191.1 277.3,1197.2 271.3,1191.5 265.3,1197.2 259.2,1191.1 264.9,1185.1 259.2,1179.1"/><polygon points="324,1107.1 330,1112.8 336,1107.1 342.1,1113.2 336.4,1119.2 342.1,1125.2 336,1131.3 330,1125.6 324,1131.3 317.9,1125.2 323.6,1119.2 317.9,1113.2"/><polygon points="344.9,1027.8 350.9,1033.5 356.9,1027.8 363,1033.9 357.3,1039.9 363,1045.9 356.9,1052 350.9,1046.3 344.9,1052 338.8,1045.9 344.5,1039.9 338.8,1033.9"/><polygon points="377.4,923.7 383.4,929.4 389.4,923.7 395.5,929.8 389.8,935.8 395.5,941.8 389.4,947.9 383.4,942.2 377.4,947.9 371.3,941.8 377,935.8 371.3,929.8"/><polygon points="401.2,821.8 407.2,827.5 413.2,821.8 419.3,827.9 413.6,833.9 419.3,839.9 413.2,846 407.2,840.3 401.2,846 395.1,839.9 400.8,833.9 395.1,827.9"/><polygon points="431.2,723.8 437.2,729.5 443.2,723.8 449.3,729.9 443.6,735.9 449.3,741.9 443.2,748 437.2,742.3 431.2,748 425.1,741.9 430.8,735.9 425.1,729.9"/><polygon points="460,596.9 466,602.6 472,596.9 478.1,603 472.4,609 478.1,615 472,621.1 466,615.4 460,621.1 453.9,615 459.6,609 453.9,603"/><polygon points="484.3,501.4 490.3,507.1 496.3,501.4 502.4,507.5 496.7,513.5 502.4,519.5 496.3,525.6 490.3,519.9 484.3,525.6 478.2,519.5 483.9,513.5 478.2,507.5"/><polygon points="516.5,380.8 522.5,386.5 528.5,380.8 534.6,386.9 528.9,392.9 534.6,398.9 528.5,405 522.5,399.3 516.5,405 510.4,398.9 516.1,392.9 510.4,386.9"/><polygon points="543.1,292.7 549.1,298.4 555.1,292.7 561.2,298.8 555.5,304.8 561.2,310.8 555.1,316.9 549.1,311.2 543.1,316.9 537,310.8 542.7,304.8 537,298.8"/><polygon points="564.7,196.8 570.7,202.5 576.7,196.8 582.8,202.9 577.1,208.9 582.8,214.9 576.7,221 570.7,215.3 564.7,221 558.6,214.9 564.3,208.9 558.6,202.9"/><polygon points="594,199.7 600,205.4 606,199.7 612.1,205.8 606.4,211.8 612.1,217.8 606,223.9 600,218.2 594,223.9 587.9,217.8 593.6,211.8 587.9,205.8"/><polygon points="623.7,202.7 629.7,208.4 635.7,202.7 641.8,208.8 636.1,214.8 641.8,220.8 635.7,226.9 629.7,221.2 623.7,226.9 617.6,220.8 623.3,214.8 617.6,208.8"/><polygon points="650.1,306.9 656.1,312.6 662.1,306.9 668.2,313 662.5,319 668.2,325 662.1,331.1 656.1,325.4 650.1,331.1 644,325 649.7,319 644,313"/><polygon points="679.8,402.3 685.8,408 691.8,402.3 697.9,408.4 692.2,414.4 697.9,420.4 691.8,426.5 685.8,420.8 679.8,426.5 673.7,420.4 679.4,414.4 673.7,408.4"/><polygon points="701,383.7 707,389.4 713,383.7 719.1,389.8 713.4,395.8 719.1,401.8 713,407.9 707,402.2 701,407.9 694.9,401.8 700.6,395.8 694.9,389.8"/><polygon points="730.8,391.5 736.8,397.2 742.8,391.5 748.9,397.6 743.2,403.6 748.9,409.6 742.8,415.7 736.8,410 730.8,415.7 724.7,409.6 730.4,403.6 724.7,397.6"/><polygon points="755,416.4 761,422.1 767,416.4 773.1,422.5 767.4,428.5 773.1,434.5 767,440.6 761,434.9 755,440.6 748.9,434.5 754.6,428.5 748.9,422.5"/><polygon points="784.1,474 790.1,479.7 796.1,474 802.2,480.1 796.5,486.1 802.2,492.1 796.1,498.2 790.1,492.5 784.1,498.2 778,492.1 783.7,486.1 778,480.1"/><polygon points="810.7,446.5 816.7,452.2 822.7,446.5 828.8,452.6 823.1,458.6 828.8,464.6 822.7,470.7 816.7,465 810.7,470.7 804.6,464.6 810.3,458.6 804.6,452.6"/><polygon points="837.7,465.7 843.7,471.4 849.7,465.7 855.8,471.8 850.1,477.8 855.8,483.8 849.7,489.9 843.7,484.2 837.7,489.9 831.6,483.8 837.3,477.8 831.6,471.8"/><polygon points="866.8,463.2 872.8,468.9 878.8,463.2 884.9,469.3 879.2,475.3 884.9,481.3 878.8,487.4 872.8,481.7 866.8,487.4 860.7,481.3 866.4,475.3 860.7,469.3"/><polygon points="897,451.7 903,457.4 909,451.7 915.1,457.8 909.4,463.8 915.1,469.8 909,475.9 903,470.2 897,475.9 890.9,469.8 896.6,463.8 890.9,457.8"/><polygon points="917.8,470.9 923.8,476.6 929.8,470.9 935.9,477 930.2,483 935.9,489 929.8,495.1 923.8,489.4 917.8,495.1 911.7,489 917.4,483 911.7,477"/><polygon points="950,451.7 956,457.4 962,451.7 968.1,457.8 962.4,463.8 968.1,469.8 962,475.9 956,470.2 950,475.9 943.9,469.8 949.6,463.8 943.9,457.8"/><polygon points="974.3,443.4 980.3,449.1 986.3,443.4 992.4,449.5 986.7,455.5 992.4,461.5 986.3,467.6 980.3,461.9 974.3,467.6 968.2,461.5 973.9,455.5 968.2,449.5"/><polygon points="993.4,454.6 999.4,460.3 1005.4,454.6 1011.5,460.7 1005.8,466.7 1011.5,472.7 1005.4,478.8 999.4,473.1 993.4,478.8 987.3,472.7 993,466.7 987.3,460.7"/><polygon points="1009.2,452.2 1015.2,457.9 1021.2,452.2 1027.3,458.3 1021.6,464.3 1027.3,470.3 1021.2,476.4 1015.2,470.7 1009.2,476.4 1003.1,470.3 1008.8,464.3 1003.1,458.3"/><polygon points="1033.1,468.9 1039.1,474.6 1045.1,468.9 1051.2,475 1045.5,481 1051.2,487 1045.1,493.1 1039.1,487.4 1033.1,493.1 1027,487 1032.7,481 1027,475"/><polygon points="1065.1,414 1071.1,419.7 1077.1,414 1083.2,420.1 1077.5,426.1 1083.2,432.1 1077.1,438.2 1071.1,432.5 1065.1,438.2 1059,432.1 1064.7,426.1 1059,420.1"/><polygon points="1086.9,443.7 1092.9,449.4 1098.9,443.7 1105,449.8 1099.3,455.8 1105,461.8 1098.9,467.9 1092.9,462.2 1086.9,467.9 1080.8,461.8 1086.5,455.8 1080.8,449.8"/><polygon points="1108.1,435.4 1114.1,441.1 1120.1,435.4 1126.2,441.5 1120.5,447.5 1126.2,453.5 1120.1,459.6 1114.1,453.9 1108.1,459.6 1102,453.5 1107.7,447.5 1102,441.5"/><polygon points="1140.3,427.1 1146.3,432.8 1152.3,427.1 1158.4,433.2 1152.7,439.2 1158.4,445.2 1152.3,451.3 1146.3,445.6 1140.3,451.3 1134.2,445.2 1139.9,439.2 1134.2,433.2"/><polygon points="1166.9,416.3 1172.9,422 1178.9,416.3 1185,422.4 1179.3,428.4 1185,434.4 1178.9,440.5 1172.9,434.8 1166.9,440.5 1160.8,434.4 1166.5,428.4 1160.8,422.4"/><polygon points="1191.3,396.5 1197.3,402.2 1203.3,396.5 1209.4,402.6 1203.7,408.6 1209.4,414.6 1203.3,420.7 1197.3,415 1191.3,420.7 1185.2,414.6 1190.9,408.6 1185.2,402.6"/><polygon points="1221,418.8 1227,424.5 1233,418.8 1239.1,424.9 1233.4,430.9 1239.1,436.9 1233,443 1227,437.3 1221,443 1214.9,436.9 1220.6,430.9 1214.9,424.9"/><polygon points="1252.6,432.7 1258.6,438.4 1264.6,432.7 1270.7,438.8 1265,444.8 1270.7,450.8 1264.6,456.9 1258.6,451.2 1252.6,456.9 1246.5,450.8 1252.2,444.8 1246.5,438.8"/><polygon points="1274.6,457.9 1280.6,463.6 1286.6,457.9 1292.7,464 1287,470 1292.7,476 1286.6,482.1 1280.6,476.4 1274.6,482.1 1268.5,476 1274.2,470 1268.5,464"/><polygon points="1304.1,433.2 1310.1,438.9 1316.1,433.2 1322.2,439.3 1316.5,445.3 1322.2,451.3 1316.1,457.4 1310.1,451.7 1304.1,457.4 1298,451.3 1303.7,445.3 1298,439.3"/><polygon points="1330.5,410.9 1336.5,416.6 1342.5,410.9 1348.6,417 1342.9,423 1348.6,429 1342.5,435.1 1336.5,429.4 1330.5,435.1 1324.4,429 1330.1,423 1324.4,417"/><polygon points="1357.2,402.6 1363.2,408.3 1369.2,402.6 1375.3,408.7 1369.6,414.7 1375.3,420.7 1369.2,426.8 1363.2,421.1 1357.2,426.8 1351.1,420.7 1356.8,414.7 1351.1,408.7"/><polygon points="1392.1,446.6 1398.1,452.3 1404.1,446.6 1410.2,452.7 1404.5,458.7 1410.2,464.7 1404.1,470.8 1398.1,465.1 1392.1,470.8 1386,464.7 1391.7,458.7 1386,452.7"/><polygon points="1413.7,454.9 1419.7,460.6 1425.7,454.9 1431.8,461 1426.1,467 1431.8,473 1425.7,479.1 1419.7,473.4 1413.7,479.1 1407.6,473 1413.3,467 1407.6,461"/><polygon points="1448.2,474 1454.2,479.7 1460.2,474 1466.3,480.1 1460.6,486.1 1466.3,492.1 1460.2,498.2 1454.2,492.5 1448.2,498.2 1442.1,492.1 1447.8,486.1 1442.1,480.1"/><polygon points="1475,451.8 1481,457.5 1487,451.8 1493.1,457.9 1487.4,463.9 1493.1,469.9 1487,476 1481,470.3 1475,476 1468.9,469.9 1474.6,463.9 1468.9,457.9"/></g>
</g>
<rect x="222.5" y="101.5" width="1639" height="1125" fill="none" stroke="#000" stroke-width="5"/>
<g stroke="#000" stroke-width="5.5">
<line x1="222.5" y1="1226.5" x2="222.5" y2="1246"/>
<line x1="495.67" y1="1226.5" x2="495.67" y2="1246"/>
<line x1="768.83" y1="1226.5" x2="768.83" y2="1246"/>
<line x1="1042" y1="1226.5" x2="1042" y2="1246"/>
<line x1="1315.17" y1="1226.5" x2="1315.17" y2="1246"/>
<line x1="1588.33" y1="1226.5" x2="1588.33" y2="1246"/>
<line x1="1861.5" y1="1226.5" x2="1861.5" y2="1246"/>
<line x1="203" y1="1193.5" x2="222.5" y2="1193.5"/>
<line x1="203" y1="1028.08" x2="222.5" y2="1028.08"/>
<line x1="203" y1="862.67" x2="222.5" y2="862.67"/>
<line x1="203" y1="697.25" x2="222.5" y2="697.25"/>
<line x1="203" y1="531.83" x2="222.5" y2="531.83"/>
<line x1="203" y1="366.42" x2="222.5" y2="366.42"/>
<line x1="203" y1="201" x2="222.5" y2="201"/>
</g>
<g font-size="57.2" letter-spacing="-1.7">
<text x="222.8" y="1302" text-anchor="middle">1000</text>
<text x="495.97" y="1302" text-anchor="middle">1010</text>
<text x="769.13" y="1302" text-anchor="middle">1020</text>
<text x="1042.3" y="1302" text-anchor="middle">1030</text>
<text x="1315.47" y="1302" text-anchor="middle">1040</text>
<text x="1588.63" y="1302" text-anchor="middle">1050</text>
<text x="1861.8" y="1302" text-anchor="middle">1060</text>
<text x="185" y="1212.7" text-anchor="end" letter-spacing="-0.4">0</text>
<text x="185" y="1047.28" text-anchor="end" letter-spacing="-0.4">50</text>
<text x="185" y="881.87" text-anchor="end" letter-spacing="-0.4">100</text>
<text x="185" y="716.45" text-anchor="end" letter-spacing="-0.4">150</text>
<text x="185" y="551.03" text-anchor="end" letter-spacing="-0.4">200</text>
<text x="185" y="385.62" text-anchor="end" letter-spacing="-0.4">250</text>
<text x="185" y="220.2" text-anchor="end" letter-spacing="-0.4">300</text>
</g>
<text x="1042" y="69.2" font-size="77.78" letter-spacing="-0.8" text-anchor="middle">Reactivity Compensation Curve during Pump Start-up</text>
<text x="1042" y="1388.5" font-size="77.78" letter-spacing="-0.9" text-anchor="middle">Time (s)</text>
<text transform="translate(63.3 665.5) rotate(-90)" font-size="77.78" letter-spacing="-0.43" text-anchor="middle"><tspan font-style="italic">ρ</tspan> (pcm)</text>
<rect x="895.35" y="886" width="951.45" height="326" rx="11.5" ry="11.5" fill="#4d4d4d" fill-opacity="0.5"/>
<rect x="885.75" y="876.4" width="948.45" height="323" rx="7" ry="7" fill="#fff" stroke="#000" stroke-width="6.94"/>
<line x1="903.1" y1="917.5" x2="1020" y2="917.5" stroke="#1f77b4" stroke-width="8.9"/>
<circle cx="961.55" cy="917.5" r="13.89" fill="#1f77b4"/>
<text x="1057.5" y="936.1" font-size="55.56" letter-spacing="-0.6">nV = 1</text>
<line x1="903.1" y1="993.6" x2="1020" y2="993.6" stroke="#ff7f0e" stroke-width="8.9"/>
<rect x="947.66" y="979.71" width="27.78" height="27.78" fill="#ff7f0e"/>
<text x="1057.5" y="1012.2" font-size="55.56" letter-spacing="-0.6">nV = 2</text>
<line x1="903.1" y1="1070.5" x2="1020" y2="1070.5" stroke="#2ca02c" stroke-width="8.9"/>
<polygon points="961.55,1050.86 981.19,1070.5 961.55,1090.14 941.91,1070.5" fill="#2ca02c"/>
<text x="1057.5" y="1089.1" font-size="55.56" letter-spacing="-0.6">nV = 5</text>
<line x1="903.1" y1="1147.4" x2="1020" y2="1147.4" stroke="#d62728" stroke-width="8.9"/>
<polygon points="961.55,1136.29 950.44,1158.51 972.66,1158.51" fill="#d62728" stroke="#d62728" stroke-width="5.56" stroke-linejoin="miter"/>
<text x="1057.5" y="1166" font-size="55.56" letter-spacing="-0.6">nV = 10</text>
<line x1="1340" y1="917.5" x2="1457.9" y2="917.5" stroke="#9467bd" stroke-width="8.9"/>
<polygon points="1398.95,928.61 1387.84,906.39 1410.06,906.39" fill="#9467bd" stroke="#9467bd" stroke-width="5.56" stroke-linejoin="miter"/>
<text x="1496" y="936.1" font-size="55.56" letter-spacing="-0.6">nV = 20</text>
<g fill="#000"><polygon points="1392.95,986.8 1398.95,992.5 1404.95,986.8 1411.05,992.9 1405.35,998.9 1411.05,1004.9 1404.95,1011 1398.95,1005.3 1392.95,1011 1386.85,1004.9 1392.55,998.9 1386.85,992.9"/></g>
<text x="1496" y="1012.2" font-size="55.56" letter-spacing="-0.6">ORNL data</text>
<line x1="1344.2" y1="1070.5" x2="1453.7" y2="1070.5" stroke="#1f77b4" stroke-width="6" stroke-dasharray="20.56 8.89"/>
<text x="1496" y="1089.1" font-size="55.56" letter-spacing="-0.6">DYN3D-MSR</text>
</svg></body></html>
